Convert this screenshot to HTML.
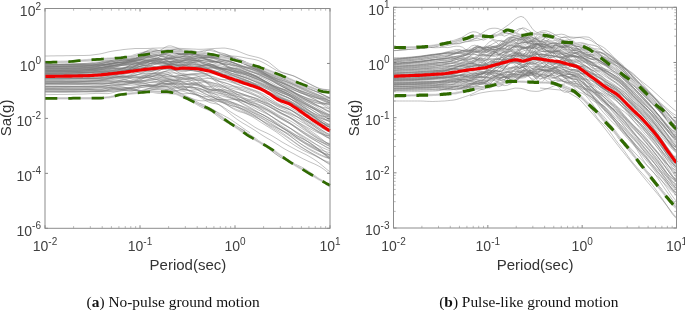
<!DOCTYPE html>
<html><head><meta charset="utf-8"><style>
html,body{margin:0;padding:0;background:#fff;}
body{width:685px;height:310px;overflow:hidden;position:relative;}
svg{position:absolute;left:0;top:0;filter:blur(0.35px);}
</style></head><body>
<svg width="685" height="310" viewBox="0 0 685 310">
<path d="M45.0 86.2L48.0 86.2L51.0 86.2L54.0 86.2L57.0 86.2L60.0 86.2L63.0 86.2L66.0 86.2L69.0 86.2L72.0 86.2L75.0 86.2L78.0 86.1L81.0 86.1L84.0 86.0L87.0 86.1L90.0 86.1L93.0 86.1L96.0 86.1L99.0 86.1L102.0 86.0L105.0 85.8L108.0 85.5L111.0 85.2L114.0 85.0L117.0 84.9L120.0 84.9L123.0 84.7L126.0 84.4L129.0 83.9L132.0 83.7L135.0 83.9L138.0 84.5L141.0 84.9L144.0 85.2L147.0 85.4L150.0 85.6L153.0 85.8L156.0 85.4L159.0 84.4L162.0 82.9L165.0 81.7L168.0 81.5L171.0 82.4L174.0 83.8L177.0 85.1L180.0 86.0L183.0 86.7L186.0 87.2L189.0 87.4L192.0 87.4L195.0 87.4L198.0 87.8L201.0 88.7L204.0 90.0L207.0 91.2L210.0 92.3L213.0 93.3L216.0 94.2L219.0 95.1L222.0 96.0L225.0 96.8L228.0 97.6L231.0 98.3L234.0 99.2L237.0 100.5L240.0 102.3L243.0 104.2L246.0 105.9L249.0 107.6L252.0 109.2L255.0 110.9L258.0 112.4L261.0 113.8L264.0 115.2L267.0 116.7L270.0 118.4L273.0 120.2L276.0 122.1L279.0 124.1L282.0 126.0L285.0 127.9L288.0 129.8L291.0 131.8L294.0 133.8L297.0 135.7L300.0 137.4L303.0 138.9L306.0 140.5L309.0 142.2L312.0 144.2L315.0 146.5L318.0 149.0L321.0 151.6L324.0 154.3L327.0 157.0L330.0 159.3M45.0 73.2L48.0 73.2L51.0 73.2L54.0 73.1L57.0 73.1L60.0 73.1L63.0 73.1L66.0 73.0L69.0 72.9L72.0 72.9L75.0 72.8L78.0 72.7L81.0 72.6L84.0 72.4L87.0 72.2L90.0 71.9L93.0 71.6L96.0 71.3L99.0 71.3L102.0 71.3L105.0 71.1L108.0 70.7L111.0 70.4L114.0 70.5L117.0 70.9L120.0 71.2L123.0 70.9L126.0 70.3L129.0 69.8L132.0 69.7L135.0 69.8L138.0 69.9L141.0 69.2L144.0 67.6L147.0 65.5L150.0 63.7L153.0 62.9L156.0 63.0L159.0 63.1L162.0 63.1L165.0 63.4L168.0 64.0L171.0 64.7L174.0 65.3L177.0 65.5L180.0 65.1L183.0 64.8L186.0 65.3L189.0 66.6L192.0 67.9L195.0 68.6L198.0 68.6L201.0 68.3L204.0 68.3L207.0 68.8L210.0 69.5L213.0 70.3L216.0 71.1L219.0 72.2L222.0 73.7L225.0 75.5L228.0 77.1L231.0 78.4L234.0 79.5L237.0 80.8L240.0 82.1L243.0 83.4L246.0 84.5L249.0 85.4L252.0 86.3L255.0 87.2L258.0 88.4L261.0 89.5L264.0 90.6L267.0 91.7L270.0 93.1L273.0 95.0L276.0 97.1L279.0 98.9L282.0 100.3L285.0 101.6L288.0 102.9L291.0 104.7L294.0 106.6L297.0 108.7L300.0 110.9L303.0 113.0L306.0 115.1L309.0 117.1L312.0 118.8L315.0 120.2L318.0 121.4L321.0 122.5L324.0 123.6L327.0 124.4L330.0 124.8M45.0 78.4L48.0 78.4L51.0 78.4L54.0 78.3L57.0 78.3L60.0 78.3L63.0 78.3L66.0 78.3L69.0 78.4L72.0 78.4L75.0 78.4L78.0 78.4L81.0 78.5L84.0 78.5L87.0 78.4L90.0 78.4L93.0 78.5L96.0 78.6L99.0 78.7L102.0 78.7L105.0 78.6L108.0 78.4L111.0 78.0L114.0 77.6L117.0 77.0L120.0 76.4L123.0 76.2L126.0 76.6L129.0 77.2L132.0 77.6L135.0 77.8L138.0 77.3L141.0 76.3L144.0 75.1L147.0 74.2L150.0 73.7L153.0 73.5L156.0 74.0L159.0 75.0L162.0 76.2L165.0 77.4L168.0 78.5L171.0 79.8L174.0 81.0L177.0 81.6L180.0 81.4L183.0 81.0L186.0 81.1L189.0 82.1L192.0 83.7L195.0 85.1L198.0 86.0L201.0 86.7L204.0 87.7L207.0 88.6L210.0 89.4L213.0 89.9L216.0 90.5L219.0 91.4L222.0 92.2L225.0 92.5L228.0 92.8L231.0 93.5L234.0 94.7L237.0 96.0L240.0 97.3L243.0 98.7L246.0 100.1L249.0 101.5L252.0 102.8L255.0 104.0L258.0 105.1L261.0 106.4L264.0 107.7L267.0 109.2L270.0 110.9L273.0 112.6L276.0 114.4L279.0 116.3L282.0 118.2L285.0 120.0L288.0 121.9L291.0 124.1L294.0 126.4L297.0 128.7L300.0 131.0L303.0 133.2L306.0 135.2L309.0 137.1L312.0 138.9L315.0 140.6L318.0 142.3L321.0 144.1L324.0 145.9L327.0 147.6L330.0 148.9M45.0 81.3L48.0 81.3L51.0 81.3L54.0 81.3L57.0 81.3L60.0 81.3L63.0 81.3L66.0 81.3L69.0 81.3L72.0 81.3L75.0 81.3L78.0 81.2L81.0 81.1L84.0 81.1L87.0 81.1L90.0 81.0L93.0 80.9L96.0 80.8L99.0 80.5L102.0 80.3L105.0 80.2L108.0 80.3L111.0 80.3L114.0 80.1L117.0 80.1L120.0 80.5L123.0 81.3L126.0 82.1L129.0 82.3L132.0 81.9L135.0 81.3L138.0 80.4L141.0 79.2L144.0 78.2L147.0 77.9L150.0 78.4L153.0 78.7L156.0 78.0L159.0 77.2L162.0 77.1L165.0 78.0L168.0 79.3L171.0 80.2L174.0 80.8L177.0 80.7L180.0 79.9L183.0 79.2L186.0 79.5L189.0 81.0L192.0 82.8L195.0 83.9L198.0 84.7L201.0 85.9L204.0 87.7L207.0 89.4L210.0 90.2L213.0 90.2L216.0 89.9L219.0 89.7L222.0 90.2L225.0 91.6L228.0 93.6L231.0 95.5L234.0 97.0L237.0 98.3L240.0 99.6L243.0 100.9L246.0 102.3L249.0 103.6L252.0 105.0L255.0 106.4L258.0 108.0L261.0 109.7L264.0 111.6L267.0 113.5L270.0 115.4L273.0 117.3L276.0 119.2L279.0 121.2L282.0 123.3L285.0 125.2L288.0 127.0L291.0 128.7L294.0 130.5L297.0 132.3L300.0 134.1L303.0 135.9L306.0 137.7L309.0 139.5L312.0 141.5L315.0 143.6L318.0 145.8L321.0 148.2L324.0 150.7L327.0 153.2L330.0 155.2M45.0 71.9L48.0 71.8L51.0 71.8L54.0 71.8L57.0 71.8L60.0 71.7L63.0 71.7L66.0 71.6L69.0 71.6L72.0 71.5L75.0 71.5L78.0 71.5L81.0 71.4L84.0 71.4L87.0 71.3L90.0 71.1L93.0 70.9L96.0 70.6L99.0 70.2L102.0 69.8L105.0 69.4L108.0 69.1L111.0 68.9L114.0 68.7L117.0 68.8L120.0 68.9L123.0 68.6L126.0 67.6L129.0 66.3L132.0 65.5L135.0 65.5L138.0 66.1L141.0 66.6L144.0 66.9L147.0 66.9L150.0 67.0L153.0 67.1L156.0 67.0L159.0 66.5L162.0 65.6L165.0 64.8L168.0 64.6L171.0 65.2L174.0 66.3L177.0 67.0L180.0 67.0L183.0 66.4L186.0 65.8L189.0 64.9L192.0 64.1L195.0 63.8L198.0 64.4L201.0 65.6L204.0 67.0L207.0 68.3L210.0 69.5L213.0 70.6L216.0 71.6L219.0 72.8L222.0 73.9L225.0 75.0L228.0 76.2L231.0 77.5L234.0 78.7L237.0 79.6L240.0 80.3L243.0 81.2L246.0 82.2L249.0 83.4L252.0 84.6L255.0 85.9L258.0 87.3L261.0 88.8L264.0 90.5L267.0 92.5L270.0 94.7L273.0 97.1L276.0 99.5L279.0 101.7L282.0 103.7L285.0 105.2L288.0 106.6L291.0 108.1L294.0 109.8L297.0 111.6L300.0 113.4L303.0 115.2L306.0 116.9L309.0 118.8L312.0 120.7L315.0 122.6L318.0 124.5L321.0 126.3L324.0 128.1L327.0 129.7L330.0 130.9M45.0 64.6L48.0 64.6L51.0 64.5L54.0 64.4L57.0 64.4L60.0 64.3L63.0 64.2L66.0 64.1L69.0 64.1L72.0 64.0L75.0 63.9L78.0 63.9L81.0 63.8L84.0 63.8L87.0 63.8L90.0 63.7L93.0 63.4L96.0 63.1L99.0 62.6L102.0 62.1L105.0 61.7L108.0 61.2L111.0 60.5L114.0 59.7L117.0 59.1L120.0 58.9L123.0 58.8L126.0 58.5L129.0 58.1L132.0 57.4L135.0 56.6L138.0 55.5L141.0 54.0L144.0 52.4L147.0 50.8L150.0 49.6L153.0 49.0L156.0 49.5L159.0 50.8L162.0 51.9L165.0 51.8L168.0 51.0L171.0 50.6L174.0 51.6L177.0 53.4L180.0 55.1L183.0 56.3L186.0 56.8L189.0 57.2L192.0 57.4L195.0 57.4L198.0 57.3L201.0 57.1L204.0 57.0L207.0 57.2L210.0 57.6L213.0 57.6L216.0 57.4L219.0 56.9L222.0 56.4L225.0 56.2L228.0 56.5L231.0 57.4L234.0 58.8L237.0 60.4L240.0 62.1L243.0 63.6L246.0 64.8L249.0 66.1L252.0 67.6L255.0 69.1L258.0 70.7L261.0 72.5L264.0 74.2L267.0 76.0L270.0 77.7L273.0 79.3L276.0 80.8L279.0 81.9L282.0 82.9L285.0 83.8L288.0 84.9L291.0 86.2L294.0 87.6L297.0 89.0L300.0 90.4L303.0 91.6L306.0 92.9L309.0 94.1L312.0 95.4L315.0 96.8L318.0 98.1L321.0 99.5L324.0 100.9L327.0 102.1L330.0 103.2M45.0 75.7L48.0 75.7L51.0 75.7L54.0 75.6L57.0 75.6L60.0 75.6L63.0 75.5L66.0 75.4L69.0 75.4L72.0 75.4L75.0 75.4L78.0 75.3L81.0 75.2L84.0 75.1L87.0 75.1L90.0 75.0L93.0 74.9L96.0 74.6L99.0 74.3L102.0 74.0L105.0 73.4L108.0 72.7L111.0 72.1L114.0 71.8L117.0 71.8L120.0 72.0L123.0 71.9L126.0 71.1L129.0 70.0L132.0 69.0L135.0 68.4L138.0 67.8L141.0 67.3L144.0 67.2L147.0 67.9L150.0 69.2L153.0 70.2L156.0 70.0L159.0 68.5L162.0 66.6L165.0 65.2L168.0 64.9L171.0 66.0L174.0 67.7L177.0 68.8L180.0 68.9L183.0 68.7L186.0 69.0L189.0 69.4L192.0 69.9L195.0 70.4L198.0 71.3L201.0 72.4L204.0 73.3L207.0 73.7L210.0 73.8L213.0 73.7L216.0 73.5L219.0 73.5L222.0 73.9L225.0 74.5L228.0 75.4L231.0 76.4L234.0 77.5L237.0 78.6L240.0 79.6L243.0 80.6L246.0 81.6L249.0 82.8L252.0 83.9L255.0 85.0L258.0 86.3L261.0 87.8L264.0 89.4L267.0 90.8L270.0 92.1L273.0 93.6L276.0 95.2L279.0 96.7L282.0 98.0L285.0 99.3L288.0 100.6L291.0 102.2L294.0 104.0L297.0 105.8L300.0 107.7L303.0 109.5L306.0 111.5L309.0 113.6L312.0 115.7L315.0 117.8L318.0 119.8L321.0 121.9L324.0 123.8L327.0 125.7L330.0 127.1M45.0 70.8L48.0 70.7L51.0 70.7L54.0 70.6L57.0 70.6L60.0 70.5L63.0 70.5L66.0 70.4L69.0 70.4L72.0 70.3L75.0 70.2L78.0 70.1L81.0 70.0L84.0 69.9L87.0 69.8L90.0 69.7L93.0 69.5L96.0 69.4L99.0 69.2L102.0 69.0L105.0 68.6L108.0 68.2L111.0 67.8L114.0 67.4L117.0 66.6L120.0 65.4L123.0 64.3L126.0 63.8L129.0 64.1L132.0 64.4L135.0 64.1L138.0 63.5L141.0 62.6L144.0 61.6L147.0 60.3L150.0 59.2L153.0 58.6L156.0 58.9L159.0 59.7L162.0 61.0L165.0 62.4L168.0 63.7L171.0 64.4L174.0 64.3L177.0 63.4L180.0 62.0L183.0 60.7L186.0 59.9L189.0 59.9L192.0 60.4L195.0 60.9L198.0 60.9L201.0 60.4L204.0 59.6L207.0 59.3L210.0 59.5L213.0 60.3L216.0 61.3L219.0 62.3L222.0 63.5L225.0 64.8L228.0 66.2L231.0 67.3L234.0 68.0L237.0 68.6L240.0 69.5L243.0 70.7L246.0 72.0L249.0 73.3L252.0 74.6L255.0 75.9L258.0 77.2L261.0 78.6L264.0 80.2L267.0 81.8L270.0 83.5L273.0 85.1L276.0 86.7L279.0 88.1L282.0 89.3L285.0 90.5L288.0 91.7L291.0 93.1L294.0 94.7L297.0 96.3L300.0 97.8L303.0 99.3L306.0 100.8L309.0 102.3L312.0 103.8L315.0 105.0L318.0 106.1L321.0 106.9L324.0 107.6L327.0 108.1L330.0 108.2M45.0 77.7L48.0 77.7L51.0 77.7L54.0 77.7L57.0 77.7L60.0 77.7L63.0 77.7L66.0 77.6L69.0 77.6L72.0 77.6L75.0 77.6L78.0 77.6L81.0 77.6L84.0 77.6L87.0 77.6L90.0 77.5L93.0 77.4L96.0 77.1L99.0 76.7L102.0 76.4L105.0 76.2L108.0 76.1L111.0 75.9L114.0 75.8L117.0 75.9L120.0 76.3L123.0 76.8L126.0 76.9L129.0 76.4L132.0 75.8L135.0 76.1L138.0 77.1L141.0 77.7L144.0 77.2L147.0 76.0L150.0 74.8L153.0 74.0L156.0 73.4L159.0 72.7L162.0 71.9L165.0 71.6L168.0 72.2L171.0 74.0L174.0 75.9L177.0 76.8L180.0 76.2L183.0 75.2L186.0 74.5L189.0 74.1L192.0 73.8L195.0 73.6L198.0 73.3L201.0 73.1L204.0 73.6L207.0 74.8L210.0 76.5L213.0 78.3L216.0 79.8L219.0 81.0L222.0 81.9L225.0 82.8L228.0 83.8L231.0 84.9L234.0 86.2L237.0 87.4L240.0 88.5L243.0 89.4L246.0 90.3L249.0 91.4L252.0 92.8L255.0 94.3L258.0 95.6L261.0 96.8L264.0 98.1L267.0 99.7L270.0 101.6L273.0 103.7L276.0 105.7L279.0 107.3L282.0 108.6L285.0 109.7L288.0 111.0L291.0 112.7L294.0 114.7L297.0 116.8L300.0 119.1L303.0 121.4L306.0 123.7L309.0 125.9L312.0 128.0L315.0 130.0L318.0 132.0L321.0 133.9L324.0 135.7L327.0 137.3L330.0 138.2M45.0 73.0L48.0 72.9L51.0 72.9L54.0 72.9L57.0 72.9L60.0 72.8L63.0 72.8L66.0 72.8L69.0 72.7L72.0 72.7L75.0 72.7L78.0 72.6L81.0 72.6L84.0 72.4L87.0 72.3L90.0 72.4L93.0 72.6L96.0 72.8L99.0 72.7L102.0 72.5L105.0 72.2L108.0 72.0L111.0 71.8L114.0 71.3L117.0 70.7L120.0 70.2L123.0 69.8L126.0 69.3L129.0 68.8L132.0 68.2L135.0 67.6L138.0 66.8L141.0 66.0L144.0 65.4L147.0 65.1L150.0 65.2L153.0 66.1L156.0 67.5L159.0 68.8L162.0 69.5L165.0 69.6L168.0 69.1L171.0 68.8L174.0 69.7L177.0 71.6L180.0 73.4L183.0 74.7L186.0 75.3L189.0 75.2L192.0 74.8L195.0 75.0L198.0 76.2L201.0 78.1L204.0 80.5L207.0 82.6L210.0 84.2L213.0 85.5L216.0 87.0L219.0 88.6L222.0 90.4L225.0 91.9L228.0 93.3L231.0 94.7L234.0 96.1L237.0 97.7L240.0 99.4L243.0 101.1L246.0 102.8L249.0 104.6L252.0 106.4L255.0 108.2L258.0 109.8L261.0 111.2L264.0 112.6L267.0 114.0L270.0 115.6L273.0 117.4L276.0 119.2L279.0 121.0L282.0 122.8L285.0 124.7L288.0 126.7L291.0 128.9L294.0 131.2L297.0 133.5L300.0 135.8L303.0 138.1L306.0 140.4L309.0 142.7L312.0 145.0L315.0 147.1L318.0 149.3L321.0 151.4L324.0 153.5L327.0 155.5L330.0 157.1M45.0 76.4L48.0 76.4L51.0 76.4L54.0 76.4L57.0 76.4L60.0 76.3L63.0 76.3L66.0 76.3L69.0 76.3L72.0 76.3L75.0 76.3L78.0 76.3L81.0 76.3L84.0 76.2L87.0 76.0L90.0 75.8L93.0 75.5L96.0 75.3L99.0 75.1L102.0 74.9L105.0 74.9L108.0 74.9L111.0 74.6L114.0 74.3L117.0 74.2L120.0 74.6L123.0 74.6L126.0 73.8L129.0 72.5L132.0 71.6L135.0 71.1L138.0 70.5L141.0 70.1L144.0 70.1L147.0 70.6L150.0 71.3L153.0 72.0L156.0 72.6L159.0 72.9L162.0 72.4L165.0 71.3L168.0 70.2L171.0 69.9L174.0 70.3L177.0 70.8L180.0 71.2L183.0 71.7L186.0 71.5L189.0 70.5L192.0 69.6L195.0 69.5L198.0 70.0L201.0 70.4L204.0 70.4L207.0 70.3L210.0 70.8L213.0 72.0L216.0 73.6L219.0 74.8L222.0 75.5L225.0 76.0L228.0 76.7L231.0 77.9L234.0 79.5L237.0 80.9L240.0 81.8L243.0 82.4L246.0 82.9L249.0 83.6L252.0 84.6L255.0 85.6L258.0 86.8L261.0 88.4L264.0 90.5L267.0 92.6L270.0 94.7L273.0 96.7L276.0 98.4L279.0 99.9L282.0 101.1L285.0 102.0L288.0 103.0L291.0 104.1L294.0 105.5L297.0 107.0L300.0 108.7L303.0 110.6L306.0 112.7L309.0 115.0L312.0 117.2L315.0 119.3L318.0 121.1L321.0 122.9L324.0 124.5L327.0 125.9L330.0 126.7M45.0 74.7L48.0 74.7L51.0 74.6L54.0 74.6L57.0 74.6L60.0 74.5L63.0 74.5L66.0 74.5L69.0 74.4L72.0 74.4L75.0 74.4L78.0 74.3L81.0 74.3L84.0 74.3L87.0 74.2L90.0 74.0L93.0 73.8L96.0 73.4L99.0 73.0L102.0 72.5L105.0 72.2L108.0 72.3L111.0 72.4L114.0 72.4L117.0 72.0L120.0 71.3L123.0 70.6L126.0 69.7L129.0 68.7L132.0 67.5L135.0 66.5L138.0 66.3L141.0 67.0L144.0 67.8L147.0 68.1L150.0 68.1L153.0 67.8L156.0 67.2L159.0 66.4L162.0 65.7L165.0 65.1L168.0 64.4L171.0 63.6L174.0 62.8L177.0 62.2L180.0 61.6L183.0 61.6L186.0 62.7L189.0 64.8L192.0 66.5L195.0 67.3L198.0 67.4L201.0 67.9L204.0 69.0L207.0 70.2L210.0 71.0L213.0 71.1L216.0 71.3L219.0 71.8L222.0 72.6L225.0 73.4L228.0 74.2L231.0 74.8L234.0 75.3L237.0 76.0L240.0 77.1L243.0 78.4L246.0 79.8L249.0 81.0L252.0 82.2L255.0 83.3L258.0 84.3L261.0 85.3L264.0 86.5L267.0 87.8L270.0 89.1L273.0 90.6L276.0 92.2L279.0 93.7L282.0 95.0L285.0 96.3L288.0 97.7L291.0 99.3L294.0 101.1L297.0 103.0L300.0 104.9L303.0 106.8L306.0 108.6L309.0 110.4L312.0 112.2L315.0 113.9L318.0 115.6L321.0 117.2L324.0 118.8L327.0 120.3L330.0 121.5M45.0 91.5L48.0 91.5L51.0 91.5L54.0 91.5L57.0 91.5L60.0 91.5L63.0 91.5L66.0 91.5L69.0 91.5L72.0 91.5L75.0 91.6L78.0 91.6L81.0 91.6L84.0 91.6L87.0 91.6L90.0 91.5L93.0 91.6L96.0 91.7L99.0 91.8L102.0 91.8L105.0 91.9L108.0 91.7L111.0 91.4L114.0 91.0L117.0 90.5L120.0 89.9L123.0 89.3L126.0 89.0L129.0 89.0L132.0 89.6L135.0 90.4L138.0 90.8L141.0 90.6L144.0 90.0L147.0 89.2L150.0 88.5L153.0 88.1L156.0 87.9L159.0 87.3L162.0 86.5L165.0 86.2L168.0 87.2L171.0 89.1L174.0 90.6L177.0 90.9L180.0 90.8L183.0 91.2L186.0 92.2L189.0 93.2L192.0 94.0L195.0 94.7L198.0 95.5L201.0 96.3L204.0 96.7L207.0 96.6L210.0 96.6L213.0 97.2L216.0 98.5L219.0 99.5L222.0 99.8L225.0 99.7L228.0 99.6L231.0 99.7L234.0 99.7L237.0 99.7L240.0 99.8L243.0 100.0L246.0 100.3L249.0 100.6L252.0 101.0L255.0 101.5L258.0 102.1L261.0 103.0L264.0 104.1L267.0 105.5L270.0 107.0L273.0 108.7L276.0 110.5L279.0 112.2L282.0 113.8L285.0 115.2L288.0 116.8L291.0 118.5L294.0 120.7L297.0 123.0L300.0 125.3L303.0 127.7L306.0 129.9L309.0 132.2L312.0 134.4L315.0 136.4L318.0 138.3L321.0 140.0L324.0 141.5L327.0 142.8L330.0 143.6M45.0 71.8L48.0 71.7L51.0 71.7L54.0 71.7L57.0 71.6L60.0 71.6L63.0 71.6L66.0 71.5L69.0 71.4L72.0 71.4L75.0 71.3L78.0 71.3L81.0 71.2L84.0 71.0L87.0 70.8L90.0 70.7L93.0 70.6L96.0 70.7L99.0 70.7L102.0 70.7L105.0 70.5L108.0 69.9L111.0 69.1L114.0 68.6L117.0 68.8L120.0 69.6L123.0 70.3L126.0 70.2L129.0 69.3L132.0 67.7L135.0 65.9L138.0 64.2L141.0 63.1L144.0 62.4L147.0 62.0L150.0 61.7L153.0 61.6L156.0 61.7L159.0 62.0L162.0 62.2L165.0 62.1L168.0 61.6L171.0 61.2L174.0 61.5L177.0 62.1L180.0 62.4L183.0 62.5L186.0 62.5L189.0 62.6L192.0 62.6L195.0 62.2L198.0 61.3L201.0 60.4L204.0 60.1L207.0 60.6L210.0 61.6L213.0 62.7L216.0 63.7L219.0 64.3L222.0 64.5L225.0 64.5L228.0 64.5L231.0 64.8L234.0 65.4L237.0 66.4L240.0 67.5L243.0 68.7L246.0 69.9L249.0 71.1L252.0 72.2L255.0 73.4L258.0 74.6L261.0 75.9L264.0 77.3L267.0 78.6L270.0 79.9L273.0 81.4L276.0 83.2L279.0 85.0L282.0 86.7L285.0 88.1L288.0 89.5L291.0 90.9L294.0 92.4L297.0 93.9L300.0 95.4L303.0 96.7L306.0 97.9L309.0 99.0L312.0 100.0L315.0 100.9L318.0 101.7L321.0 102.5L324.0 103.2L327.0 103.7L330.0 104.0M45.0 78.2L48.0 78.2L51.0 78.2L54.0 78.2L57.0 78.3L60.0 78.3L63.0 78.3L66.0 78.3L69.0 78.3L72.0 78.3L75.0 78.3L78.0 78.3L81.0 78.2L84.0 78.0L87.0 77.9L90.0 78.0L93.0 78.0L96.0 78.0L99.0 77.8L102.0 77.5L105.0 77.2L108.0 77.0L111.0 76.8L114.0 76.8L117.0 76.9L120.0 77.1L123.0 77.3L126.0 77.4L129.0 77.1L132.0 76.5L135.0 75.5L138.0 74.5L141.0 73.5L144.0 73.0L147.0 73.0L150.0 73.3L153.0 73.4L156.0 73.3L159.0 73.8L162.0 74.9L165.0 76.3L168.0 77.1L171.0 77.0L174.0 76.2L177.0 75.5L180.0 75.2L183.0 75.4L186.0 75.9L189.0 76.7L192.0 77.8L195.0 79.3L198.0 81.2L201.0 83.3L204.0 85.3L207.0 86.4L210.0 86.5L213.0 86.0L216.0 85.9L219.0 86.8L222.0 88.2L225.0 89.8L228.0 91.0L231.0 91.9L234.0 92.8L237.0 94.1L240.0 95.5L243.0 97.1L246.0 98.6L249.0 100.1L252.0 101.4L255.0 102.9L258.0 104.5L261.0 106.4L264.0 108.2L267.0 109.8L270.0 111.4L273.0 113.2L276.0 115.1L279.0 117.0L282.0 118.7L285.0 120.1L288.0 121.6L291.0 123.4L294.0 125.5L297.0 127.7L300.0 129.9L303.0 131.9L306.0 133.9L309.0 135.8L312.0 137.5L315.0 139.1L318.0 140.6L321.0 141.9L324.0 143.0L327.0 144.0L330.0 144.6M45.0 70.9L48.0 70.9L51.0 70.9L54.0 70.8L57.0 70.8L60.0 70.7L63.0 70.7L66.0 70.6L69.0 70.6L72.0 70.5L75.0 70.4L78.0 70.4L81.0 70.3L84.0 70.1L87.0 69.9L90.0 69.7L93.0 69.5L96.0 69.3L99.0 68.9L102.0 68.4L105.0 67.8L108.0 67.5L111.0 67.4L114.0 67.7L117.0 68.2L120.0 68.4L123.0 68.1L126.0 67.1L129.0 65.8L132.0 64.6L135.0 64.0L138.0 64.0L141.0 64.2L144.0 63.8L147.0 62.7L150.0 61.1L153.0 59.5L156.0 58.4L159.0 58.3L162.0 59.2L165.0 60.4L168.0 61.0L171.0 61.2L174.0 61.7L177.0 62.6L180.0 63.5L183.0 64.7L186.0 66.0L189.0 67.0L192.0 67.5L195.0 67.6L198.0 67.1L201.0 66.4L204.0 65.8L207.0 65.5L210.0 65.5L213.0 65.8L216.0 66.6L219.0 67.8L222.0 69.3L225.0 70.7L228.0 71.9L231.0 73.1L234.0 74.0L237.0 74.9L240.0 75.8L243.0 76.8L246.0 78.0L249.0 79.1L252.0 80.3L255.0 81.6L258.0 83.1L261.0 84.5L264.0 86.1L267.0 87.6L270.0 89.4L273.0 91.4L276.0 93.2L279.0 94.6L282.0 95.8L285.0 96.8L288.0 98.0L291.0 99.5L294.0 101.5L297.0 103.7L300.0 106.0L303.0 108.3L306.0 110.6L309.0 113.0L312.0 115.3L315.0 117.6L318.0 119.7L321.0 121.7L324.0 123.4L327.0 124.9L330.0 125.9M45.0 67.6L48.0 67.5L51.0 67.5L54.0 67.4L57.0 67.4L60.0 67.3L63.0 67.3L66.0 67.2L69.0 67.2L72.0 67.1L75.0 67.1L78.0 67.1L81.0 67.1L84.0 67.1L87.0 67.0L90.0 66.8L93.0 66.5L96.0 66.1L99.0 65.6L102.0 65.1L105.0 64.5L108.0 63.8L111.0 63.1L114.0 62.7L117.0 62.5L120.0 62.8L123.0 63.4L126.0 63.6L129.0 63.1L132.0 61.7L135.0 60.0L138.0 58.7L141.0 58.1L144.0 57.9L147.0 57.5L150.0 57.0L153.0 56.6L156.0 56.3L159.0 55.5L162.0 54.1L165.0 52.8L168.0 52.1L171.0 52.2L174.0 52.4L177.0 52.4L180.0 52.5L183.0 52.9L186.0 53.2L189.0 53.1L192.0 52.9L195.0 53.0L198.0 53.7L201.0 55.0L204.0 56.2L207.0 56.9L210.0 57.1L213.0 56.9L216.0 56.8L219.0 57.0L222.0 57.2L225.0 57.2L228.0 57.1L231.0 57.5L234.0 58.4L237.0 59.8L240.0 61.4L243.0 63.2L246.0 64.9L249.0 66.5L252.0 67.9L255.0 69.2L258.0 70.5L261.0 72.0L264.0 73.5L267.0 74.9L270.0 76.4L273.0 77.6L276.0 78.6L279.0 79.5L282.0 80.3L285.0 81.2L288.0 82.2L291.0 83.3L294.0 84.6L297.0 85.8L300.0 87.1L303.0 88.3L306.0 89.4L309.0 90.6L312.0 91.8L315.0 93.1L318.0 94.5L321.0 96.1L324.0 97.7L327.0 99.4L330.0 101.0M45.0 87.2L48.0 87.2L51.0 87.2L54.0 87.2L57.0 87.2L60.0 87.2L63.0 87.2L66.0 87.2L69.0 87.2L72.0 87.1L75.0 87.1L78.0 87.1L81.0 87.1L84.0 87.1L87.0 87.1L90.0 87.1L93.0 87.2L96.0 87.2L99.0 87.0L102.0 86.9L105.0 86.9L108.0 86.9L111.0 86.6L114.0 85.8L117.0 85.1L120.0 84.8L123.0 84.6L126.0 84.3L129.0 83.8L132.0 83.2L135.0 82.4L138.0 81.4L141.0 80.6L144.0 80.3L147.0 80.3L150.0 80.2L153.0 79.6L156.0 79.1L159.0 78.9L162.0 79.1L165.0 79.4L168.0 79.8L171.0 80.0L174.0 80.2L177.0 80.1L180.0 79.7L183.0 79.3L186.0 79.2L189.0 79.6L192.0 80.6L195.0 82.2L198.0 84.0L201.0 85.4L204.0 86.2L207.0 86.8L210.0 87.6L213.0 88.4L216.0 89.3L219.0 90.0L222.0 90.5L225.0 91.1L228.0 92.0L231.0 93.1L234.0 93.9L237.0 94.4L240.0 94.8L243.0 95.2L246.0 95.7L249.0 96.4L252.0 97.1L255.0 97.8L258.0 98.7L261.0 99.8L264.0 101.2L267.0 102.8L270.0 104.5L273.0 106.3L276.0 108.0L279.0 109.4L282.0 110.6L285.0 111.4L288.0 112.3L291.0 113.6L294.0 115.1L297.0 116.7L300.0 118.5L303.0 120.4L306.0 122.4L309.0 124.6L312.0 126.7L315.0 128.9L318.0 131.0L321.0 133.1L324.0 135.3L327.0 137.3L330.0 139.0M45.0 94.7L48.0 94.6L51.0 94.6L54.0 94.5L57.0 94.5L60.0 94.4L63.0 94.4L66.0 94.4L69.0 94.3L72.0 94.3L75.0 94.2L78.0 94.1L81.0 94.1L84.0 94.0L87.0 93.9L90.0 93.7L93.0 93.6L96.0 93.4L99.0 93.4L102.0 93.5L105.0 93.6L108.0 93.6L111.0 93.1L114.0 92.3L117.0 91.5L120.0 90.7L123.0 89.9L126.0 88.9L129.0 88.0L132.0 87.1L135.0 86.3L138.0 85.6L141.0 85.3L144.0 85.4L147.0 85.8L150.0 86.3L153.0 86.8L156.0 87.0L159.0 86.9L162.0 86.6L165.0 86.7L168.0 86.9L171.0 87.1L174.0 87.4L177.0 88.2L180.0 89.2L183.0 89.6L186.0 88.8L189.0 87.0L192.0 85.5L195.0 85.0L198.0 85.4L201.0 86.4L204.0 87.8L207.0 89.5L210.0 91.1L213.0 92.2L216.0 92.8L219.0 93.1L222.0 93.6L225.0 94.3L228.0 94.9L231.0 95.3L234.0 95.6L237.0 96.3L240.0 97.3L243.0 98.3L246.0 98.9L249.0 99.3L252.0 99.5L255.0 100.0L258.0 100.6L261.0 101.4L264.0 102.3L267.0 103.4L270.0 104.5L273.0 106.0L276.0 107.7L279.0 109.3L282.0 110.8L285.0 112.0L288.0 113.2L291.0 114.4L294.0 115.7L297.0 117.0L300.0 118.2L303.0 119.5L306.0 120.8L309.0 122.2L312.0 123.7L315.0 125.4L318.0 127.3L321.0 129.4L324.0 131.5L327.0 133.5L330.0 135.1M45.0 67.4L48.0 67.3L51.0 67.3L54.0 67.2L57.0 67.2L60.0 67.1L63.0 67.1L66.0 67.0L69.0 66.9L72.0 66.9L75.0 66.8L78.0 66.7L81.0 66.7L84.0 66.5L87.0 66.4L90.0 66.2L93.0 66.0L96.0 65.7L99.0 65.3L102.0 64.8L105.0 64.5L108.0 64.4L111.0 64.0L114.0 63.1L117.0 61.8L120.0 60.8L123.0 60.3L126.0 60.2L129.0 60.1L132.0 60.0L135.0 60.1L138.0 60.1L141.0 59.7L144.0 58.6L147.0 57.2L150.0 55.8L153.0 54.5L156.0 53.7L159.0 53.7L162.0 54.1L165.0 54.1L168.0 53.5L171.0 52.9L174.0 52.6L177.0 52.8L180.0 53.5L183.0 54.2L186.0 54.5L189.0 54.3L192.0 54.0L195.0 54.1L198.0 54.2L201.0 53.6L204.0 52.1L207.0 50.4L210.0 49.4L213.0 49.8L216.0 51.2L219.0 53.0L222.0 54.7L225.0 56.0L228.0 56.8L231.0 57.7L234.0 58.8L237.0 59.7L240.0 60.6L243.0 61.6L246.0 62.8L249.0 64.0L252.0 65.3L255.0 66.5L258.0 67.7L261.0 69.0L264.0 70.5L267.0 72.0L270.0 73.3L273.0 74.6L276.0 75.8L279.0 77.0L282.0 78.4L285.0 79.7L288.0 81.1L291.0 82.5L294.0 83.9L297.0 85.2L300.0 86.4L303.0 87.5L306.0 88.5L309.0 89.4L312.0 90.3L315.0 91.3L318.0 92.4L321.0 93.7L324.0 95.0L327.0 96.5L330.0 97.7M45.0 69.1L48.0 69.1L51.0 69.0L54.0 69.0L57.0 69.0L60.0 68.9L63.0 68.9L66.0 68.8L69.0 68.8L72.0 68.8L75.0 68.7L78.0 68.7L81.0 68.6L84.0 68.6L87.0 68.6L90.0 68.5L93.0 68.3L96.0 68.0L99.0 67.6L102.0 67.3L105.0 66.9L108.0 66.5L111.0 66.1L114.0 65.5L117.0 64.8L120.0 64.5L123.0 64.6L126.0 64.5L129.0 64.0L132.0 63.1L135.0 62.3L138.0 62.1L141.0 62.2L144.0 62.1L147.0 61.7L150.0 61.5L153.0 62.1L156.0 63.1L159.0 63.4L162.0 62.7L165.0 61.2L168.0 59.6L171.0 58.5L174.0 58.6L177.0 59.6L180.0 60.4L183.0 60.2L186.0 59.3L189.0 58.8L192.0 59.0L195.0 59.7L198.0 60.6L201.0 61.6L204.0 62.4L207.0 63.1L210.0 63.9L213.0 65.1L216.0 66.7L219.0 68.4L222.0 70.0L225.0 70.9L228.0 71.3L231.0 71.5L234.0 71.7L237.0 72.2L240.0 72.9L243.0 73.9L246.0 74.9L249.0 76.0L252.0 77.0L255.0 78.1L258.0 79.3L261.0 80.7L264.0 82.2L267.0 83.6L270.0 85.2L273.0 86.9L276.0 88.6L279.0 90.2L282.0 91.6L285.0 93.0L288.0 94.5L291.0 96.3L294.0 98.2L297.0 100.1L300.0 101.9L303.0 103.6L306.0 105.1L309.0 106.6L312.0 108.0L315.0 109.4L318.0 110.9L321.0 112.5L324.0 114.3L327.0 116.2L330.0 118.0M45.0 75.0L48.0 75.0L51.0 75.0L54.0 75.0L57.0 74.9L60.0 74.9L63.0 74.8L66.0 74.8L69.0 74.8L72.0 74.8L75.0 74.7L78.0 74.7L81.0 74.6L84.0 74.5L87.0 74.6L90.0 74.6L93.0 74.5L96.0 74.3L99.0 74.1L102.0 73.9L105.0 73.7L108.0 73.5L111.0 73.3L114.0 73.1L117.0 72.7L120.0 72.2L123.0 71.4L126.0 70.6L129.0 70.0L132.0 69.8L135.0 69.8L138.0 70.1L141.0 70.4L144.0 70.7L147.0 70.8L150.0 70.6L153.0 70.0L156.0 69.2L159.0 68.2L162.0 67.1L165.0 65.9L168.0 64.8L171.0 64.2L174.0 64.5L177.0 65.3L180.0 65.9L183.0 65.8L186.0 64.9L189.0 64.1L192.0 63.9L195.0 64.4L198.0 64.9L201.0 64.9L204.0 64.7L207.0 64.9L210.0 66.0L213.0 67.5L216.0 68.6L219.0 69.1L222.0 69.2L225.0 69.4L228.0 69.9L231.0 70.6L234.0 71.4L237.0 72.3L240.0 73.2L243.0 74.0L246.0 74.9L249.0 76.0L252.0 77.1L255.0 78.4L258.0 79.7L261.0 81.2L264.0 82.9L267.0 84.8L270.0 86.9L273.0 89.2L276.0 91.4L279.0 93.3L282.0 94.8L285.0 96.1L288.0 97.4L291.0 99.0L294.0 100.7L297.0 102.2L300.0 103.7L303.0 105.1L306.0 106.6L309.0 108.2L312.0 109.9L315.0 111.8L318.0 113.6L321.0 115.3L324.0 116.9L327.0 118.1L330.0 118.9M45.0 73.3L48.0 73.3L51.0 73.2L54.0 73.2L57.0 73.1L60.0 73.0L63.0 73.0L66.0 72.9L69.0 72.8L72.0 72.8L75.0 72.7L78.0 72.6L81.0 72.5L84.0 72.4L87.0 72.2L90.0 72.1L93.0 72.0L96.0 71.9L99.0 71.6L102.0 71.2L105.0 70.6L108.0 70.3L111.0 70.0L114.0 69.8L117.0 69.6L120.0 69.4L123.0 68.8L126.0 67.6L129.0 65.8L132.0 64.2L135.0 63.7L138.0 64.2L141.0 64.7L144.0 64.3L147.0 62.9L150.0 61.3L153.0 60.2L156.0 60.2L159.0 61.2L162.0 62.5L165.0 63.3L168.0 63.0L171.0 61.6L174.0 60.1L177.0 59.2L180.0 58.8L183.0 58.6L186.0 58.3L189.0 58.2L192.0 58.4L195.0 59.3L198.0 60.7L201.0 62.3L204.0 63.6L207.0 64.7L210.0 65.8L213.0 66.7L216.0 67.4L219.0 67.7L222.0 68.0L225.0 67.9L228.0 67.7L231.0 67.6L234.0 68.2L237.0 69.2L240.0 70.2L243.0 71.1L246.0 72.0L249.0 73.0L252.0 74.4L255.0 76.0L258.0 77.8L261.0 79.6L264.0 81.5L267.0 83.5L270.0 85.4L273.0 87.3L276.0 88.8L279.0 90.1L282.0 91.3L285.0 92.4L288.0 93.5L291.0 94.8L294.0 96.1L297.0 97.5L300.0 98.9L303.0 100.1L306.0 101.3L309.0 102.7L312.0 104.2L315.0 105.8L318.0 107.7L321.0 109.6L324.0 111.5L327.0 113.3L330.0 114.8M45.0 66.8L48.0 66.7L51.0 66.7L54.0 66.6L57.0 66.5L60.0 66.5L63.0 66.4L66.0 66.4L69.0 66.3L72.0 66.3L75.0 66.2L78.0 66.1L81.0 66.0L84.0 65.8L87.0 65.7L90.0 65.6L93.0 65.5L96.0 65.2L99.0 65.0L102.0 64.8L105.0 64.9L108.0 64.9L111.0 64.6L114.0 63.8L117.0 62.9L120.0 62.4L123.0 62.5L126.0 62.8L129.0 62.4L132.0 61.4L135.0 60.3L138.0 59.5L141.0 58.7L144.0 57.9L147.0 56.9L150.0 55.7L153.0 54.7L156.0 54.3L159.0 54.4L162.0 54.2L165.0 53.5L168.0 52.7L171.0 52.5L174.0 52.8L177.0 53.4L180.0 54.2L183.0 54.8L186.0 54.8L189.0 54.0L192.0 52.7L195.0 52.1L198.0 52.7L201.0 54.1L204.0 55.3L207.0 55.9L210.0 55.7L213.0 55.4L216.0 55.5L219.0 56.0L222.0 56.9L225.0 57.8L228.0 58.7L231.0 59.6L234.0 60.4L237.0 61.2L240.0 62.2L243.0 63.2L246.0 64.5L249.0 65.8L252.0 67.1L255.0 68.5L258.0 69.8L261.0 71.2L264.0 72.7L267.0 74.1L270.0 75.6L273.0 76.9L276.0 78.1L279.0 79.2L282.0 80.3L285.0 81.5L288.0 82.7L291.0 83.9L294.0 85.2L297.0 86.5L300.0 88.0L303.0 89.3L306.0 90.7L309.0 92.0L312.0 93.4L315.0 94.8L318.0 96.2L321.0 97.6L324.0 99.0L327.0 100.3L330.0 101.3M45.0 86.5L48.0 86.5L51.0 86.5L54.0 86.5L57.0 86.5L60.0 86.5L63.0 86.5L66.0 86.5L69.0 86.5L72.0 86.5L75.0 86.5L78.0 86.5L81.0 86.5L84.0 86.5L87.0 86.5L90.0 86.5L93.0 86.3L96.0 86.1L99.0 86.0L102.0 86.0L105.0 85.9L108.0 85.6L111.0 85.2L114.0 85.1L117.0 85.0L120.0 84.6L123.0 83.9L126.0 83.0L129.0 82.5L132.0 82.5L135.0 82.7L138.0 82.5L141.0 81.9L144.0 80.9L147.0 79.9L150.0 79.1L153.0 78.9L156.0 79.4L159.0 80.5L162.0 81.9L165.0 83.3L168.0 84.0L171.0 83.6L174.0 82.9L177.0 82.8L180.0 83.4L183.0 84.0L186.0 84.1L189.0 83.7L192.0 83.0L195.0 82.4L198.0 82.7L201.0 84.0L204.0 86.1L207.0 88.1L210.0 89.4L213.0 89.7L216.0 89.6L219.0 89.5L222.0 89.6L225.0 89.9L228.0 90.4L231.0 91.1L234.0 91.9L237.0 92.6L240.0 93.2L243.0 94.0L246.0 95.0L249.0 96.1L252.0 97.4L255.0 98.6L258.0 99.7L261.0 100.9L264.0 102.2L267.0 103.8L270.0 105.6L273.0 107.6L276.0 109.7L279.0 111.6L282.0 113.3L285.0 114.7L288.0 116.1L291.0 117.8L294.0 119.6L297.0 121.5L300.0 123.3L303.0 125.0L306.0 126.6L309.0 128.2L312.0 129.8L315.0 131.4L318.0 132.7L321.0 133.8L324.0 134.8L327.0 135.5L330.0 135.8M45.0 65.4L48.0 65.4L51.0 65.3L54.0 65.3L57.0 65.2L60.0 65.1L63.0 65.0L66.0 65.0L69.0 64.9L72.0 64.9L75.0 64.8L78.0 64.7L81.0 64.6L84.0 64.5L87.0 64.4L90.0 64.3L93.0 64.3L96.0 64.1L99.0 63.9L102.0 63.5L105.0 63.0L108.0 62.4L111.0 62.0L114.0 61.6L117.0 61.1L120.0 60.5L123.0 59.7L126.0 58.5L129.0 57.0L132.0 55.5L135.0 54.5L138.0 53.7L141.0 52.8L144.0 52.0L147.0 51.7L150.0 52.1L153.0 52.8L156.0 52.9L159.0 52.4L162.0 51.8L165.0 51.6L168.0 51.3L171.0 50.5L174.0 49.5L177.0 49.0L180.0 49.3L183.0 49.7L186.0 50.0L189.0 50.2L192.0 50.5L195.0 51.1L198.0 52.2L201.0 53.5L204.0 54.9L207.0 56.0L210.0 56.8L213.0 57.1L216.0 57.1L219.0 56.9L222.0 56.7L225.0 56.9L228.0 57.4L231.0 58.5L234.0 59.7L237.0 61.0L240.0 62.3L243.0 63.5L246.0 64.5L249.0 65.3L252.0 66.2L255.0 67.3L258.0 68.8L261.0 70.7L264.0 72.6L267.0 74.4L270.0 76.0L273.0 77.5L276.0 78.9L279.0 80.2L282.0 81.4L285.0 82.5L288.0 83.6L291.0 84.8L294.0 86.1L297.0 87.4L300.0 88.7L303.0 90.0L306.0 91.1L309.0 92.2L312.0 93.2L315.0 94.2L318.0 95.1L321.0 96.0L324.0 96.9L327.0 97.6L330.0 98.0M45.0 79.3L48.0 79.2L51.0 79.2L54.0 79.2L57.0 79.2L60.0 79.2L63.0 79.2L66.0 79.1L69.0 79.1L72.0 79.0L75.0 79.0L78.0 78.9L81.0 78.9L84.0 78.8L87.0 78.7L90.0 78.6L93.0 78.3L96.0 78.1L99.0 77.8L102.0 77.5L105.0 77.1L108.0 76.4L111.0 75.8L114.0 75.6L117.0 76.0L120.0 76.7L123.0 76.9L126.0 76.4L129.0 75.4L132.0 74.3L135.0 73.3L138.0 72.4L141.0 71.7L144.0 71.1L147.0 70.7L150.0 70.5L153.0 69.9L156.0 69.0L159.0 68.2L162.0 68.0L165.0 68.1L168.0 68.5L171.0 69.1L174.0 69.9L177.0 70.1L180.0 69.9L183.0 69.6L186.0 69.8L189.0 70.2L192.0 70.7L195.0 71.2L198.0 71.5L201.0 71.5L204.0 71.2L207.0 71.1L210.0 71.5L213.0 72.2L216.0 73.1L219.0 74.5L222.0 76.0L225.0 77.7L228.0 79.5L231.0 81.0L234.0 82.1L237.0 82.8L240.0 83.5L243.0 84.2L246.0 84.8L249.0 85.4L252.0 86.0L255.0 86.6L258.0 87.5L261.0 88.6L264.0 89.9L267.0 91.3L270.0 92.9L273.0 94.6L276.0 96.2L279.0 97.7L282.0 99.0L285.0 100.2L288.0 101.7L291.0 103.7L294.0 105.9L297.0 108.2L300.0 110.7L303.0 113.2L306.0 115.6L309.0 117.9L312.0 120.0L315.0 121.8L318.0 123.3L321.0 124.6L324.0 125.5L327.0 126.3L330.0 126.5M45.0 69.0L48.0 69.0L51.0 68.9L54.0 68.9L57.0 68.8L60.0 68.8L63.0 68.7L66.0 68.7L69.0 68.6L72.0 68.6L75.0 68.5L78.0 68.5L81.0 68.4L84.0 68.2L87.0 68.1L90.0 67.9L93.0 67.7L96.0 67.5L99.0 67.3L102.0 67.1L105.0 66.9L108.0 66.7L111.0 66.4L114.0 66.0L117.0 65.4L120.0 64.6L123.0 63.6L126.0 62.5L129.0 61.5L132.0 60.8L135.0 60.3L138.0 59.9L141.0 59.5L144.0 59.4L147.0 59.7L150.0 60.2L153.0 60.7L156.0 61.3L159.0 61.8L162.0 62.6L165.0 63.5L168.0 64.3L171.0 64.7L174.0 64.7L177.0 64.7L180.0 64.8L183.0 64.9L186.0 65.0L189.0 65.1L192.0 65.4L195.0 66.1L198.0 66.9L201.0 67.6L204.0 67.9L207.0 67.8L210.0 67.7L213.0 68.1L216.0 69.2L219.0 70.4L222.0 71.4L225.0 72.3L228.0 73.4L231.0 74.7L234.0 76.1L237.0 77.4L240.0 78.5L243.0 79.6L246.0 80.7L249.0 81.8L252.0 83.0L255.0 84.4L258.0 85.9L261.0 87.7L264.0 89.5L267.0 91.4L270.0 93.3L273.0 95.2L276.0 97.0L279.0 98.6L282.0 99.9L285.0 101.0L288.0 102.0L291.0 103.4L294.0 105.0L297.0 106.8L300.0 108.5L303.0 110.2L306.0 111.9L309.0 113.5L312.0 115.1L315.0 116.7L318.0 118.4L321.0 120.2L324.0 121.9L327.0 123.4L330.0 124.5M45.0 64.3L48.0 64.3L51.0 64.3L54.0 64.3L57.0 64.2L60.0 64.2L63.0 64.1L66.0 64.0L69.0 64.0L72.0 63.9L75.0 63.9L78.0 63.8L81.0 63.7L84.0 63.5L87.0 63.3L90.0 62.9L93.0 62.4L96.0 62.1L99.0 62.0L102.0 62.1L105.0 62.1L108.0 62.1L111.0 61.8L114.0 61.1L117.0 60.2L120.0 59.3L123.0 58.9L126.0 59.0L129.0 59.1L132.0 58.5L135.0 57.0L138.0 55.0L141.0 53.6L144.0 53.0L147.0 52.7L150.0 52.2L153.0 51.4L156.0 50.7L159.0 51.0L162.0 52.4L165.0 54.3L168.0 55.6L171.0 55.6L174.0 54.8L177.0 53.9L180.0 53.5L183.0 53.9L186.0 54.8L189.0 55.8L192.0 56.2L195.0 56.0L198.0 55.4L201.0 54.4L204.0 53.5L207.0 53.0L210.0 53.4L213.0 54.4L216.0 55.5L219.0 56.3L222.0 56.6L225.0 57.1L228.0 57.9L231.0 59.1L234.0 60.2L237.0 61.2L240.0 62.1L243.0 63.0L246.0 64.0L249.0 65.1L252.0 66.6L255.0 68.1L258.0 69.7L261.0 71.3L264.0 73.0L267.0 74.9L270.0 76.9L273.0 78.9L276.0 80.7L279.0 82.2L282.0 83.4L285.0 84.6L288.0 85.7L291.0 87.1L294.0 88.5L297.0 89.8L300.0 91.0L303.0 92.0L306.0 92.9L309.0 93.8L312.0 94.9L315.0 96.0L318.0 97.2L321.0 98.5L324.0 99.9L327.0 101.4L330.0 102.7M45.0 66.0L48.0 66.0L51.0 65.9L54.0 65.9L57.0 65.8L60.0 65.8L63.0 65.7L66.0 65.7L69.0 65.6L72.0 65.6L75.0 65.5L78.0 65.5L81.0 65.4L84.0 65.4L87.0 65.4L90.0 65.2L93.0 64.9L96.0 64.5L99.0 63.9L102.0 63.3L105.0 62.6L108.0 61.8L111.0 61.0L114.0 60.2L117.0 59.7L120.0 59.7L123.0 60.0L126.0 60.0L129.0 59.6L132.0 58.9L135.0 58.3L138.0 57.9L141.0 57.5L144.0 56.9L147.0 56.1L150.0 55.5L153.0 55.2L156.0 55.3L159.0 55.6L162.0 56.2L165.0 57.2L168.0 58.0L171.0 57.7L174.0 56.4L177.0 55.1L180.0 54.1L183.0 53.5L186.0 53.4L189.0 53.7L192.0 54.2L195.0 54.6L198.0 55.2L201.0 56.2L204.0 57.4L207.0 58.7L210.0 60.0L213.0 61.2L216.0 62.1L219.0 62.7L222.0 63.2L225.0 63.7L228.0 64.4L231.0 65.4L234.0 66.5L237.0 67.6L240.0 68.5L243.0 69.4L246.0 70.4L249.0 71.3L252.0 72.2L255.0 73.2L258.0 74.2L261.0 75.4L264.0 76.7L267.0 78.1L270.0 79.6L273.0 81.3L276.0 83.0L279.0 84.7L282.0 86.3L285.0 87.8L288.0 89.4L291.0 91.1L294.0 92.9L297.0 94.7L300.0 96.4L303.0 98.1L306.0 99.7L309.0 101.2L312.0 102.6L315.0 104.1L318.0 105.5L321.0 107.0L324.0 108.6L327.0 110.2L330.0 111.5M45.0 72.1L48.0 72.1L51.0 72.0L54.0 71.9L57.0 71.9L60.0 71.8L63.0 71.8L66.0 71.7L69.0 71.7L72.0 71.7L75.0 71.6L78.0 71.5L81.0 71.4L84.0 71.2L87.0 70.9L90.0 70.5L93.0 70.1L96.0 69.6L99.0 69.4L102.0 69.3L105.0 69.2L108.0 68.9L111.0 68.4L114.0 67.9L117.0 67.7L120.0 67.7L123.0 67.5L126.0 67.1L129.0 66.8L132.0 66.4L135.0 65.5L138.0 63.9L141.0 62.1L144.0 60.7L147.0 60.1L150.0 60.1L153.0 60.5L156.0 60.9L159.0 61.3L162.0 61.8L165.0 62.1L168.0 61.9L171.0 61.5L174.0 61.5L177.0 61.7L180.0 61.8L183.0 61.4L186.0 60.3L189.0 59.3L192.0 58.9L195.0 58.9L198.0 59.3L201.0 60.1L204.0 61.1L207.0 61.7L210.0 61.8L213.0 61.6L216.0 61.6L219.0 62.3L222.0 63.7L225.0 65.7L228.0 67.5L231.0 69.1L234.0 70.4L237.0 71.4L240.0 72.2L243.0 73.2L246.0 74.4L249.0 75.8L252.0 77.3L255.0 78.6L258.0 79.8L261.0 80.9L264.0 82.2L267.0 83.5L270.0 85.0L273.0 86.5L276.0 88.0L279.0 89.4L282.0 90.7L285.0 92.0L288.0 93.6L291.0 95.4L294.0 97.3L297.0 99.2L300.0 100.9L303.0 102.6L306.0 104.2L309.0 105.8L312.0 107.3L315.0 108.7L318.0 110.1L321.0 111.5L324.0 112.9L327.0 114.2L330.0 115.2M45.0 80.8L48.0 80.8L51.0 80.8L54.0 80.8L57.0 80.8L60.0 80.8L63.0 80.8L66.0 80.9L69.0 80.9L72.0 80.9L75.0 80.9L78.0 80.9L81.0 80.9L84.0 81.0L87.0 81.1L90.0 81.1L93.0 81.1L96.0 80.9L99.0 80.7L102.0 80.6L105.0 80.4L108.0 80.1L111.0 79.8L114.0 79.3L117.0 78.8L120.0 78.7L123.0 79.2L126.0 80.2L129.0 81.3L132.0 81.9L135.0 81.9L138.0 81.6L141.0 81.1L144.0 80.4L147.0 79.9L150.0 80.0L153.0 80.1L156.0 79.7L159.0 78.5L162.0 76.8L165.0 75.3L168.0 74.7L171.0 75.4L174.0 76.9L177.0 78.6L180.0 80.2L183.0 81.9L186.0 83.4L189.0 84.5L192.0 84.9L195.0 84.3L198.0 83.1L201.0 82.2L204.0 82.2L207.0 83.1L210.0 85.0L213.0 87.2L216.0 89.1L219.0 90.4L222.0 91.3L225.0 92.2L228.0 93.2L231.0 94.2L234.0 95.6L237.0 97.4L240.0 99.3L243.0 101.0L246.0 102.3L249.0 103.5L252.0 104.6L255.0 105.7L258.0 107.0L261.0 108.2L264.0 109.6L267.0 111.0L270.0 112.5L273.0 114.2L276.0 116.1L279.0 117.9L282.0 119.5L285.0 121.1L288.0 122.7L291.0 124.3L294.0 126.0L297.0 127.7L300.0 129.5L303.0 131.3L306.0 133.2L309.0 135.0L312.0 136.8L315.0 138.6L318.0 140.3L321.0 142.0L324.0 143.7L327.0 145.2L330.0 146.3M45.0 68.9L48.0 68.8L51.0 68.8L54.0 68.7L57.0 68.7L60.0 68.6L63.0 68.5L66.0 68.5L69.0 68.4L72.0 68.3L75.0 68.2L78.0 68.1L81.0 68.0L84.0 67.8L87.0 67.6L90.0 67.4L93.0 67.0L96.0 66.6L99.0 66.2L102.0 65.7L105.0 65.5L108.0 65.4L111.0 65.7L114.0 66.1L117.0 66.2L120.0 65.8L123.0 65.1L126.0 64.3L129.0 63.4L132.0 62.4L135.0 61.6L138.0 61.0L141.0 61.0L144.0 61.1L147.0 60.7L150.0 59.8L153.0 58.9L156.0 58.3L159.0 57.3L162.0 55.9L165.0 55.1L168.0 55.3L171.0 56.3L174.0 57.4L177.0 57.8L180.0 57.8L183.0 57.9L186.0 58.4L189.0 58.6L192.0 58.5L195.0 58.3L198.0 58.1L201.0 57.8L204.0 57.4L207.0 57.2L210.0 57.3L213.0 57.9L216.0 58.8L219.0 59.3L222.0 59.4L225.0 59.6L228.0 60.3L231.0 61.7L234.0 63.1L237.0 64.3L240.0 65.4L243.0 66.4L246.0 67.4L249.0 68.2L252.0 69.1L255.0 70.1L258.0 71.5L261.0 73.0L264.0 74.5L267.0 75.9L270.0 77.4L273.0 78.8L276.0 80.3L279.0 81.6L282.0 82.8L285.0 84.0L288.0 85.3L291.0 86.7L294.0 88.2L297.0 89.7L300.0 91.1L303.0 92.5L306.0 93.9L309.0 95.2L312.0 96.4L315.0 97.5L318.0 98.7L321.0 100.0L324.0 101.3L327.0 102.6L330.0 103.6M45.0 69.9L48.0 69.9L51.0 69.9L54.0 69.8L57.0 69.8L60.0 69.7L63.0 69.7L66.0 69.6L69.0 69.6L72.0 69.5L75.0 69.5L78.0 69.4L81.0 69.3L84.0 69.3L87.0 69.3L90.0 69.1L93.0 68.8L96.0 68.4L99.0 67.8L102.0 67.3L105.0 66.6L108.0 65.9L111.0 65.1L114.0 64.4L117.0 64.0L120.0 63.7L123.0 63.4L126.0 62.9L129.0 62.3L132.0 61.8L135.0 61.1L138.0 60.0L141.0 58.5L144.0 57.2L147.0 56.7L150.0 56.4L153.0 56.0L156.0 55.6L159.0 55.7L162.0 56.2L165.0 57.0L168.0 57.9L171.0 59.0L174.0 60.0L177.0 60.4L180.0 59.8L183.0 58.8L186.0 58.4L189.0 59.0L192.0 60.0L195.0 60.4L198.0 60.4L201.0 60.4L204.0 60.8L207.0 61.5L210.0 62.2L213.0 62.4L216.0 62.3L219.0 61.9L222.0 61.3L225.0 60.7L228.0 60.6L231.0 61.3L234.0 62.7L237.0 64.3L240.0 65.6L243.0 66.4L246.0 67.0L249.0 67.5L252.0 68.1L255.0 68.9L258.0 70.0L261.0 71.4L264.0 73.1L267.0 74.7L270.0 76.4L273.0 78.1L276.0 79.8L279.0 81.5L282.0 83.2L285.0 84.7L288.0 86.3L291.0 87.9L294.0 89.6L297.0 91.2L300.0 92.6L303.0 93.7L306.0 94.6L309.0 95.4L312.0 96.2L315.0 97.0L318.0 98.0L321.0 99.0L324.0 100.1L327.0 101.3L330.0 102.3M45.0 68.4L48.0 68.3L51.0 68.3L54.0 68.2L57.0 68.2L60.0 68.1L63.0 68.1L66.0 68.0L69.0 68.0L72.0 67.9L75.0 67.9L78.0 67.8L81.0 67.8L84.0 67.7L87.0 67.7L90.0 67.6L93.0 67.3L96.0 66.9L99.0 66.5L102.0 66.0L105.0 65.4L108.0 64.8L111.0 64.1L114.0 63.4L117.0 62.8L120.0 62.4L123.0 62.1L126.0 61.8L129.0 61.6L132.0 61.2L135.0 60.7L138.0 60.1L141.0 59.5L144.0 59.1L147.0 58.7L150.0 58.2L153.0 58.1L156.0 58.7L159.0 59.6L162.0 60.0L165.0 59.5L168.0 58.6L171.0 58.0L174.0 57.8L177.0 57.5L180.0 57.0L183.0 56.8L186.0 57.0L189.0 56.9L192.0 55.6L195.0 53.4L198.0 51.6L201.0 51.1L204.0 52.1L207.0 53.8L210.0 55.7L213.0 57.2L216.0 58.1L219.0 58.9L222.0 59.8L225.0 60.7L228.0 61.5L231.0 62.3L234.0 63.0L237.0 63.8L240.0 64.7L243.0 65.8L246.0 66.7L249.0 67.4L252.0 68.2L255.0 69.4L258.0 70.8L261.0 72.3L264.0 73.7L267.0 75.0L270.0 76.4L273.0 78.0L276.0 79.6L279.0 81.0L282.0 82.4L285.0 83.7L288.0 85.0L291.0 86.5L294.0 88.1L297.0 89.8L300.0 91.5L303.0 93.0L306.0 94.4L309.0 95.7L312.0 96.8L315.0 97.7L318.0 98.3L321.0 98.7L324.0 98.9L327.0 98.8L330.0 98.4M45.0 69.8L48.0 69.7L51.0 69.7L54.0 69.6L57.0 69.6L60.0 69.6L63.0 69.5L66.0 69.4L69.0 69.4L72.0 69.3L75.0 69.2L78.0 69.1L81.0 69.0L84.0 68.9L87.0 68.8L90.0 68.7L93.0 68.4L96.0 68.0L99.0 67.6L102.0 67.1L105.0 66.6L108.0 66.2L111.0 65.9L114.0 65.6L117.0 65.2L120.0 64.4L123.0 63.3L126.0 62.0L129.0 60.6L132.0 59.7L135.0 59.0L138.0 58.0L141.0 56.7L144.0 55.7L147.0 55.6L150.0 56.1L153.0 56.8L156.0 57.6L159.0 58.4L162.0 59.4L165.0 60.0L168.0 59.8L171.0 59.0L174.0 58.0L177.0 56.8L180.0 56.3L183.0 56.5L186.0 57.3L189.0 57.6L192.0 57.3L195.0 56.8L198.0 56.9L201.0 57.6L204.0 58.5L207.0 59.1L210.0 59.6L213.0 60.5L216.0 61.7L219.0 62.7L222.0 63.2L225.0 63.6L228.0 64.2L231.0 65.0L234.0 65.5L237.0 65.9L240.0 66.2L243.0 66.8L246.0 67.6L249.0 68.6L252.0 70.0L255.0 71.5L258.0 73.1L261.0 74.6L264.0 76.1L267.0 77.6L270.0 79.1L273.0 80.6L276.0 82.2L279.0 83.6L282.0 84.8L285.0 85.9L288.0 87.1L291.0 88.4L294.0 89.9L297.0 91.3L300.0 92.7L303.0 93.9L306.0 95.2L309.0 96.5L312.0 97.8L315.0 99.2L318.0 100.7L321.0 102.4L324.0 104.2L327.0 106.1L330.0 107.7M45.0 88.2L48.0 88.2L51.0 88.2L54.0 88.2L57.0 88.2L60.0 88.2L63.0 88.2L66.0 88.1L69.0 88.1L72.0 88.1L75.0 88.1L78.0 88.1L81.0 88.1L84.0 88.1L87.0 88.2L90.0 88.2L93.0 88.2L96.0 88.1L99.0 87.9L102.0 87.8L105.0 87.8L108.0 87.7L111.0 87.5L114.0 87.0L117.0 86.6L120.0 86.5L123.0 87.0L126.0 87.7L129.0 88.4L132.0 88.6L135.0 88.3L138.0 87.2L141.0 86.0L144.0 85.1L147.0 84.9L150.0 85.0L153.0 85.2L156.0 84.9L159.0 84.6L162.0 84.4L165.0 84.5L168.0 84.4L171.0 84.1L174.0 83.7L177.0 83.3L180.0 83.2L183.0 83.4L186.0 84.1L189.0 85.1L192.0 86.5L195.0 88.1L198.0 89.7L201.0 91.0L204.0 91.7L207.0 92.2L210.0 92.7L213.0 93.4L216.0 94.7L219.0 96.9L222.0 99.1L225.0 100.7L228.0 101.7L231.0 102.3L234.0 102.9L237.0 103.8L240.0 105.2L243.0 106.8L246.0 108.3L249.0 109.7L252.0 111.1L255.0 112.5L258.0 114.0L261.0 115.7L264.0 117.4L267.0 119.2L270.0 120.8L273.0 122.4L276.0 124.1L279.0 125.8L282.0 127.7L285.0 129.5L288.0 131.4L291.0 133.4L294.0 135.5L297.0 137.6L300.0 139.6L303.0 141.4L306.0 143.2L309.0 145.0L312.0 146.7L315.0 148.4L318.0 150.2L321.0 152.2L324.0 154.2L327.0 156.2L330.0 157.7M45.0 83.6L48.0 83.6L51.0 83.6L54.0 83.6L57.0 83.6L60.0 83.6L63.0 83.6L66.0 83.6L69.0 83.6L72.0 83.6L75.0 83.6L78.0 83.7L81.0 83.6L84.0 83.6L87.0 83.5L90.0 83.4L93.0 83.4L96.0 83.5L99.0 83.7L102.0 83.8L105.0 83.5L108.0 83.0L111.0 82.6L114.0 82.8L117.0 83.3L120.0 83.7L123.0 84.0L126.0 83.9L129.0 83.5L132.0 82.8L135.0 82.1L138.0 82.0L141.0 82.5L144.0 83.2L147.0 83.8L150.0 84.6L153.0 85.4L156.0 85.8L159.0 85.8L162.0 85.6L165.0 85.5L168.0 85.7L171.0 86.1L174.0 86.6L177.0 87.1L180.0 87.6L183.0 88.7L186.0 89.9L189.0 90.4L192.0 90.2L195.0 89.8L198.0 90.2L201.0 91.5L204.0 93.1L207.0 94.4L210.0 95.8L213.0 97.3L216.0 99.0L219.0 100.6L222.0 102.1L225.0 103.4L228.0 104.6L231.0 105.4L234.0 106.1L237.0 106.8L240.0 107.9L243.0 109.0L246.0 110.1L249.0 111.2L252.0 112.3L255.0 113.5L258.0 114.7L261.0 116.1L264.0 117.7L267.0 119.4L270.0 121.0L273.0 122.7L276.0 124.4L279.0 126.2L282.0 128.1L285.0 129.8L288.0 131.7L291.0 133.6L294.0 135.7L297.0 137.9L300.0 140.2L303.0 142.4L306.0 144.4L309.0 146.3L312.0 148.0L315.0 149.5L318.0 150.9L321.0 152.1L324.0 153.2L327.0 154.1L330.0 154.6M45.0 74.0L48.0 74.0L51.0 74.0L54.0 73.9L57.0 73.9L60.0 73.8L63.0 73.8L66.0 73.8L69.0 73.7L72.0 73.7L75.0 73.7L78.0 73.6L81.0 73.5L84.0 73.4L87.0 73.3L90.0 73.1L93.0 72.8L96.0 72.7L99.0 72.6L102.0 72.4L105.0 72.1L108.0 71.5L111.0 70.9L114.0 70.8L117.0 71.2L120.0 71.8L123.0 71.8L126.0 71.1L129.0 70.0L132.0 69.0L135.0 68.4L138.0 68.7L141.0 69.7L144.0 71.0L147.0 71.8L150.0 71.9L153.0 71.0L156.0 69.8L159.0 68.7L162.0 68.0L165.0 67.7L168.0 67.4L171.0 67.2L174.0 67.5L177.0 68.0L180.0 68.4L183.0 68.8L186.0 69.2L189.0 69.6L192.0 69.6L195.0 69.2L198.0 68.7L201.0 68.7L204.0 69.2L207.0 70.2L210.0 71.5L213.0 72.8L216.0 73.7L219.0 74.3L222.0 74.6L225.0 74.8L228.0 75.1L231.0 75.6L234.0 76.3L237.0 77.1L240.0 78.0L243.0 79.0L246.0 80.1L249.0 81.3L252.0 82.6L255.0 83.8L258.0 84.9L261.0 86.0L264.0 87.2L267.0 88.7L270.0 90.4L273.0 92.5L276.0 94.7L279.0 96.5L282.0 98.0L285.0 99.1L288.0 100.2L291.0 101.5L294.0 103.1L297.0 104.8L300.0 106.6L303.0 108.5L306.0 110.4L309.0 112.5L312.0 114.8L315.0 117.0L318.0 119.3L321.0 121.6L324.0 123.8L327.0 125.8L330.0 127.3M45.0 82.9L48.0 83.0L51.0 83.0L54.0 83.0L57.0 83.0L60.0 83.0L63.0 83.0L66.0 83.0L69.0 83.0L72.0 83.0L75.0 83.0L78.0 83.0L81.0 83.0L84.0 83.0L87.0 83.2L90.0 83.3L93.0 83.4L96.0 83.3L99.0 83.1L102.0 83.1L105.0 83.4L108.0 83.6L111.0 83.4L114.0 82.8L117.0 82.2L120.0 81.9L123.0 81.7L126.0 81.5L129.0 81.4L132.0 81.4L135.0 81.3L138.0 81.1L141.0 80.8L144.0 81.1L147.0 81.9L150.0 82.6L153.0 82.7L156.0 82.6L159.0 82.8L162.0 83.3L165.0 83.7L168.0 84.2L171.0 85.3L174.0 86.5L177.0 87.1L180.0 86.8L183.0 86.3L186.0 86.5L189.0 87.5L192.0 88.6L195.0 89.1L198.0 89.2L201.0 89.5L204.0 90.4L207.0 91.8L210.0 93.4L213.0 95.0L216.0 96.7L219.0 98.4L222.0 100.0L225.0 101.2L228.0 102.3L231.0 103.4L234.0 104.2L237.0 104.9L240.0 105.5L243.0 106.4L246.0 107.5L249.0 108.6L252.0 109.9L255.0 111.2L258.0 112.5L261.0 113.8L264.0 115.2L267.0 117.0L270.0 119.0L273.0 121.2L276.0 123.4L279.0 125.4L282.0 127.3L285.0 129.0L288.0 130.7L291.0 132.4L294.0 134.1L297.0 135.8L300.0 137.4L303.0 139.0L306.0 140.6L309.0 142.3L312.0 144.2L315.0 146.2L318.0 148.4L321.0 150.8L324.0 153.3L327.0 155.8L330.0 158.0M45.0 92.7L48.0 92.6L51.0 92.6L54.0 92.6L57.0 92.5L60.0 92.5L63.0 92.5L66.0 92.5L69.0 92.4L72.0 92.4L75.0 92.3L78.0 92.2L81.0 92.1L84.0 92.0L87.0 92.0L90.0 91.9L93.0 91.8L96.0 91.7L99.0 91.6L102.0 91.5L105.0 91.4L108.0 91.2L111.0 91.1L114.0 91.2L117.0 91.4L120.0 91.2L123.0 90.7L126.0 90.1L129.0 89.9L132.0 90.2L135.0 90.6L138.0 91.0L141.0 91.2L144.0 91.0L147.0 90.5L150.0 89.9L153.0 89.3L156.0 89.0L159.0 88.9L162.0 89.0L165.0 89.3L168.0 89.5L171.0 89.1L174.0 88.3L177.0 87.8L180.0 87.9L183.0 88.4L186.0 89.2L189.0 90.2L192.0 91.5L195.0 92.9L198.0 94.5L201.0 96.4L204.0 98.2L207.0 99.6L210.0 100.2L213.0 100.1L216.0 99.7L219.0 99.5L222.0 99.7L225.0 100.1L228.0 100.8L231.0 102.0L234.0 103.7L237.0 105.7L240.0 107.6L243.0 109.4L246.0 111.0L249.0 112.4L252.0 113.8L255.0 115.2L258.0 116.6L261.0 118.1L264.0 119.8L267.0 121.7L270.0 123.6L273.0 125.4L276.0 127.2L279.0 128.8L282.0 130.3L285.0 131.8L288.0 133.4L291.0 135.1L294.0 137.0L297.0 138.8L300.0 140.6L303.0 142.2L306.0 143.9L309.0 145.5L312.0 147.2L315.0 148.9L318.0 150.5L321.0 152.0L324.0 153.5L327.0 154.7L330.0 155.5M45.0 64.9L48.0 64.9L51.0 64.8L54.0 64.8L57.0 64.7L60.0 64.6L63.0 64.6L66.0 64.5L69.0 64.5L72.0 64.5L75.0 64.4L78.0 64.3L81.0 64.3L84.0 64.2L87.0 64.2L90.0 64.2L93.0 64.1L96.0 64.0L99.0 63.6L102.0 63.1L105.0 62.4L108.0 61.6L111.0 60.6L114.0 59.7L117.0 59.0L120.0 58.5L123.0 58.5L126.0 59.2L129.0 60.1L132.0 60.3L135.0 59.1L138.0 56.8L141.0 54.3L144.0 52.4L147.0 51.3L150.0 50.8L153.0 50.7L156.0 50.8L159.0 50.7L162.0 50.4L165.0 50.2L168.0 50.0L171.0 49.7L174.0 49.5L177.0 49.9L180.0 50.6L183.0 51.5L186.0 52.2L189.0 52.8L192.0 53.7L195.0 54.5L198.0 54.9L201.0 54.8L204.0 54.9L207.0 55.5L210.0 56.2L213.0 56.6L216.0 57.0L219.0 57.6L222.0 58.1L225.0 58.2L228.0 58.1L231.0 58.3L234.0 59.0L237.0 60.1L240.0 61.4L243.0 62.8L246.0 64.1L249.0 65.4L252.0 66.5L255.0 67.6L258.0 68.9L261.0 70.4L264.0 71.9L267.0 73.5L270.0 75.0L273.0 76.5L276.0 78.2L279.0 79.9L282.0 81.8L285.0 83.5L288.0 85.1L291.0 86.6L294.0 88.0L297.0 89.2L300.0 90.4L303.0 91.4L306.0 92.4L309.0 93.5L312.0 94.6L315.0 95.6L318.0 96.6L321.0 97.6L324.0 98.7L327.0 99.8L330.0 100.7M45.0 61.3L48.0 61.3L51.0 61.3L54.0 61.3L57.0 61.3L60.0 61.3L63.0 61.3L66.0 61.3L69.0 61.4L72.0 61.4L75.0 61.4L78.0 61.3L81.0 61.3L84.0 61.2L87.0 61.0L90.0 60.9L93.0 60.7L96.0 60.5L99.0 60.4L102.0 60.3L105.0 60.2L108.0 59.9L111.0 59.3L114.0 58.4L117.0 57.5L120.0 56.9L123.0 56.6L126.0 56.9L129.0 57.4L132.0 57.4L135.0 56.5L138.0 55.3L141.0 54.7L144.0 54.4L147.0 53.8L150.0 52.7L153.0 51.8L156.0 51.3L159.0 51.2L162.0 51.0L165.0 50.6L168.0 50.2L171.0 50.2L174.0 50.4L177.0 50.6L180.0 50.7L183.0 51.1L186.0 52.1L189.0 53.2L192.0 54.1L195.0 54.0L198.0 53.0L201.0 51.5L204.0 50.4L207.0 50.1L210.0 50.5L213.0 51.1L216.0 51.8L219.0 52.4L222.0 53.1L225.0 54.0L228.0 55.0L231.0 56.1L234.0 57.2L237.0 58.3L240.0 59.5L243.0 60.7L246.0 62.1L249.0 63.5L252.0 64.8L255.0 65.9L258.0 66.9L261.0 68.0L264.0 69.2L267.0 70.6L270.0 72.1L273.0 73.6L276.0 75.0L279.0 76.3L282.0 77.4L285.0 78.4L288.0 79.5L291.0 80.6L294.0 81.8L297.0 83.1L300.0 84.4L303.0 85.7L306.0 86.9L309.0 88.2L312.0 89.5L315.0 90.9L318.0 92.3L321.0 93.7L324.0 95.2L327.0 96.7L330.0 98.1M45.0 89.6L48.0 89.6L51.0 89.6L54.0 89.6L57.0 89.6L60.0 89.6L63.0 89.7L66.0 89.7L69.0 89.7L72.0 89.7L75.0 89.7L78.0 89.7L81.0 89.7L84.0 89.6L87.0 89.6L90.0 89.6L93.0 89.7L96.0 89.9L99.0 89.8L102.0 89.5L105.0 88.7L108.0 88.0L111.0 87.9L114.0 88.5L117.0 89.3L120.0 90.0L123.0 90.4L126.0 90.6L129.0 91.0L132.0 91.0L135.0 90.2L138.0 88.8L141.0 87.5L144.0 86.7L147.0 86.4L150.0 86.6L153.0 86.7L156.0 85.9L159.0 84.6L162.0 83.6L165.0 83.3L168.0 83.6L171.0 83.6L174.0 83.0L177.0 82.4L180.0 83.0L183.0 85.2L186.0 88.3L189.0 91.2L192.0 93.3L195.0 94.4L198.0 95.2L201.0 96.1L204.0 97.4L207.0 98.9L210.0 100.2L213.0 100.9L216.0 101.2L219.0 101.5L222.0 102.2L225.0 103.5L228.0 105.4L231.0 107.5L234.0 109.4L237.0 110.8L240.0 111.9L243.0 112.7L246.0 113.8L249.0 115.1L252.0 116.6L255.0 118.5L258.0 120.4L261.0 122.4L264.0 124.3L267.0 126.2L270.0 128.0L273.0 129.9L276.0 131.8L279.0 134.0L282.0 136.2L285.0 138.5L288.0 140.7L291.0 142.9L294.0 144.9L297.0 146.8L300.0 148.6L303.0 150.2L306.0 151.7L309.0 153.1L312.0 154.4L315.0 155.8L318.0 157.4L321.0 159.0L324.0 160.8L327.0 162.4L330.0 163.7M45.0 73.3L48.0 73.2L51.0 73.2L54.0 73.2L57.0 73.1L60.0 73.1L63.0 73.1L66.0 73.0L69.0 73.0L72.0 72.9L75.0 72.8L78.0 72.7L81.0 72.7L84.0 72.6L87.0 72.5L90.0 72.3L93.0 71.9L96.0 71.4L99.0 71.0L102.0 70.4L105.0 70.0L108.0 69.9L111.0 70.0L114.0 70.2L117.0 70.0L120.0 69.3L123.0 68.3L126.0 67.6L129.0 67.3L132.0 67.3L135.0 67.6L138.0 68.3L141.0 68.6L144.0 68.1L147.0 66.8L150.0 65.3L153.0 63.7L156.0 62.1L159.0 60.4L162.0 59.3L165.0 59.5L168.0 60.9L171.0 62.9L174.0 64.4L177.0 65.0L180.0 64.9L183.0 64.6L186.0 64.3L189.0 63.7L192.0 62.9L195.0 62.6L198.0 63.6L201.0 65.0L204.0 66.0L207.0 66.1L210.0 65.8L213.0 65.8L216.0 66.3L219.0 67.3L222.0 68.3L225.0 69.0L228.0 69.2L231.0 68.8L234.0 68.5L237.0 68.6L240.0 69.4L243.0 70.5L246.0 71.6L249.0 72.6L252.0 73.9L255.0 75.4L258.0 77.2L261.0 79.1L264.0 81.0L267.0 82.7L270.0 84.2L273.0 85.7L276.0 87.0L279.0 88.0L282.0 88.8L285.0 89.5L288.0 90.3L291.0 91.4L294.0 92.8L297.0 94.4L300.0 96.1L303.0 97.7L306.0 99.2L309.0 100.8L312.0 102.3L315.0 104.0L318.0 105.7L321.0 107.3L324.0 109.0L327.0 110.5L330.0 111.7M45.0 65.3L48.0 65.3L51.0 65.2L54.0 65.1L57.0 65.1L60.0 65.0L63.0 64.9L66.0 64.9L69.0 64.8L72.0 64.7L75.0 64.7L78.0 64.7L81.0 64.6L84.0 64.7L87.0 64.7L90.0 64.7L93.0 64.7L96.0 64.5L99.0 64.2L102.0 63.8L105.0 63.4L108.0 62.7L111.0 61.9L114.0 61.3L117.0 60.9L120.0 60.7L123.0 60.7L126.0 60.6L129.0 60.3L132.0 59.5L135.0 58.2L138.0 56.7L141.0 55.5L144.0 54.7L147.0 54.4L150.0 54.5L153.0 54.9L156.0 54.6L159.0 53.3L162.0 51.5L165.0 50.2L168.0 50.0L171.0 50.9L174.0 52.3L177.0 53.6L180.0 54.4L183.0 54.9L186.0 55.6L189.0 56.6L192.0 57.6L195.0 58.5L198.0 58.8L201.0 58.4L204.0 57.6L207.0 57.0L210.0 57.0L213.0 57.6L216.0 58.4L219.0 59.2L222.0 59.9L225.0 60.5L228.0 61.2L231.0 62.2L234.0 63.5L237.0 64.8L240.0 66.1L243.0 67.2L246.0 68.0L249.0 68.7L252.0 69.6L255.0 70.7L258.0 72.0L261.0 73.5L264.0 75.1L267.0 76.8L270.0 78.7L273.0 80.7L276.0 82.7L279.0 84.6L282.0 86.3L285.0 87.9L288.0 89.3L291.0 90.8L294.0 92.4L297.0 93.9L300.0 95.4L303.0 96.7L306.0 98.1L309.0 99.6L312.0 101.0L315.0 102.2L318.0 103.0L321.0 103.4L324.0 103.5L327.0 103.2L330.0 102.5M45.0 91.4L48.0 91.4L51.0 91.4L54.0 91.4L57.0 91.4L60.0 91.4L63.0 91.4L66.0 91.4L69.0 91.4L72.0 91.3L75.0 91.3L78.0 91.3L81.0 91.3L84.0 91.4L87.0 91.5L90.0 91.6L93.0 91.6L96.0 91.6L99.0 91.4L102.0 91.1L105.0 90.7L108.0 90.5L111.0 90.3L114.0 90.0L117.0 89.7L120.0 89.6L123.0 89.6L126.0 89.3L129.0 88.9L132.0 88.9L135.0 89.4L138.0 90.1L141.0 90.5L144.0 90.1L147.0 89.2L150.0 87.9L153.0 86.9L156.0 86.4L159.0 86.4L162.0 86.4L165.0 86.4L168.0 86.6L171.0 87.5L174.0 89.2L177.0 91.3L180.0 93.0L183.0 93.8L186.0 93.7L189.0 93.5L192.0 93.6L195.0 94.1L198.0 95.0L201.0 96.6L204.0 98.4L207.0 99.5L210.0 99.5L213.0 99.0L216.0 98.9L219.0 99.6L222.0 101.0L225.0 102.6L228.0 104.3L231.0 105.6L234.0 106.6L237.0 107.4L240.0 108.4L243.0 109.6L246.0 110.9L249.0 112.3L252.0 113.9L255.0 115.9L258.0 118.0L261.0 120.2L264.0 122.5L267.0 124.7L270.0 126.7L273.0 128.6L276.0 130.4L279.0 132.2L282.0 134.1L285.0 136.1L288.0 138.0L291.0 140.1L294.0 142.2L297.0 144.4L300.0 146.5L303.0 148.4L306.0 150.1L309.0 151.9L312.0 153.6L315.0 155.3L318.0 157.1L321.0 158.7L324.0 160.2L327.0 161.5L330.0 162.4M45.0 71.6L48.0 71.6L51.0 71.5L54.0 71.5L57.0 71.5L60.0 71.4L63.0 71.4L66.0 71.4L69.0 71.3L72.0 71.3L75.0 71.2L78.0 71.1L81.0 71.1L84.0 71.1L87.0 71.2L90.0 71.2L93.0 70.8L96.0 70.4L99.0 69.9L102.0 69.5L105.0 69.0L108.0 68.6L111.0 68.4L114.0 68.4L117.0 68.6L120.0 68.6L123.0 68.4L126.0 68.3L129.0 68.1L132.0 67.6L135.0 66.6L138.0 65.1L141.0 63.7L144.0 62.7L147.0 62.2L150.0 62.1L153.0 62.4L156.0 62.9L159.0 63.3L162.0 63.0L165.0 62.3L168.0 61.7L171.0 61.5L174.0 61.4L177.0 61.1L180.0 60.9L183.0 60.8L186.0 61.0L189.0 61.3L192.0 62.1L195.0 63.3L198.0 64.7L201.0 65.4L204.0 65.3L207.0 64.7L210.0 64.3L213.0 64.4L216.0 65.0L219.0 65.6L222.0 66.2L225.0 66.9L228.0 67.6L231.0 68.5L234.0 69.8L237.0 71.1L240.0 72.2L243.0 73.0L246.0 73.6L249.0 74.1L252.0 74.8L255.0 75.8L258.0 77.1L261.0 78.8L264.0 80.6L267.0 82.4L270.0 84.2L273.0 85.9L276.0 87.6L279.0 89.2L282.0 90.7L285.0 92.1L288.0 93.6L291.0 95.4L294.0 97.2L297.0 99.1L300.0 100.9L303.0 102.7L306.0 104.4L309.0 106.2L312.0 107.8L315.0 109.5L318.0 111.0L321.0 112.5L324.0 114.0L327.0 115.4L330.0 116.5M45.0 83.4L48.0 83.4L51.0 83.4L54.0 83.4L57.0 83.4L60.0 83.4L63.0 83.4L66.0 83.4L69.0 83.4L72.0 83.4L75.0 83.4L78.0 83.4L81.0 83.3L84.0 83.3L87.0 83.3L90.0 83.2L93.0 83.2L96.0 83.0L99.0 82.9L102.0 82.8L105.0 82.6L108.0 82.3L111.0 82.1L114.0 82.0L117.0 81.8L120.0 81.6L123.0 81.5L126.0 81.8L129.0 82.1L132.0 81.9L135.0 80.9L138.0 79.2L141.0 77.3L144.0 75.8L147.0 75.2L150.0 75.6L153.0 76.7L156.0 77.7L159.0 78.1L162.0 78.0L165.0 77.9L168.0 78.1L171.0 78.7L174.0 79.1L177.0 78.9L180.0 78.1L183.0 77.8L186.0 78.1L189.0 78.7L192.0 79.4L195.0 80.0L198.0 80.3L201.0 80.5L204.0 81.4L207.0 83.4L210.0 86.1L213.0 88.6L216.0 90.4L219.0 91.9L222.0 93.3L225.0 94.9L228.0 96.5L231.0 98.0L234.0 99.2L237.0 100.4L240.0 101.8L243.0 103.4L246.0 105.0L249.0 106.7L252.0 108.4L255.0 110.2L258.0 112.0L261.0 113.9L264.0 115.6L267.0 117.4L270.0 119.2L273.0 121.2L276.0 123.3L279.0 125.4L282.0 127.4L285.0 129.4L288.0 131.3L291.0 133.3L294.0 135.2L297.0 137.0L300.0 138.9L303.0 140.8L306.0 142.7L309.0 144.3L312.0 145.9L315.0 147.3L318.0 148.6L321.0 149.9L324.0 151.0L327.0 152.0L330.0 152.5M45.0 84.4L48.0 84.4L51.0 84.3L54.0 84.3L57.0 84.3L60.0 84.3L63.0 84.3L66.0 84.3L69.0 84.3L72.0 84.3L75.0 84.3L78.0 84.2L81.0 84.2L84.0 84.1L87.0 84.0L90.0 83.9L93.0 83.8L96.0 83.8L99.0 83.8L102.0 83.8L105.0 83.9L108.0 83.9L111.0 83.5L114.0 83.1L117.0 82.7L120.0 82.6L123.0 82.6L126.0 82.5L129.0 82.6L132.0 82.9L135.0 83.2L138.0 83.2L141.0 83.1L144.0 83.0L147.0 82.8L150.0 82.6L153.0 82.2L156.0 81.6L159.0 80.8L162.0 80.5L165.0 80.9L168.0 81.7L171.0 82.1L174.0 81.5L177.0 79.9L180.0 78.1L183.0 76.9L186.0 76.8L189.0 77.6L192.0 78.6L195.0 79.4L198.0 79.6L201.0 79.6L204.0 79.9L207.0 80.8L210.0 81.9L213.0 83.0L216.0 84.0L219.0 85.2L222.0 86.3L225.0 87.5L228.0 88.7L231.0 89.8L234.0 90.8L237.0 91.8L240.0 92.9L243.0 94.1L246.0 95.2L249.0 96.2L252.0 97.1L255.0 98.2L258.0 99.6L261.0 101.3L264.0 103.2L267.0 105.1L270.0 107.0L273.0 109.0L276.0 111.1L279.0 112.9L282.0 114.4L285.0 115.8L288.0 117.1L291.0 118.7L294.0 120.5L297.0 122.5L300.0 124.6L303.0 126.8L306.0 129.0L309.0 131.2L312.0 133.4L315.0 135.4L318.0 137.4L321.0 139.4L324.0 141.3L327.0 143.0L330.0 144.3M45.0 66.7L48.0 66.7L51.0 66.6L54.0 66.6L57.0 66.5L60.0 66.4L63.0 66.4L66.0 66.3L69.0 66.3L72.0 66.2L75.0 66.1L78.0 66.1L81.0 66.0L84.0 66.0L87.0 65.9L90.0 65.7L93.0 65.3L96.0 65.0L99.0 64.8L102.0 64.6L105.0 64.4L108.0 64.0L111.0 63.4L114.0 62.9L117.0 62.6L120.0 62.5L123.0 62.6L126.0 62.5L129.0 61.9L132.0 60.6L135.0 58.9L138.0 57.5L141.0 56.7L144.0 56.6L147.0 56.9L150.0 57.4L153.0 58.1L156.0 58.8L159.0 59.4L162.0 59.6L165.0 59.3L168.0 58.6L171.0 58.2L174.0 58.3L177.0 58.2L180.0 57.5L183.0 56.1L186.0 54.9L189.0 54.6L192.0 55.4L195.0 56.3L198.0 56.9L201.0 57.0L204.0 57.2L207.0 57.7L210.0 58.2L213.0 58.7L216.0 59.4L219.0 60.4L222.0 61.5L225.0 62.4L228.0 63.0L231.0 63.6L234.0 64.5L237.0 65.7L240.0 66.9L243.0 68.3L246.0 69.6L249.0 70.8L252.0 71.9L255.0 72.9L258.0 74.2L261.0 75.6L264.0 77.1L267.0 78.7L270.0 80.2L273.0 81.9L276.0 83.6L279.0 85.1L282.0 86.6L285.0 87.9L288.0 89.3L291.0 90.9L294.0 92.8L297.0 94.8L300.0 96.5L303.0 98.0L306.0 99.3L309.0 100.4L312.0 101.5L315.0 102.5L318.0 103.3L321.0 103.9L324.0 104.4L327.0 104.8L330.0 104.8M45.0 67.2L48.0 67.1L51.0 67.1L54.0 67.0L57.0 67.0L60.0 67.0L63.0 66.9L66.0 66.9L69.0 66.8L72.0 66.8L75.0 66.7L78.0 66.6L81.0 66.5L84.0 66.3L87.0 66.2L90.0 66.3L93.0 66.4L96.0 66.3L99.0 66.0L102.0 65.4L105.0 64.6L108.0 63.8L111.0 63.3L114.0 63.0L117.0 62.7L120.0 62.3L123.0 61.6L126.0 60.8L129.0 60.3L132.0 60.1L135.0 59.8L138.0 59.2L141.0 59.3L144.0 60.2L147.0 61.4L150.0 61.7L153.0 60.8L156.0 59.0L159.0 57.2L162.0 56.2L165.0 56.3L168.0 56.7L171.0 56.6L174.0 56.6L177.0 57.0L180.0 57.8L183.0 58.9L186.0 59.9L189.0 60.3L192.0 59.8L195.0 58.7L198.0 57.8L201.0 57.8L204.0 58.5L207.0 59.4L210.0 60.4L213.0 61.3L216.0 62.0L219.0 62.8L222.0 64.2L225.0 65.9L228.0 67.1L231.0 68.0L234.0 68.8L237.0 69.9L240.0 71.1L243.0 72.2L246.0 73.2L249.0 74.4L252.0 75.7L255.0 77.1L258.0 78.4L261.0 79.7L264.0 81.0L267.0 82.5L270.0 84.2L273.0 86.2L276.0 88.1L279.0 89.8L282.0 91.2L285.0 92.5L288.0 93.8L291.0 95.3L294.0 97.0L297.0 98.6L300.0 100.3L303.0 102.0L306.0 103.7L309.0 105.5L312.0 107.3L315.0 109.2L318.0 111.2L321.0 113.3L324.0 115.5L327.0 117.6L330.0 119.3M45.0 88.4L48.0 88.5L51.0 88.5L54.0 88.5L57.0 88.6L60.0 88.6L63.0 88.7L66.0 88.7L69.0 88.8L72.0 88.8L75.0 88.9L78.0 88.9L81.0 88.9L84.0 88.9L87.0 88.8L90.0 88.9L93.0 89.0L96.0 89.1L99.0 89.0L102.0 88.8L105.0 88.5L108.0 88.3L111.0 88.1L114.0 87.9L117.0 87.9L120.0 88.2L123.0 88.5L126.0 88.7L129.0 88.8L132.0 89.0L135.0 89.5L138.0 90.0L141.0 90.6L144.0 90.9L147.0 90.9L150.0 90.5L153.0 89.8L156.0 88.9L159.0 88.1L162.0 87.7L165.0 87.8L168.0 88.2L171.0 88.8L174.0 90.0L177.0 91.6L180.0 93.2L183.0 94.6L186.0 96.0L189.0 97.3L192.0 98.6L195.0 99.6L198.0 100.4L201.0 100.8L204.0 100.8L207.0 100.7L210.0 100.8L213.0 101.4L216.0 102.7L219.0 104.7L222.0 107.0L225.0 109.5L228.0 112.0L231.0 114.6L234.0 117.0L237.0 119.3L240.0 121.3L243.0 123.2L246.0 124.9L249.0 126.7L252.0 128.5L255.0 130.4L258.0 132.4L261.0 134.4L264.0 136.3L267.0 138.1L270.0 139.8L273.0 141.6L276.0 143.5L279.0 145.4L282.0 147.4L285.0 149.2L288.0 150.8L291.0 152.4L294.0 153.9L297.0 155.6L300.0 157.2L303.0 158.8L306.0 160.2L309.0 161.6L312.0 162.9L315.0 164.2L318.0 165.7L321.0 167.4L324.0 169.4L327.0 171.8L330.0 173.8M45.0 66.6L48.0 66.5L51.0 66.5L54.0 66.4L57.0 66.4L60.0 66.3L63.0 66.2L66.0 66.2L69.0 66.1L72.0 66.1L75.0 66.0L78.0 65.9L81.0 65.9L84.0 65.8L87.0 65.8L90.0 65.9L93.0 65.9L96.0 65.7L99.0 65.4L102.0 65.1L105.0 64.7L108.0 64.1L111.0 63.5L114.0 63.0L117.0 62.9L120.0 62.9L123.0 62.6L126.0 61.8L129.0 60.5L132.0 59.3L135.0 58.3L138.0 57.7L141.0 57.2L144.0 56.5L147.0 55.5L150.0 54.7L153.0 54.6L156.0 55.2L159.0 55.6L162.0 55.2L165.0 53.9L168.0 52.7L171.0 51.9L174.0 51.5L177.0 51.5L180.0 52.0L183.0 52.9L186.0 53.5L189.0 53.5L192.0 53.3L195.0 53.3L198.0 53.5L201.0 53.6L204.0 53.4L207.0 53.2L210.0 53.5L213.0 54.2L216.0 54.8L219.0 54.6L222.0 54.1L225.0 54.1L228.0 55.2L231.0 57.0L234.0 58.5L237.0 59.3L240.0 60.0L243.0 60.9L246.0 62.3L249.0 63.9L252.0 65.5L255.0 67.2L258.0 68.8L261.0 70.1L264.0 71.5L267.0 72.9L270.0 74.4L273.0 75.7L276.0 77.0L279.0 78.3L282.0 79.6L285.0 80.8L288.0 82.0L291.0 83.3L294.0 84.6L297.0 86.1L300.0 87.4L303.0 88.7L306.0 89.9L309.0 91.1L312.0 92.4L315.0 93.7L318.0 95.1L321.0 96.6L324.0 98.1L327.0 99.7L330.0 101.1M45.0 79.1L48.0 79.1L51.0 79.1L54.0 79.1L57.0 79.1L60.0 79.1L63.0 79.1L66.0 79.1L69.0 79.1L72.0 79.0L75.0 79.0L78.0 78.9L81.0 78.9L84.0 78.9L87.0 79.0L90.0 78.9L93.0 78.8L96.0 78.6L99.0 78.4L102.0 78.1L105.0 77.8L108.0 77.6L111.0 77.4L114.0 77.1L117.0 77.0L120.0 77.1L123.0 77.1L126.0 76.8L129.0 76.2L132.0 75.5L135.0 75.0L138.0 74.7L141.0 74.8L144.0 75.2L147.0 75.8L150.0 76.1L153.0 75.7L156.0 74.8L159.0 73.9L162.0 73.3L165.0 73.1L168.0 73.0L171.0 72.8L174.0 73.0L177.0 73.2L180.0 73.2L183.0 73.4L186.0 74.1L189.0 74.7L192.0 74.9L195.0 74.8L198.0 74.9L201.0 75.3L204.0 75.5L207.0 75.6L210.0 75.8L213.0 76.5L216.0 77.5L219.0 78.6L222.0 79.5L225.0 80.4L228.0 81.3L231.0 82.3L234.0 83.2L237.0 84.2L240.0 85.2L243.0 86.3L246.0 87.3L249.0 88.3L252.0 89.4L255.0 90.4L258.0 91.5L261.0 92.8L264.0 94.4L267.0 96.2L270.0 98.1L273.0 100.2L276.0 102.3L279.0 104.1L282.0 105.7L285.0 107.0L288.0 108.3L291.0 109.8L294.0 111.5L297.0 113.4L300.0 115.3L303.0 117.1L306.0 119.0L309.0 120.7L312.0 122.4L315.0 124.1L318.0 125.8L321.0 127.6L324.0 129.4L327.0 131.0L330.0 132.2M45.0 68.3L48.0 68.3L51.0 68.3L54.0 68.2L57.0 68.2L60.0 68.2L63.0 68.2L66.0 68.1L69.0 68.1L72.0 68.1L75.0 68.1L78.0 68.0L81.0 68.0L84.0 67.9L87.0 67.9L90.0 68.0L93.0 68.1L96.0 68.1L99.0 68.0L102.0 67.7L105.0 67.1L108.0 66.4L111.0 65.7L114.0 65.1L117.0 64.6L120.0 64.1L123.0 63.7L126.0 62.9L129.0 62.0L132.0 61.4L135.0 61.6L138.0 62.7L141.0 64.1L144.0 65.1L147.0 65.1L150.0 64.0L153.0 62.2L156.0 60.4L159.0 59.1L162.0 58.7L165.0 58.9L168.0 58.8L171.0 58.7L174.0 59.3L177.0 60.9L180.0 62.8L183.0 63.8L186.0 63.8L189.0 63.5L192.0 63.7L195.0 64.6L198.0 65.4L201.0 65.6L204.0 65.1L207.0 64.5L210.0 64.4L213.0 65.1L216.0 66.3L219.0 67.7L222.0 69.1L225.0 70.5L228.0 71.8L231.0 72.9L234.0 73.8L237.0 74.8L240.0 75.7L243.0 76.8L246.0 77.9L249.0 79.0L252.0 80.3L255.0 81.6L258.0 83.0L261.0 84.3L264.0 85.7L267.0 86.9L270.0 88.0L273.0 89.3L276.0 90.7L279.0 92.0L282.0 93.2L285.0 94.2L288.0 95.3L291.0 96.7L294.0 98.5L297.0 100.7L300.0 103.0L303.0 105.5L306.0 107.9L309.0 110.3L312.0 112.6L315.0 114.6L318.0 116.5L321.0 118.2L324.0 119.7L327.0 120.8L330.0 121.5M45.0 76.3L48.0 76.3L51.0 76.3L54.0 76.3L57.0 76.2L60.0 76.2L63.0 76.1L66.0 76.1L69.0 76.1L72.0 76.1L75.0 76.1L78.0 76.0L81.0 76.0L84.0 76.0L87.0 75.8L90.0 75.7L93.0 75.6L96.0 75.6L99.0 75.6L102.0 75.6L105.0 75.5L108.0 75.3L111.0 75.0L114.0 74.5L117.0 73.7L120.0 72.9L123.0 71.9L126.0 70.7L129.0 69.6L132.0 68.9L135.0 68.7L138.0 68.6L141.0 68.4L144.0 68.0L147.0 67.8L150.0 68.2L153.0 68.8L156.0 68.8L159.0 67.9L162.0 67.3L165.0 67.6L168.0 68.8L171.0 69.9L174.0 70.2L177.0 70.1L180.0 70.2L183.0 70.5L186.0 70.2L189.0 69.1L192.0 68.2L195.0 68.1L198.0 68.7L201.0 69.2L204.0 69.3L207.0 68.7L210.0 67.9L213.0 67.6L216.0 68.5L219.0 70.0L222.0 71.5L225.0 72.4L228.0 73.2L231.0 74.3L234.0 75.6L237.0 76.9L240.0 78.2L243.0 79.3L246.0 80.4L249.0 81.5L252.0 82.8L255.0 84.3L258.0 86.0L261.0 87.7L264.0 89.5L267.0 91.2L270.0 93.0L273.0 94.9L276.0 96.8L279.0 98.3L282.0 99.4L285.0 100.2L288.0 101.2L291.0 102.6L294.0 104.3L297.0 106.2L300.0 108.0L303.0 109.9L306.0 111.9L309.0 113.9L312.0 116.1L315.0 118.4L318.0 120.8L321.0 123.5L324.0 126.2L327.0 128.8L330.0 131.1M45.0 70.7L48.0 70.7L51.0 70.6L54.0 70.6L57.0 70.6L60.0 70.5L63.0 70.5L66.0 70.5L69.0 70.4L72.0 70.4L75.0 70.4L78.0 70.3L81.0 70.2L84.0 70.0L87.0 69.9L90.0 69.8L93.0 69.5L96.0 69.2L99.0 68.9L102.0 68.5L105.0 68.0L108.0 67.4L111.0 66.8L114.0 66.2L117.0 65.9L120.0 65.6L123.0 65.6L126.0 65.5L129.0 65.2L132.0 64.5L135.0 63.9L138.0 63.8L141.0 63.7L144.0 63.1L147.0 62.2L150.0 61.5L153.0 61.5L156.0 62.0L159.0 62.3L162.0 62.2L165.0 61.9L168.0 61.9L171.0 62.7L174.0 63.9L177.0 64.8L180.0 65.1L183.0 65.1L186.0 65.0L189.0 64.9L192.0 64.9L195.0 65.2L198.0 66.1L201.0 67.2L204.0 68.3L207.0 69.4L210.0 70.4L213.0 71.3L216.0 72.0L219.0 73.0L222.0 74.7L225.0 76.8L228.0 79.0L231.0 81.0L234.0 82.6L237.0 84.0L240.0 85.2L243.0 86.5L246.0 87.8L249.0 89.0L252.0 90.0L255.0 91.0L258.0 92.3L261.0 93.9L264.0 96.0L267.0 98.1L270.0 100.2L273.0 102.3L276.0 104.2L279.0 105.7L282.0 106.8L285.0 107.7L288.0 108.7L291.0 110.2L294.0 112.1L297.0 114.2L300.0 116.3L303.0 118.4L306.0 120.4L309.0 122.5L312.0 124.7L315.0 127.0L318.0 129.3L321.0 131.7L324.0 134.1L327.0 136.5L330.0 138.5M45.0 68.3L48.0 68.2L51.0 68.2L54.0 68.1L57.0 68.1L60.0 68.0L63.0 68.0L66.0 67.9L69.0 67.9L72.0 67.8L75.0 67.7L78.0 67.7L81.0 67.6L84.0 67.6L87.0 67.7L90.0 67.6L93.0 67.4L96.0 66.9L99.0 66.3L102.0 65.6L105.0 65.0L108.0 64.5L111.0 63.9L114.0 63.2L117.0 62.3L120.0 61.6L123.0 61.2L126.0 61.2L129.0 61.4L132.0 61.5L135.0 61.4L138.0 60.9L141.0 59.8L144.0 58.5L147.0 57.7L150.0 57.4L153.0 56.9L156.0 56.1L159.0 55.2L162.0 54.5L165.0 54.1L168.0 54.4L171.0 55.2L174.0 55.9L177.0 55.8L180.0 54.9L183.0 53.8L186.0 52.9L189.0 52.5L192.0 52.6L195.0 53.2L198.0 54.3L201.0 55.6L204.0 56.5L207.0 57.1L210.0 57.6L213.0 58.4L216.0 58.8L219.0 58.3L222.0 57.4L225.0 56.7L228.0 56.6L231.0 57.2L234.0 58.6L237.0 60.1L240.0 61.4L243.0 62.4L246.0 63.4L249.0 64.5L252.0 65.7L255.0 67.0L258.0 68.4L261.0 69.8L264.0 71.1L267.0 72.5L270.0 74.0L273.0 75.4L276.0 76.8L279.0 77.8L282.0 78.7L285.0 79.6L288.0 80.6L291.0 81.8L294.0 83.0L297.0 84.3L300.0 85.4L303.0 86.5L306.0 87.5L309.0 88.6L312.0 89.8L315.0 91.1L318.0 92.5L321.0 94.0L324.0 95.5L327.0 96.9L330.0 98.1M45.0 90.9L48.0 90.9L51.0 90.9L54.0 90.9L57.0 90.9L60.0 90.9L63.0 90.9L66.0 90.9L69.0 90.9L72.0 90.9L75.0 90.9L78.0 90.9L81.0 90.9L84.0 90.9L87.0 90.8L90.0 90.7L93.0 90.8L96.0 91.0L99.0 91.1L102.0 91.0L105.0 90.5L108.0 89.7L111.0 88.7L114.0 88.2L117.0 88.4L120.0 89.1L123.0 89.9L126.0 90.4L129.0 90.7L132.0 90.8L135.0 90.7L138.0 90.6L141.0 90.8L144.0 91.1L147.0 91.1L150.0 90.6L153.0 90.1L156.0 89.7L159.0 89.4L162.0 89.1L165.0 89.3L168.0 90.0L171.0 90.8L174.0 91.1L177.0 90.6L180.0 89.9L183.0 89.5L186.0 89.6L189.0 90.4L192.0 91.9L195.0 93.9L198.0 95.9L201.0 97.8L204.0 99.7L207.0 101.3L210.0 102.6L213.0 103.3L216.0 103.8L219.0 104.7L222.0 106.2L225.0 108.2L228.0 110.2L231.0 112.1L234.0 114.0L237.0 115.8L240.0 117.6L243.0 119.4L246.0 121.3L249.0 123.3L252.0 125.3L255.0 127.3L258.0 129.0L261.0 130.5L264.0 131.8L267.0 133.2L270.0 134.7L273.0 136.4L276.0 138.2L279.0 140.1L282.0 142.0L285.0 143.7L288.0 145.4L291.0 147.0L294.0 148.6L297.0 150.2L300.0 151.7L303.0 153.2L306.0 154.6L309.0 156.3L312.0 158.1L315.0 160.0L318.0 162.1L321.0 164.5L324.0 167.0L327.0 169.6L330.0 171.8M45.0 75.7L48.0 75.7L51.0 75.7L54.0 75.6L57.0 75.6L60.0 75.6L63.0 75.5L66.0 75.5L69.0 75.4L72.0 75.4L75.0 75.3L78.0 75.2L81.0 75.1L84.0 74.9L87.0 74.8L90.0 74.7L93.0 74.6L96.0 74.6L99.0 74.7L102.0 74.9L105.0 75.0L108.0 74.6L111.0 73.9L114.0 73.0L117.0 72.1L120.0 71.0L123.0 70.0L126.0 69.5L129.0 69.6L132.0 69.9L135.0 69.7L138.0 69.1L141.0 68.5L144.0 68.1L147.0 68.0L150.0 68.7L153.0 69.9L156.0 70.8L159.0 70.5L162.0 69.3L165.0 67.5L168.0 65.1L171.0 63.2L174.0 62.4L177.0 62.4L180.0 62.4L183.0 62.4L186.0 62.4L189.0 62.2L192.0 62.1L195.0 62.3L198.0 62.7L201.0 63.3L204.0 64.0L207.0 64.7L210.0 65.4L213.0 66.3L216.0 67.5L219.0 68.9L222.0 70.3L225.0 71.5L228.0 72.5L231.0 73.4L234.0 74.4L237.0 75.3L240.0 76.0L243.0 76.7L246.0 77.4L249.0 78.3L252.0 79.4L255.0 80.6L258.0 81.9L261.0 83.4L264.0 84.9L267.0 86.2L270.0 87.5L273.0 88.9L276.0 90.2L279.0 91.4L282.0 92.5L285.0 93.6L288.0 95.0L291.0 96.9L294.0 99.3L297.0 101.9L300.0 104.4L303.0 106.8L306.0 109.0L309.0 110.9L312.0 112.6L315.0 114.1L318.0 115.2L321.0 115.9L324.0 116.3L327.0 116.4L330.0 116.1M45.0 70.3L48.0 70.3L51.0 70.2L54.0 70.2L57.0 70.1L60.0 70.1L63.0 70.0L66.0 69.9L69.0 69.9L72.0 69.9L75.0 69.8L78.0 69.8L81.0 69.8L84.0 69.8L87.0 69.7L90.0 69.4L93.0 69.0L96.0 68.6L99.0 68.2L102.0 67.8L105.0 67.3L108.0 66.8L111.0 66.2L114.0 65.4L117.0 64.7L120.0 64.3L123.0 63.8L126.0 63.2L129.0 62.6L132.0 62.5L135.0 62.8L138.0 63.0L141.0 62.8L144.0 62.6L147.0 62.8L150.0 63.4L153.0 63.9L156.0 63.5L159.0 62.2L162.0 60.6L165.0 59.2L168.0 57.9L171.0 57.1L174.0 57.0L177.0 57.1L180.0 57.0L183.0 56.8L186.0 56.8L189.0 56.9L192.0 56.8L195.0 56.6L198.0 56.6L201.0 57.3L204.0 58.5L207.0 59.8L210.0 60.8L213.0 61.2L216.0 61.4L219.0 61.4L222.0 61.6L225.0 62.1L228.0 63.0L231.0 64.0L234.0 64.9L237.0 65.9L240.0 66.9L243.0 68.0L246.0 69.0L249.0 70.1L252.0 71.3L255.0 72.5L258.0 73.4L261.0 74.3L264.0 75.1L267.0 76.1L270.0 77.5L273.0 79.2L276.0 81.2L279.0 83.1L282.0 84.9L285.0 86.7L288.0 88.4L291.0 90.2L294.0 91.9L297.0 93.6L300.0 95.0L303.0 96.3L306.0 97.5L309.0 98.6L312.0 99.6L315.0 100.6L318.0 101.4L321.0 102.3L324.0 103.1L327.0 104.0L330.0 104.7M45.0 75.1L48.0 75.1L51.0 75.0L54.0 75.0L57.0 75.0L60.0 75.0L63.0 74.9L66.0 74.9L69.0 74.9L72.0 74.9L75.0 74.9L78.0 74.8L81.0 74.7L84.0 74.7L87.0 74.7L90.0 74.6L93.0 74.5L96.0 74.3L99.0 74.1L102.0 73.9L105.0 73.5L108.0 73.1L111.0 72.6L114.0 72.1L117.0 71.6L120.0 71.3L123.0 71.1L126.0 70.8L129.0 70.3L132.0 69.4L135.0 68.3L138.0 67.0L141.0 65.9L144.0 65.0L147.0 64.3L150.0 63.8L153.0 63.4L156.0 63.4L159.0 63.8L162.0 64.1L165.0 64.1L168.0 63.8L171.0 63.7L174.0 64.4L177.0 65.5L180.0 66.9L183.0 68.1L186.0 69.1L189.0 69.7L192.0 70.3L195.0 71.0L198.0 71.5L201.0 72.0L204.0 72.8L207.0 74.2L210.0 76.3L213.0 79.0L216.0 81.6L219.0 83.8L222.0 85.4L225.0 86.8L228.0 88.7L231.0 90.7L234.0 92.7L237.0 94.5L240.0 96.3L243.0 98.2L246.0 100.1L249.0 102.0L252.0 103.8L255.0 105.6L258.0 107.4L261.0 109.2L264.0 111.1L267.0 113.1L270.0 115.3L273.0 117.6L276.0 119.9L279.0 122.0L282.0 123.8L285.0 125.4L288.0 127.0L291.0 128.7L294.0 130.7L297.0 132.8L300.0 134.8L303.0 136.8L306.0 138.7L309.0 140.5L312.0 142.2L315.0 143.8L318.0 145.3L321.0 146.9L324.0 148.3L327.0 149.7L330.0 150.6M45.0 75.2L48.0 75.2L51.0 75.1L54.0 75.1L57.0 75.1L60.0 75.1L63.0 75.0L66.0 75.0L69.0 74.9L72.0 74.9L75.0 74.8L78.0 74.8L81.0 74.7L84.0 74.8L87.0 74.7L90.0 74.5L93.0 74.2L96.0 73.8L99.0 73.5L102.0 73.2L105.0 73.0L108.0 73.1L111.0 73.4L114.0 73.8L117.0 73.9L120.0 73.5L123.0 72.9L126.0 72.2L129.0 71.3L132.0 70.2L135.0 68.7L138.0 67.2L141.0 66.1L144.0 65.5L147.0 65.7L150.0 66.4L153.0 66.9L156.0 66.9L159.0 66.3L162.0 65.8L165.0 65.5L168.0 65.5L171.0 65.7L174.0 65.9L177.0 65.7L180.0 65.5L183.0 65.7L186.0 66.1L189.0 66.5L192.0 66.8L195.0 67.1L198.0 67.3L201.0 67.6L204.0 67.8L207.0 68.0L210.0 67.9L213.0 67.8L216.0 67.8L219.0 68.2L222.0 68.9L225.0 69.5L228.0 70.0L231.0 70.8L234.0 72.2L237.0 74.0L240.0 75.8L243.0 77.2L246.0 78.2L249.0 79.3L252.0 80.4L255.0 81.5L258.0 82.4L261.0 83.4L264.0 84.7L267.0 86.3L270.0 88.2L273.0 90.2L276.0 92.1L279.0 93.8L282.0 95.1L285.0 96.3L288.0 97.5L291.0 99.0L294.0 100.7L297.0 102.7L300.0 104.8L303.0 107.0L306.0 109.2L309.0 111.4L312.0 113.5L315.0 115.5L318.0 117.5L321.0 119.5L324.0 121.5L327.0 123.6L330.0 125.5M45.0 74.2L48.0 74.1L51.0 74.1L54.0 74.0L57.0 74.0L60.0 73.9L63.0 73.9L66.0 73.8L69.0 73.8L72.0 73.7L75.0 73.7L78.0 73.6L81.0 73.5L84.0 73.4L87.0 73.2L90.0 72.9L93.0 72.5L96.0 72.1L99.0 71.8L102.0 71.7L105.0 71.6L108.0 71.4L111.0 70.8L114.0 69.9L117.0 69.1L120.0 68.7L123.0 68.2L126.0 67.6L129.0 66.9L132.0 66.4L135.0 65.9L138.0 65.1L141.0 64.1L144.0 63.4L147.0 63.2L150.0 63.6L153.0 64.2L156.0 64.6L159.0 64.4L162.0 64.0L165.0 63.6L168.0 63.2L171.0 62.7L174.0 62.8L177.0 62.8L180.0 62.0L183.0 60.5L186.0 59.4L189.0 59.6L192.0 60.3L195.0 60.7L198.0 61.0L201.0 61.5L204.0 62.4L207.0 63.2L210.0 64.0L213.0 65.2L216.0 66.6L219.0 67.6L222.0 68.0L225.0 68.3L228.0 68.8L231.0 69.8L234.0 70.8L237.0 71.5L240.0 72.1L243.0 72.9L246.0 73.8L249.0 74.8L252.0 75.8L255.0 76.8L258.0 77.8L261.0 79.0L264.0 80.6L267.0 82.2L270.0 83.9L273.0 85.4L276.0 86.7L279.0 87.9L282.0 89.0L285.0 90.2L288.0 91.7L291.0 93.3L294.0 95.3L297.0 97.3L300.0 99.2L303.0 101.1L306.0 102.8L309.0 104.4L312.0 106.1L315.0 107.8L318.0 109.5L321.0 111.3L324.0 113.1L327.0 114.9L330.0 116.4M45.0 76.4L48.0 76.4L51.0 76.4L54.0 76.4L57.0 76.4L60.0 76.3L63.0 76.3L66.0 76.3L69.0 76.2L72.0 76.2L75.0 76.2L78.0 76.1L81.0 76.1L84.0 76.2L87.0 76.2L90.0 76.0L93.0 75.7L96.0 75.4L99.0 75.2L102.0 75.2L105.0 75.2L108.0 75.1L111.0 74.8L114.0 74.5L117.0 74.2L120.0 73.8L123.0 73.5L126.0 73.4L129.0 73.4L132.0 73.2L135.0 72.8L138.0 72.5L141.0 72.7L144.0 73.4L147.0 74.0L150.0 74.0L153.0 73.4L156.0 72.3L159.0 70.9L162.0 69.0L165.0 67.0L168.0 65.5L171.0 65.3L174.0 66.6L177.0 68.2L180.0 69.1L183.0 69.6L186.0 70.3L189.0 70.7L192.0 70.2L195.0 68.7L198.0 67.0L201.0 66.2L204.0 66.6L207.0 67.9L210.0 69.2L213.0 70.3L216.0 71.3L219.0 72.4L222.0 73.8L225.0 75.2L228.0 76.6L231.0 77.6L234.0 78.5L237.0 79.1L240.0 79.8L243.0 80.6L246.0 81.6L249.0 82.7L252.0 83.8L255.0 84.9L258.0 85.9L261.0 86.9L264.0 87.9L267.0 88.9L270.0 90.2L273.0 91.9L276.0 93.8L279.0 95.6L282.0 97.2L285.0 98.5L288.0 99.8L291.0 101.3L294.0 103.2L297.0 105.2L300.0 107.3L303.0 109.4L306.0 111.5L309.0 113.5L312.0 115.5L315.0 117.4L318.0 119.3L321.0 121.4L324.0 123.6L327.0 126.0L330.0 128.0M45.0 81.6L48.0 81.5L51.0 81.5L54.0 81.5L57.0 81.5L60.0 81.5L63.0 81.5L66.0 81.5L69.0 81.4L72.0 81.4L75.0 81.4L78.0 81.3L81.0 81.3L84.0 81.3L87.0 81.3L90.0 81.1L93.0 81.0L96.0 80.7L99.0 80.5L102.0 80.2L105.0 79.7L108.0 79.2L111.0 78.5L114.0 78.0L117.0 77.8L120.0 77.9L123.0 78.2L126.0 78.3L129.0 78.1L132.0 77.9L135.0 78.0L138.0 78.3L141.0 78.3L144.0 77.8L147.0 77.3L150.0 76.9L153.0 76.8L156.0 76.8L159.0 76.4L162.0 75.4L165.0 74.6L168.0 74.7L171.0 75.6L174.0 76.7L177.0 77.4L180.0 77.8L183.0 78.2L186.0 78.5L189.0 78.5L192.0 78.4L195.0 78.3L198.0 78.2L201.0 78.2L204.0 78.4L207.0 78.5L210.0 78.3L213.0 78.5L216.0 79.4L219.0 81.1L222.0 83.3L225.0 85.0L228.0 86.0L231.0 86.5L234.0 87.0L237.0 87.9L240.0 89.2L243.0 90.6L246.0 92.0L249.0 93.2L252.0 94.4L255.0 95.6L258.0 96.8L261.0 98.0L264.0 99.3L267.0 100.6L270.0 102.0L273.0 103.5L276.0 105.0L279.0 106.3L282.0 107.3L285.0 108.3L288.0 109.2L291.0 110.4L294.0 111.9L297.0 113.5L300.0 115.2L303.0 117.1L306.0 119.2L309.0 121.5L312.0 123.7L315.0 125.9L318.0 127.9L321.0 129.8L324.0 131.6L327.0 133.2L330.0 134.4M45.0 80.4L48.0 80.3L51.0 80.3L54.0 80.3L57.0 80.3L60.0 80.3L63.0 80.3L66.0 80.2L69.0 80.2L72.0 80.2L75.0 80.2L78.0 80.1L81.0 80.0L84.0 79.9L87.0 79.8L90.0 79.7L93.0 79.6L96.0 79.6L99.0 79.7L102.0 79.6L105.0 79.4L108.0 79.0L111.0 78.5L114.0 78.1L117.0 77.9L120.0 77.9L123.0 77.8L126.0 77.5L129.0 76.9L132.0 76.3L135.0 76.1L138.0 76.4L141.0 76.9L144.0 77.3L147.0 77.3L150.0 77.0L153.0 76.2L156.0 75.1L159.0 73.8L162.0 72.6L165.0 71.6L168.0 70.9L171.0 71.1L174.0 72.4L177.0 73.9L180.0 75.0L183.0 75.2L186.0 74.8L189.0 74.3L192.0 74.1L195.0 74.1L198.0 74.0L201.0 73.9L204.0 74.2L207.0 74.8L210.0 75.7L213.0 77.1L216.0 78.5L219.0 79.5L222.0 79.7L225.0 79.4L228.0 79.3L231.0 79.5L234.0 79.9L237.0 80.5L240.0 81.2L243.0 82.0L246.0 83.0L249.0 84.1L252.0 85.3L255.0 86.3L258.0 87.3L261.0 88.4L264.0 89.7L267.0 91.1L270.0 92.7L273.0 94.3L276.0 96.0L279.0 97.5L282.0 98.7L285.0 99.8L288.0 101.1L291.0 102.8L294.0 104.7L297.0 106.5L300.0 108.3L303.0 110.0L306.0 111.6L309.0 113.2L312.0 114.6L315.0 115.9L318.0 117.2L321.0 118.3L324.0 119.3L327.0 120.0L330.0 120.1M45.0 82.5L48.0 82.5L51.0 82.5L54.0 82.4L57.0 82.4L60.0 82.4L63.0 82.4L66.0 82.4L69.0 82.3L72.0 82.3L75.0 82.3L78.0 82.3L81.0 82.2L84.0 82.2L87.0 82.1L90.0 82.0L93.0 81.9L96.0 81.9L99.0 81.9L102.0 81.8L105.0 81.5L108.0 81.2L111.0 81.1L114.0 81.1L117.0 81.1L120.0 80.8L123.0 80.3L126.0 79.5L129.0 78.3L132.0 77.7L135.0 77.7L138.0 77.7L141.0 77.1L144.0 76.6L147.0 76.8L150.0 77.7L153.0 78.9L156.0 79.7L159.0 79.8L162.0 79.3L165.0 78.9L168.0 78.9L171.0 79.5L174.0 80.3L177.0 81.1L180.0 81.7L183.0 82.2L186.0 81.9L189.0 81.1L192.0 80.3L195.0 80.1L198.0 80.3L201.0 80.9L204.0 81.5L207.0 82.1L210.0 82.6L213.0 83.0L216.0 83.5L219.0 84.3L222.0 85.3L225.0 86.4L228.0 87.3L231.0 88.1L234.0 88.8L237.0 89.3L240.0 90.0L243.0 90.8L246.0 91.7L249.0 92.7L252.0 93.9L255.0 95.2L258.0 96.7L261.0 98.3L264.0 100.1L267.0 102.0L270.0 104.0L273.0 106.1L276.0 108.2L279.0 109.9L282.0 111.3L285.0 112.6L288.0 114.0L291.0 115.6L294.0 117.5L297.0 119.3L300.0 121.1L303.0 122.8L306.0 124.5L309.0 126.3L312.0 128.0L315.0 129.6L318.0 131.2L321.0 132.7L324.0 134.2L327.0 135.6L330.0 136.5M45.0 88.0L48.0 88.0L51.0 88.1L54.0 88.0L57.0 88.0L60.0 88.0L63.0 87.9L66.0 87.9L69.0 88.0L72.0 88.0L75.0 88.0L78.0 88.0L81.0 88.0L84.0 87.9L87.0 87.8L90.0 87.8L93.0 87.6L96.0 87.5L99.0 87.4L102.0 87.3L105.0 87.2L108.0 87.2L111.0 87.2L114.0 87.3L117.0 87.2L120.0 87.1L123.0 87.2L126.0 87.5L129.0 87.9L132.0 88.0L135.0 87.3L138.0 86.2L141.0 85.6L144.0 85.9L147.0 86.4L150.0 86.6L153.0 86.1L156.0 84.7L159.0 82.7L162.0 81.0L165.0 80.3L168.0 80.7L171.0 81.7L174.0 82.7L177.0 83.7L180.0 84.8L183.0 85.8L186.0 86.3L189.0 86.6L192.0 87.1L195.0 87.6L198.0 88.2L201.0 89.0L204.0 90.2L207.0 91.2L210.0 91.3L213.0 90.7L216.0 90.2L219.0 90.5L222.0 91.7L225.0 93.4L228.0 95.2L231.0 96.8L234.0 98.2L237.0 99.4L240.0 100.5L243.0 101.7L246.0 102.8L249.0 103.8L252.0 104.6L255.0 105.5L258.0 106.4L261.0 107.4L264.0 108.6L267.0 109.9L270.0 111.5L273.0 113.4L276.0 115.4L279.0 117.4L282.0 119.3L285.0 121.0L288.0 122.7L291.0 124.5L294.0 126.5L297.0 128.6L300.0 130.7L303.0 132.7L306.0 134.7L309.0 136.6L312.0 138.5L315.0 140.3L318.0 142.1L321.0 143.8L324.0 145.5L327.0 147.2L330.0 148.6M45.0 90.0L48.0 90.0L51.0 90.0L54.0 90.0L57.0 90.0L60.0 90.0L63.0 90.0L66.0 90.0L69.0 90.0L72.0 90.0L75.0 90.0L78.0 89.9L81.0 89.9L84.0 89.7L87.0 89.7L90.0 89.8L93.0 90.0L96.0 90.3L99.0 90.5L102.0 90.7L105.0 90.7L108.0 90.4L111.0 89.8L114.0 89.3L117.0 89.2L120.0 89.2L123.0 89.1L126.0 88.8L129.0 88.3L132.0 88.0L135.0 87.6L138.0 87.0L141.0 86.2L144.0 85.6L147.0 85.4L150.0 85.3L153.0 84.8L156.0 84.1L159.0 83.5L162.0 83.2L165.0 83.1L168.0 83.2L171.0 83.8L174.0 85.3L177.0 87.5L180.0 89.3L183.0 90.2L186.0 90.3L189.0 90.3L192.0 90.8L195.0 91.7L198.0 92.7L201.0 93.9L204.0 95.2L207.0 96.7L210.0 98.1L213.0 99.5L216.0 100.6L219.0 101.5L222.0 102.5L225.0 103.9L228.0 105.5L231.0 107.1L234.0 108.4L237.0 109.6L240.0 110.8L243.0 111.9L246.0 113.2L249.0 114.5L252.0 115.8L255.0 117.1L258.0 118.5L261.0 120.0L264.0 121.6L267.0 123.2L270.0 124.7L273.0 126.1L276.0 127.5L279.0 129.1L282.0 130.8L285.0 132.7L288.0 134.6L291.0 136.7L294.0 138.9L297.0 141.0L300.0 143.2L303.0 145.1L306.0 146.9L309.0 148.6L312.0 150.2L315.0 151.7L318.0 153.3L321.0 154.8L324.0 156.2L327.0 157.4L330.0 158.3M45.0 72.0L48.0 72.0L51.0 72.0L54.0 71.9L57.0 71.9L60.0 71.8L63.0 71.7L66.0 71.7L69.0 71.6L72.0 71.6L75.0 71.5L78.0 71.4L81.0 71.2L84.0 71.0L87.0 70.8L90.0 70.7L93.0 70.7L96.0 70.4L99.0 70.0L102.0 69.4L105.0 68.6L108.0 67.9L111.0 67.3L114.0 66.8L117.0 66.4L120.0 65.8L123.0 65.2L126.0 64.5L129.0 63.9L132.0 63.5L135.0 63.1L138.0 62.5L141.0 61.9L144.0 61.4L147.0 60.9L150.0 60.3L153.0 59.9L156.0 59.5L159.0 58.8L162.0 58.1L165.0 57.8L168.0 58.4L171.0 59.6L174.0 60.6L177.0 60.6L180.0 60.0L183.0 59.9L186.0 60.6L189.0 61.7L192.0 62.2L195.0 61.5L198.0 59.8L201.0 58.6L204.0 58.7L207.0 59.7L210.0 60.8L213.0 61.5L216.0 61.9L219.0 62.5L222.0 63.5L225.0 64.8L228.0 66.4L231.0 67.9L234.0 69.1L237.0 69.8L240.0 70.5L243.0 71.3L246.0 72.3L249.0 73.4L252.0 74.4L255.0 75.3L258.0 76.1L261.0 77.1L264.0 78.5L267.0 80.1L270.0 81.9L273.0 83.7L276.0 85.5L279.0 87.1L282.0 88.5L285.0 89.8L288.0 90.9L291.0 92.3L294.0 93.8L297.0 95.5L300.0 97.2L303.0 98.6L306.0 100.0L309.0 101.4L312.0 102.8L315.0 104.4L318.0 106.0L321.0 107.7L324.0 109.4L327.0 111.1L330.0 112.5M45.0 82.0L48.0 82.0L51.0 82.0L54.0 82.0L57.0 82.0L60.0 82.0L63.0 82.0L66.0 81.9L69.0 81.9L72.0 81.9L75.0 81.9L78.0 81.9L81.0 81.9L84.0 81.8L87.0 81.9L90.0 81.9L93.0 82.0L96.0 81.9L99.0 81.7L102.0 81.3L105.0 81.1L108.0 81.2L111.0 81.5L114.0 81.5L117.0 81.0L120.0 80.1L123.0 79.5L126.0 79.7L129.0 80.5L132.0 81.3L135.0 81.8L138.0 82.0L141.0 82.0L144.0 81.6L147.0 81.0L150.0 80.9L153.0 81.3L156.0 81.7L159.0 81.6L162.0 81.3L165.0 80.8L168.0 80.5L171.0 80.0L174.0 79.8L177.0 80.2L180.0 81.3L183.0 82.8L186.0 83.8L189.0 83.8L192.0 83.4L195.0 83.4L198.0 84.1L201.0 85.8L204.0 88.4L207.0 91.7L210.0 94.7L213.0 96.3L216.0 96.9L219.0 97.4L222.0 98.3L225.0 99.5L228.0 100.8L231.0 101.8L234.0 103.0L237.0 104.5L240.0 106.0L243.0 107.6L246.0 109.0L249.0 110.4L252.0 112.0L255.0 113.7L258.0 115.6L261.0 117.4L264.0 119.2L267.0 120.9L270.0 122.6L273.0 124.4L276.0 126.3L279.0 128.4L282.0 130.4L285.0 132.3L288.0 134.4L291.0 136.7L294.0 139.0L297.0 141.3L300.0 143.5L303.0 145.5L306.0 147.5L309.0 149.4L312.0 151.1L315.0 152.8L318.0 154.3L321.0 155.7L324.0 156.9L327.0 157.9L330.0 158.3M45.0 89.6L48.0 89.6L51.0 89.6L54.0 89.6L57.0 89.6L60.0 89.6L63.0 89.5L66.0 89.6L69.0 89.6L72.0 89.6L75.0 89.6L78.0 89.6L81.0 89.6L84.0 89.6L87.0 89.6L90.0 89.7L93.0 89.8L96.0 89.9L99.0 89.9L102.0 90.0L105.0 89.8L108.0 89.5L111.0 89.1L114.0 88.9L117.0 88.7L120.0 88.3L123.0 87.9L126.0 87.6L129.0 87.5L132.0 87.7L135.0 87.7L138.0 87.5L141.0 87.4L144.0 87.6L147.0 88.1L150.0 88.2L153.0 88.0L156.0 87.5L159.0 86.5L162.0 85.4L165.0 84.5L168.0 84.4L171.0 84.5L174.0 84.7L177.0 84.6L180.0 84.5L183.0 84.5L186.0 84.6L189.0 84.6L192.0 84.4L195.0 84.2L198.0 84.5L201.0 85.5L204.0 87.0L207.0 88.5L210.0 89.7L213.0 90.8L216.0 92.0L219.0 93.4L222.0 94.6L225.0 95.7L228.0 96.7L231.0 97.7L234.0 98.7L237.0 99.8L240.0 100.6L243.0 101.2L246.0 101.6L249.0 102.0L252.0 102.6L255.0 103.3L258.0 104.1L261.0 105.2L264.0 106.5L267.0 108.1L270.0 109.8L273.0 111.6L276.0 113.5L279.0 115.3L282.0 116.9L285.0 118.3L288.0 119.7L291.0 121.3L294.0 123.2L297.0 125.2L300.0 127.2L303.0 129.1L306.0 131.1L309.0 133.0L312.0 135.0L315.0 136.9L318.0 138.9L321.0 140.9L324.0 143.0L327.0 144.9L330.0 146.4M45.0 70.3L48.0 70.3L51.0 70.3L54.0 70.2L57.0 70.2L60.0 70.2L63.0 70.2L66.0 70.1L69.0 70.1L72.0 70.1L75.0 70.0L78.0 70.0L81.0 69.9L84.0 69.8L87.0 69.7L90.0 69.4L93.0 69.1L96.0 68.7L99.0 68.3L102.0 68.0L105.0 67.6L108.0 66.9L111.0 66.1L114.0 65.5L117.0 65.2L120.0 65.1L123.0 65.0L126.0 64.8L129.0 64.5L132.0 64.0L135.0 63.3L138.0 62.6L141.0 62.0L144.0 61.4L147.0 60.8L150.0 60.2L153.0 59.9L156.0 60.0L159.0 60.1L162.0 59.7L165.0 58.9L168.0 58.2L171.0 58.0L174.0 58.7L177.0 59.6L180.0 60.4L183.0 61.0L186.0 61.0L189.0 60.6L192.0 60.3L195.0 60.5L198.0 61.1L201.0 62.0L204.0 62.7L207.0 63.2L210.0 63.8L213.0 64.7L216.0 65.7L219.0 66.9L222.0 68.0L225.0 68.9L228.0 69.9L231.0 71.0L234.0 72.0L237.0 72.9L240.0 73.6L243.0 74.2L246.0 75.0L249.0 75.8L252.0 76.8L255.0 77.9L258.0 79.0L261.0 80.4L264.0 82.0L267.0 84.0L270.0 86.0L273.0 87.8L276.0 89.4L279.0 90.9L282.0 92.3L285.0 93.7L288.0 95.1L291.0 96.7L294.0 98.3L297.0 100.0L300.0 101.6L303.0 103.2L306.0 104.7L309.0 106.3L312.0 108.0L315.0 109.8L318.0 111.7L321.0 113.9L324.0 116.2L327.0 118.5L330.0 120.4M45.0 86.6L48.0 86.6L51.0 86.6L54.0 86.6L57.0 86.5L60.0 86.5L63.0 86.5L66.0 86.5L69.0 86.5L72.0 86.5L75.0 86.5L78.0 86.5L81.0 86.5L84.0 86.4L87.0 86.3L90.0 86.3L93.0 86.3L96.0 86.4L99.0 86.6L102.0 86.6L105.0 86.2L108.0 85.5L111.0 84.9L114.0 84.7L117.0 85.0L120.0 85.2L123.0 85.2L126.0 85.1L129.0 85.2L132.0 85.2L135.0 84.8L138.0 84.0L141.0 83.3L144.0 83.3L147.0 84.0L150.0 85.1L153.0 85.8L156.0 85.4L159.0 83.9L162.0 82.3L165.0 81.4L168.0 81.6L171.0 82.4L174.0 83.9L177.0 85.7L180.0 87.1L183.0 87.6L186.0 87.5L189.0 87.1L192.0 87.3L195.0 88.3L198.0 89.9L201.0 91.8L204.0 93.5L207.0 94.9L210.0 96.1L213.0 97.3L216.0 98.7L219.0 100.2L222.0 101.5L225.0 102.3L228.0 103.0L231.0 104.0L234.0 105.3L237.0 107.1L240.0 109.0L243.0 110.7L246.0 112.2L249.0 113.5L252.0 114.8L255.0 116.4L258.0 118.2L261.0 120.1L264.0 122.1L267.0 124.0L270.0 125.8L273.0 127.3L276.0 128.9L279.0 130.7L282.0 132.7L285.0 134.9L288.0 137.1L291.0 139.3L294.0 141.6L297.0 143.8L300.0 145.9L303.0 147.9L306.0 149.8L309.0 151.6L312.0 153.3L315.0 155.0L318.0 156.7L321.0 158.7L324.0 160.8L327.0 162.9L330.0 164.7M45.0 73.2L48.0 73.2L51.0 73.2L54.0 73.1L57.0 73.1L60.0 73.0L63.0 73.0L66.0 72.9L69.0 72.9L72.0 72.8L75.0 72.7L78.0 72.7L81.0 72.6L84.0 72.5L87.0 72.5L90.0 72.4L93.0 72.2L96.0 71.9L99.0 71.7L102.0 71.6L105.0 71.6L108.0 71.6L111.0 71.5L114.0 71.3L117.0 70.9L120.0 70.2L123.0 69.2L126.0 68.3L129.0 67.7L132.0 67.2L135.0 66.3L138.0 65.3L141.0 64.9L144.0 65.3L147.0 65.9L150.0 65.9L153.0 65.1L156.0 64.0L159.0 63.0L162.0 61.9L165.0 61.2L168.0 61.4L171.0 62.4L174.0 63.5L177.0 64.0L180.0 64.0L183.0 63.8L186.0 63.2L189.0 62.3L192.0 61.2L195.0 60.8L198.0 61.4L201.0 62.7L204.0 64.0L207.0 65.1L210.0 66.0L213.0 67.1L216.0 68.4L219.0 69.0L222.0 68.9L225.0 68.6L228.0 68.8L231.0 69.5L234.0 70.3L237.0 70.9L240.0 71.4L243.0 72.1L246.0 73.0L249.0 74.0L252.0 75.1L255.0 76.3L258.0 77.5L261.0 79.0L264.0 80.7L267.0 82.5L270.0 84.2L273.0 85.7L276.0 87.1L279.0 88.4L282.0 89.6L285.0 90.9L288.0 92.3L291.0 93.9L294.0 95.7L297.0 97.6L300.0 99.5L303.0 101.3L306.0 103.0L309.0 104.6L312.0 106.3L315.0 108.0L318.0 109.6L321.0 111.1L324.0 112.6L327.0 114.0L330.0 115.0M45.0 83.6L48.0 83.5L51.0 83.4L54.0 83.3L57.0 83.2L60.0 83.1L63.0 82.9L66.0 82.8L69.0 82.6L72.0 82.4L75.0 82.2L78.0 82.0L81.0 81.7L84.0 81.3L87.0 80.9L90.0 80.7L93.0 80.5L96.0 80.3L99.0 80.0L102.0 79.5L105.0 79.0L108.0 78.4L111.0 77.4L114.0 76.1L117.0 75.0L120.0 74.8L123.0 75.1L126.0 75.3L129.0 75.3L132.0 75.2L135.0 75.1L138.0 74.5L141.0 73.5L144.0 72.0L147.0 70.5L150.0 69.5L153.0 69.1L156.0 69.2L159.0 69.0L162.0 68.3L165.0 67.7L168.0 67.6L171.0 67.5L174.0 67.0L177.0 66.4L180.0 66.4L183.0 67.1L186.0 67.6L189.0 67.4L192.0 67.0L195.0 66.6L198.0 66.3L201.0 65.9L204.0 65.8L207.0 66.1L210.0 66.6L213.0 67.0L216.0 67.4L219.0 68.0L222.0 68.7L225.0 69.4L228.0 70.0L231.0 70.8L234.0 71.8L237.0 73.0L240.0 74.3L243.0 75.5L246.0 76.4L249.0 77.3L252.0 78.3L255.0 79.6L258.0 81.0L261.0 82.5L264.0 83.8L267.0 85.1L270.0 86.5L273.0 88.2L276.0 90.1L279.0 91.8L282.0 93.2L285.0 94.4L288.0 95.6L291.0 97.1L294.0 98.9L297.0 100.8L300.0 102.6L303.0 104.4L306.0 106.3L309.0 108.1L312.0 110.0L315.0 112.0L318.0 114.0L321.0 116.1L324.0 118.2L327.0 120.2L330.0 121.8M45.0 64.9L48.0 64.9L51.0 64.8L54.0 64.7L57.0 64.7L60.0 64.6L63.0 64.6L66.0 64.5L69.0 64.5L72.0 64.4L75.0 64.3L78.0 64.2L81.0 64.1L84.0 64.0L87.0 64.0L90.0 63.9L93.0 63.7L96.0 63.2L99.0 62.6L102.0 61.7L105.0 60.9L108.0 60.6L111.0 60.8L114.0 61.1L117.0 60.9L120.0 60.4L123.0 59.8L126.0 59.3L129.0 59.0L132.0 58.7L135.0 58.7L138.0 58.5L141.0 57.7L144.0 56.4L147.0 54.8L150.0 53.0L153.0 51.8L156.0 51.4L159.0 50.9L162.0 49.3L165.0 47.3L168.0 46.0L171.0 45.9L174.0 46.8L177.0 48.0L180.0 49.5L183.0 51.0L186.0 52.5L189.0 53.6L192.0 54.4L195.0 54.7L198.0 54.9L201.0 55.0L204.0 55.0L207.0 55.0L210.0 55.5L213.0 56.0L216.0 56.0L219.0 55.5L222.0 55.2L225.0 55.4L228.0 55.8L231.0 56.0L234.0 56.1L237.0 56.4L240.0 56.9L243.0 57.4L246.0 58.0L249.0 58.5L252.0 59.0L255.0 59.6L258.0 60.4L261.0 61.5L264.0 63.0L267.0 64.7L270.0 66.5L273.0 68.4L276.0 70.1L279.0 71.6L282.0 72.7L285.0 73.5L288.0 74.3L291.0 75.2L294.0 76.2L297.0 77.6L300.0 79.1L303.0 80.7L306.0 82.3L309.0 83.8L312.0 85.3L315.0 86.8L318.0 88.2L321.0 89.1L324.0 89.7L327.0 90.1L330.0 90.4M45.0 66.4L48.0 66.3L51.0 66.3L54.0 66.2L57.0 66.1L60.0 66.1L63.0 66.0L66.0 66.0L69.0 65.9L72.0 65.9L75.0 65.8L78.0 65.8L81.0 65.8L84.0 65.8L87.0 65.8L90.0 65.6L93.0 65.3L96.0 64.8L99.0 64.5L102.0 64.3L105.0 64.3L108.0 64.3L111.0 64.2L114.0 63.9L117.0 63.5L120.0 62.9L123.0 61.9L126.0 61.0L129.0 60.6L132.0 60.8L135.0 60.9L138.0 60.7L141.0 60.4L144.0 60.3L147.0 60.2L150.0 60.1L153.0 60.2L156.0 60.5L159.0 60.7L162.0 60.0L165.0 58.1L168.0 55.7L171.0 54.0L174.0 53.5L177.0 53.8L180.0 54.2L183.0 54.6L186.0 54.7L189.0 54.6L192.0 54.5L195.0 54.8L198.0 55.4L201.0 56.4L204.0 58.0L207.0 60.0L210.0 61.6L213.0 61.9L216.0 61.2L219.0 60.4L222.0 60.3L225.0 60.8L228.0 61.4L231.0 62.1L234.0 63.0L237.0 64.1L240.0 65.5L243.0 66.8L246.0 67.7L249.0 68.5L252.0 69.3L255.0 70.5L258.0 72.0L261.0 73.4L264.0 74.9L267.0 76.5L270.0 78.2L273.0 80.0L276.0 81.8L279.0 83.5L282.0 85.1L285.0 86.6L288.0 87.9L291.0 89.1L294.0 90.3L297.0 91.4L300.0 92.6L303.0 93.7L306.0 95.0L309.0 96.4L312.0 98.0L315.0 99.6L318.0 101.5L321.0 103.5L324.0 105.7L327.0 107.8L330.0 109.6M45.0 84.9L48.0 84.9L51.0 84.8L54.0 84.8L57.0 84.8L60.0 84.7L63.0 84.7L66.0 84.7L69.0 84.7L72.0 84.6L75.0 84.6L78.0 84.5L81.0 84.5L84.0 84.4L87.0 84.5L90.0 84.6L93.0 84.7L96.0 84.7L99.0 84.7L102.0 84.5L105.0 84.2L108.0 83.6L111.0 83.1L114.0 82.6L117.0 82.0L120.0 81.6L123.0 81.4L126.0 81.3L129.0 81.0L132.0 80.5L135.0 79.7L138.0 78.9L141.0 78.2L144.0 77.8L147.0 77.4L150.0 77.0L153.0 76.5L156.0 75.7L159.0 74.7L162.0 73.8L165.0 73.8L168.0 74.7L171.0 76.0L174.0 76.6L177.0 76.2L180.0 75.5L183.0 75.7L186.0 76.8L189.0 77.6L192.0 77.7L195.0 77.2L198.0 76.6L201.0 76.4L204.0 76.5L207.0 77.3L210.0 78.4L213.0 79.6L216.0 80.7L219.0 81.5L222.0 82.2L225.0 83.0L228.0 83.9L231.0 85.0L234.0 86.0L237.0 86.7L240.0 87.3L243.0 87.9L246.0 88.8L249.0 89.9L252.0 90.9L255.0 92.0L258.0 93.3L261.0 95.0L264.0 96.8L267.0 98.4L270.0 100.0L273.0 101.6L276.0 103.3L279.0 104.9L282.0 106.3L285.0 107.5L288.0 108.8L291.0 110.4L294.0 112.3L297.0 114.5L300.0 116.6L303.0 118.8L306.0 121.0L309.0 123.1L312.0 125.1L315.0 127.0L318.0 128.9L321.0 130.8L324.0 132.7L327.0 134.6L330.0 136.0M45.0 78.8L48.0 78.8L51.0 78.8L54.0 78.8L57.0 78.8L60.0 78.8L63.0 78.8L66.0 78.7L69.0 78.7L72.0 78.7L75.0 78.7L78.0 78.7L81.0 78.6L84.0 78.5L87.0 78.5L90.0 78.4L93.0 78.3L96.0 78.3L99.0 78.3L102.0 78.3L105.0 78.1L108.0 78.0L111.0 77.8L114.0 77.5L117.0 76.8L120.0 76.1L123.0 75.7L126.0 76.3L129.0 77.7L132.0 79.2L135.0 80.3L138.0 80.6L141.0 79.7L144.0 78.0L147.0 76.2L150.0 75.1L153.0 74.9L156.0 75.1L159.0 75.5L162.0 75.7L165.0 76.1L168.0 76.5L171.0 76.8L174.0 77.0L177.0 77.2L180.0 77.7L183.0 78.6L186.0 79.4L189.0 79.3L192.0 78.4L195.0 77.6L198.0 78.0L201.0 79.4L204.0 80.9L207.0 82.1L210.0 83.2L213.0 84.3L216.0 85.3L219.0 86.2L222.0 86.9L225.0 87.7L228.0 88.5L231.0 89.5L234.0 90.7L237.0 92.1L240.0 93.5L243.0 94.9L246.0 96.2L249.0 97.4L252.0 98.7L255.0 100.0L258.0 101.3L261.0 102.8L264.0 104.4L267.0 105.8L270.0 107.3L273.0 108.7L276.0 110.2L279.0 111.7L282.0 113.3L285.0 114.9L288.0 116.4L291.0 118.0L294.0 119.8L297.0 121.7L300.0 123.7L303.0 125.7L306.0 127.7L309.0 129.7L312.0 131.8L315.0 133.9L318.0 136.1L321.0 138.4L324.0 140.8L327.0 143.2L330.0 145.2M150.0 91.9L152.0 92.3L154.0 92.7L156.0 93.0L158.0 93.3L160.0 93.4L162.0 93.6L164.0 93.6L166.0 93.6L168.0 93.6L170.0 93.8L172.0 93.9L174.0 94.0L176.0 94.2L178.0 94.6L180.0 95.1L182.0 95.5L184.0 96.1L186.0 96.6L188.0 97.3L190.0 98.1L192.0 99.0L194.0 100.0L196.0 101.2L198.0 102.4L200.0 103.6L202.0 104.8L204.0 106.0L206.0 107.3L208.0 108.5L210.0 109.9L212.0 111.6L214.0 113.3L216.0 115.0L218.0 116.6L220.0 118.1L222.0 119.5L224.0 120.8L226.0 122.0L228.0 123.2L230.0 124.2L232.0 125.2L234.0 126.1L236.0 127.0L238.0 128.0L240.0 128.9L242.0 130.0L244.0 131.1L246.0 132.2L248.0 133.4L250.0 134.7L252.0 135.9L254.0 137.2L256.0 138.7L258.0 140.2L260.0 141.7L262.0 143.3L264.0 144.9L266.0 146.5L268.0 148.0L270.0 149.6L272.0 151.2L274.0 152.8L276.0 154.3L278.0 155.7L280.0 157.0L282.0 158.2L284.0 159.3L286.0 160.4L288.0 161.4L290.0 162.3L292.0 163.0L294.0 163.8L296.0 164.6L298.0 165.4L300.0 166.3L302.0 167.3L304.0 168.4L306.0 169.5L308.0 170.8L310.0 172.2L312.0 173.6L314.0 175.1L316.0 176.6L318.0 178.2L320.0 179.8L322.0 181.4L324.0 183.0L326.0 184.5L328.0 185.9L330.0 187.0M165.0 90.1L167.0 90.0L169.0 90.2L171.0 90.6L173.0 91.0L175.0 91.6L177.0 92.6L179.0 93.6L181.0 94.8L183.0 95.9L185.0 97.1L187.0 98.3L189.0 99.6L191.0 100.9L193.0 102.2L195.0 103.5L197.0 104.7L199.0 105.9L201.0 107.0L203.0 107.9L205.0 108.8L207.0 109.6L209.0 110.4L211.0 111.4L213.0 112.6L215.0 113.8L217.0 114.9L219.0 116.1L221.0 117.2L223.0 118.3L225.0 119.4L227.0 120.5L229.0 121.6L231.0 122.7L233.0 123.8L235.0 125.0L237.0 126.3L239.0 127.6L241.0 128.9L243.0 130.3L245.0 131.8L247.0 133.3L249.0 134.8L251.0 136.2L253.0 137.6L255.0 139.1L257.0 140.6L259.0 142.0L261.0 143.5L263.0 144.9L265.0 146.4L267.0 147.7L269.0 149.1L271.0 150.5L273.0 152.0L275.0 153.4L277.0 154.8L279.0 156.1L281.0 157.3L283.0 158.5L285.0 159.7L287.0 160.8L289.0 161.8L291.0 162.8L293.0 163.6L295.0 164.5L297.0 165.4L299.0 166.3L300.0 166.8M45.0 56.0L48.0 56.0L51.0 55.9L54.0 55.9L57.0 55.8L60.0 55.8L63.0 55.8L66.0 55.7L69.0 55.7L72.0 55.6L75.0 55.6L78.0 55.5L81.0 55.5L84.0 55.5L87.0 55.4L90.0 55.3L93.0 54.9L96.0 54.5L99.0 54.1L102.0 53.5L105.0 52.8L108.0 52.0L111.0 51.4L114.0 50.9L117.0 50.5L120.0 50.1L123.0 49.6L126.0 49.3L129.0 49.0L132.0 48.8L135.0 48.5L138.0 48.5L141.0 48.5L144.0 48.5L147.0 48.5L150.0 48.4L153.0 48.2L156.0 48.1L159.0 48.0L162.0 48.0L165.0 47.9L168.0 47.8L171.0 47.9L174.0 48.0L177.0 48.2L180.0 48.4L183.0 48.5L186.0 48.7L189.0 48.8L192.0 49.0L195.0 49.1L198.0 49.3L201.0 49.3L204.0 49.2L207.0 49.0L210.0 48.8L213.0 48.6L216.0 48.4L219.0 48.3L222.0 48.1L225.0 48.1L228.0 48.6L231.0 49.2L234.0 49.8L237.0 50.8L240.0 52.0L243.0 53.2L246.0 54.4L249.0 55.4L252.0 56.1L255.0 56.8L258.0 57.5L261.0 58.5L264.0 59.8L267.0 61.2L270.0 63.2L273.0 65.7L276.0 68.1L279.0 70.5L282.0 72.3L285.0 73.2L288.0 74.1L291.0 75.0L294.0 76.0L297.0 77.5L300.0 79.0L303.0 80.5L306.0 82.0L309.0 83.5L312.0 85.0L315.0 86.5L318.0 87.9L321.0 88.9L324.0 89.3L327.0 89.6L330.0 90.0M190.0 100.1L193.0 101.2L196.0 102.4L199.0 103.6L202.0 104.8L205.0 106.0L208.0 107.5L211.0 109.0L214.0 110.5L217.0 112.0L220.0 113.5L223.0 115.1L226.0 116.8L229.0 118.4L232.0 120.4L235.0 122.4L238.0 124.5L241.0 126.6L244.0 128.8L247.0 130.9L250.0 132.7M200.0 103.2L203.0 104.5L206.0 106.0L209.0 107.5L212.0 109.0L215.0 110.6L218.0 113.1L221.0 115.6L224.0 118.1L227.0 120.5L230.0 122.7L233.0 124.9L236.0 126.5L239.0 128.0L242.0 129.5L245.0 130.8" stroke="#777" stroke-width="0.45" fill="none" stroke-linejoin="round"/>
<path d="M45.0 62.4L47.0 62.4L49.0 62.3L51.0 62.3L53.0 62.2L55.0 62.2L57.0 62.1L59.0 62.1L61.0 62.0L63.0 62.0L65.0 61.9L67.0 61.8L69.0 61.7L71.0 61.5L73.0 61.3L75.0 61.1L77.0 60.9L79.0 60.7L81.0 60.6L83.0 60.4L85.0 60.3L87.0 60.2L89.0 60.0L91.0 59.9L93.0 59.7L95.0 59.6L97.0 59.4L99.0 59.3L101.0 59.2L103.0 59.0L105.0 58.9L107.0 58.8L109.0 58.6L111.0 58.5L113.0 58.4L115.0 58.2L117.0 58.1L119.0 58.0L121.0 57.8L123.0 57.5L125.0 57.2L127.0 57.0L129.0 56.7L131.0 56.5L133.0 56.2L135.0 55.9L137.0 55.7L139.0 55.4L141.0 55.1L143.0 54.9L145.0 54.6L147.0 54.3L149.0 54.0L151.0 53.7L153.0 53.4L155.0 53.0L157.0 52.7L159.0 52.4L161.0 52.1L163.0 51.8L165.0 51.5L167.0 51.3L169.0 51.3L171.0 51.4L173.0 51.4L175.0 51.5L177.0 51.6L179.0 51.6L181.0 51.7L183.0 51.8L185.0 51.8L187.0 51.9L189.0 52.0L191.0 52.2L193.0 52.4L195.0 52.6L197.0 52.8L199.0 53.0L201.0 53.2L203.0 53.4L205.0 53.6L207.0 53.9L209.0 54.1L211.0 54.3L213.0 54.6L215.0 55.0L217.0 55.5L219.0 56.0L221.0 56.6L223.0 57.1L225.0 57.6L227.0 58.1L229.0 58.6L231.0 59.1L233.0 59.7L235.0 60.2L237.0 60.7L239.0 61.2L241.0 61.8L243.0 62.3L245.0 62.9L247.0 63.4L249.0 64.0L251.0 64.5L253.0 65.1L255.0 65.7L257.0 66.3L259.0 66.9L261.0 67.7L263.0 68.4L265.0 69.2L267.0 69.9L269.0 70.6L271.0 71.4L273.0 72.2L275.0 73.0L277.0 73.7L279.0 74.5L281.0 75.3L283.0 76.2L285.0 77.0L287.0 77.9L289.0 78.8L291.0 79.6L293.0 80.5L295.0 81.3L297.0 82.2L299.0 83.1L301.0 83.8L303.0 84.6L305.0 85.3L307.0 86.0L309.0 86.8L311.0 87.5L313.0 88.2L315.0 89.0L317.0 89.7L319.0 90.4L321.0 91.1L323.0 91.6L325.0 91.9L327.0 92.2L329.0 92.4L330.0 92.5" stroke="#d8d8d8" stroke-width="2.4" fill="none"/>
<path d="M45.0 62.4L47.0 62.4L49.0 62.3L51.0 62.3L53.0 62.2L55.0 62.2L57.0 62.1L59.0 62.1L61.0 62.0L63.0 62.0L65.0 61.9L67.0 61.8L69.0 61.7L71.0 61.5L73.0 61.3L75.0 61.1L77.0 60.9L79.0 60.7L81.0 60.6L83.0 60.4L85.0 60.3L87.0 60.2L89.0 60.0L91.0 59.9L93.0 59.7L95.0 59.6L97.0 59.4L99.0 59.3L101.0 59.2L103.0 59.0L105.0 58.9L107.0 58.8L109.0 58.6L111.0 58.5L113.0 58.4L115.0 58.2L117.0 58.1L119.0 58.0L121.0 57.8L123.0 57.5L125.0 57.2L127.0 57.0L129.0 56.7L131.0 56.5L133.0 56.2L135.0 55.9L137.0 55.7L139.0 55.4L141.0 55.1L143.0 54.9L145.0 54.6L147.0 54.3L149.0 54.0L151.0 53.7L153.0 53.4L155.0 53.0L157.0 52.7L159.0 52.4L161.0 52.1L163.0 51.8L165.0 51.5L167.0 51.3L169.0 51.3L171.0 51.4L173.0 51.4L175.0 51.5L177.0 51.6L179.0 51.6L181.0 51.7L183.0 51.8L185.0 51.8L187.0 51.9L189.0 52.0L191.0 52.2L193.0 52.4L195.0 52.6L197.0 52.8L199.0 53.0L201.0 53.2L203.0 53.4L205.0 53.6L207.0 53.9L209.0 54.1L211.0 54.3L213.0 54.6L215.0 55.0L217.0 55.5L219.0 56.0L221.0 56.6L223.0 57.1L225.0 57.6L227.0 58.1L229.0 58.6L231.0 59.1L233.0 59.7L235.0 60.2L237.0 60.7L239.0 61.2L241.0 61.8L243.0 62.3L245.0 62.9L247.0 63.4L249.0 64.0L251.0 64.5L253.0 65.1L255.0 65.7L257.0 66.3L259.0 66.9L261.0 67.7L263.0 68.4L265.0 69.2L267.0 69.9L269.0 70.6L271.0 71.4L273.0 72.2L275.0 73.0L277.0 73.7L279.0 74.5L281.0 75.3L283.0 76.2L285.0 77.0L287.0 77.9L289.0 78.8L291.0 79.6L293.0 80.5L295.0 81.3L297.0 82.2L299.0 83.1L301.0 83.8L303.0 84.6L305.0 85.3L307.0 86.0L309.0 86.8L311.0 87.5L313.0 88.2L315.0 89.0L317.0 89.7L319.0 90.4L321.0 91.1L323.0 91.6L325.0 91.9L327.0 92.2L329.0 92.4L330.0 92.5" stroke="#a8a8a8" stroke-width="0.6" fill="none"/>
<path d="M45.0 98.3L47.0 98.3L49.0 98.3L51.0 98.3L53.0 98.3L55.0 98.3L57.0 98.3L59.0 98.3L61.0 98.3L63.0 98.3L65.0 98.3L67.0 98.3L69.0 98.3L71.0 98.3L73.0 98.2L75.0 98.2L77.0 98.2L79.0 98.2L81.0 98.2L83.0 98.2L85.0 98.2L87.0 98.2L89.0 98.2L91.0 98.2L93.0 98.2L95.0 98.2L97.0 98.2L99.0 98.2L101.0 98.1L103.0 97.9L105.0 97.6L107.0 97.4L109.0 97.2L111.0 96.9L113.0 96.5L115.0 96.0L117.0 95.4L119.0 94.9L121.0 94.5L123.0 94.3L125.0 94.1L127.0 93.9L129.0 93.7L131.0 93.5L133.0 93.3L135.0 93.1L137.0 92.9L139.0 92.7L141.0 92.5L143.0 92.3L145.0 92.1L147.0 92.0L149.0 91.9L151.0 91.9L153.0 91.8L155.0 91.8L157.0 91.7L159.0 91.7L161.0 91.6L163.0 91.6L165.0 91.6L167.0 91.7L169.0 92.0L171.0 92.4L173.0 92.8L175.0 93.3L177.0 94.1L179.0 95.0L181.0 95.9L183.0 96.8L185.0 97.7L187.0 98.6L189.0 99.5L191.0 100.5L193.0 101.5L195.0 102.5L197.0 103.5L199.0 104.5L201.0 105.4L203.0 106.2L205.0 107.0L207.0 107.8L209.0 108.7L211.0 109.8L213.0 111.1L215.0 112.6L217.0 114.0L219.0 115.4L221.0 116.8L223.0 118.2L225.0 119.7L227.0 121.1L229.0 122.5L231.0 123.9L233.0 125.2L235.0 126.6L237.0 128.0L239.0 129.3L241.0 130.7L243.0 132.1L245.0 133.4L247.0 134.8L249.0 136.1L251.0 137.2L253.0 138.4L255.0 139.5L257.0 140.7L259.0 141.8L261.0 143.0L263.0 144.1L265.0 145.2L267.0 146.4L269.0 147.6L271.0 148.9L273.0 150.2L275.0 151.6L277.0 153.0L279.0 154.4L281.0 155.8L283.0 157.2L285.0 158.6L287.0 160.0L289.0 161.3L291.0 162.6L293.0 163.8L295.0 165.0L297.0 166.2L299.0 167.4L301.0 168.5L303.0 169.7L305.0 170.9L307.0 172.1L309.0 173.3L311.0 174.5L313.0 175.7L315.0 176.8L317.0 178.0L319.0 179.2L321.0 180.3L323.0 181.5L325.0 182.6L327.0 183.8L329.0 184.8L330.0 185.2" stroke="#d8d8d8" stroke-width="2.4" fill="none"/>
<path d="M45.0 98.3L47.0 98.3L49.0 98.3L51.0 98.3L53.0 98.3L55.0 98.3L57.0 98.3L59.0 98.3L61.0 98.3L63.0 98.3L65.0 98.3L67.0 98.3L69.0 98.3L71.0 98.3L73.0 98.2L75.0 98.2L77.0 98.2L79.0 98.2L81.0 98.2L83.0 98.2L85.0 98.2L87.0 98.2L89.0 98.2L91.0 98.2L93.0 98.2L95.0 98.2L97.0 98.2L99.0 98.2L101.0 98.1L103.0 97.9L105.0 97.6L107.0 97.4L109.0 97.2L111.0 96.9L113.0 96.5L115.0 96.0L117.0 95.4L119.0 94.9L121.0 94.5L123.0 94.3L125.0 94.1L127.0 93.9L129.0 93.7L131.0 93.5L133.0 93.3L135.0 93.1L137.0 92.9L139.0 92.7L141.0 92.5L143.0 92.3L145.0 92.1L147.0 92.0L149.0 91.9L151.0 91.9L153.0 91.8L155.0 91.8L157.0 91.7L159.0 91.7L161.0 91.6L163.0 91.6L165.0 91.6L167.0 91.7L169.0 92.0L171.0 92.4L173.0 92.8L175.0 93.3L177.0 94.1L179.0 95.0L181.0 95.9L183.0 96.8L185.0 97.7L187.0 98.6L189.0 99.5L191.0 100.5L193.0 101.5L195.0 102.5L197.0 103.5L199.0 104.5L201.0 105.4L203.0 106.2L205.0 107.0L207.0 107.8L209.0 108.7L211.0 109.8L213.0 111.1L215.0 112.6L217.0 114.0L219.0 115.4L221.0 116.8L223.0 118.2L225.0 119.7L227.0 121.1L229.0 122.5L231.0 123.9L233.0 125.2L235.0 126.6L237.0 128.0L239.0 129.3L241.0 130.7L243.0 132.1L245.0 133.4L247.0 134.8L249.0 136.1L251.0 137.2L253.0 138.4L255.0 139.5L257.0 140.7L259.0 141.8L261.0 143.0L263.0 144.1L265.0 145.2L267.0 146.4L269.0 147.6L271.0 148.9L273.0 150.2L275.0 151.6L277.0 153.0L279.0 154.4L281.0 155.8L283.0 157.2L285.0 158.6L287.0 160.0L289.0 161.3L291.0 162.6L293.0 163.8L295.0 165.0L297.0 166.2L299.0 167.4L301.0 168.5L303.0 169.7L305.0 170.9L307.0 172.1L309.0 173.3L311.0 174.5L313.0 175.7L315.0 176.8L317.0 178.0L319.0 179.2L321.0 180.3L323.0 181.5L325.0 182.6L327.0 183.8L329.0 184.8L330.0 185.2" stroke="#a8a8a8" stroke-width="0.6" fill="none"/>
<path d="M45.0 76.4L47.0 76.4L49.0 76.3L51.0 76.3L53.0 76.3L55.0 76.3L57.0 76.2L59.0 76.2L61.0 76.2L63.0 76.2L65.0 76.1L67.0 76.1L69.0 76.1L71.0 76.1L73.0 76.0L75.0 76.0L77.0 76.0L79.0 75.9L81.0 75.8L83.0 75.8L85.0 75.7L87.0 75.7L89.0 75.6L91.0 75.5L93.0 75.4L95.0 75.3L97.0 75.2L99.0 75.0L101.0 74.9L103.0 74.6L105.0 74.4L107.0 74.2L109.0 73.9L111.0 73.7L113.0 73.5L115.0 73.3L117.0 73.1L119.0 72.8L121.0 72.6L123.0 72.4L125.0 72.2L127.0 71.9L129.0 71.6L131.0 71.3L133.0 71.1L135.0 70.8L137.0 70.5L139.0 70.2L141.0 70.0L143.0 69.7L145.0 69.4L147.0 69.2L149.0 69.0L151.0 68.8L153.0 68.6L155.0 68.4L157.0 68.2L159.0 68.0L161.0 67.8L163.0 67.6L165.0 67.4L167.0 67.3L169.0 67.1L171.0 67.2L173.0 67.9L175.0 68.6L177.0 68.7L179.0 68.5L181.0 68.2L183.0 68.1L185.0 68.1L187.0 68.2L189.0 68.3L191.0 68.4L193.0 68.5L195.0 68.6L197.0 68.7L199.0 69.0L201.0 69.4L203.0 69.8L205.0 70.2L207.0 70.6L209.0 71.0L211.0 71.6L213.0 72.2L215.0 73.0L217.0 73.7L219.0 74.4L221.0 75.2L223.0 75.9L225.0 76.6L227.0 77.3L229.0 77.9L231.0 78.6L233.0 79.3L235.0 80.0L237.0 80.6L239.0 81.3L241.0 82.0L243.0 82.7L245.0 83.4L247.0 84.0L249.0 84.7L251.0 85.4L253.0 86.1L255.0 86.8L257.0 87.5L259.0 88.2L261.0 89.1L263.0 90.2L265.0 91.2L267.0 92.4L269.0 93.5L271.0 94.8L273.0 96.2L275.0 97.7L277.0 99.0L279.0 100.0L281.0 100.9L283.0 101.6L285.0 102.3L287.0 102.9L289.0 103.7L291.0 104.8L293.0 106.2L295.0 107.5L297.0 108.8L299.0 110.2L301.0 111.6L303.0 113.0L305.0 114.5L307.0 115.9L309.0 117.3L311.0 118.7L313.0 120.1L315.0 121.4L317.0 122.7L319.0 124.0L321.0 125.3L323.0 126.6L325.0 127.9L327.0 129.1L329.0 130.3L330.0 130.7" stroke="#f00000" stroke-width="3.15" fill="none" stroke-linejoin="round"/>
<path d="M45.0 62.4L47.0 62.4L49.0 62.3L51.0 62.3L53.0 62.2L55.0 62.2L57.0 62.1L59.0 62.1L61.0 62.0L63.0 62.0L65.0 61.9L67.0 61.8L69.0 61.7L71.0 61.5L73.0 61.3L75.0 61.1L77.0 60.9L79.0 60.7L81.0 60.6L83.0 60.4L85.0 60.3L87.0 60.2L89.0 60.0L91.0 59.9L93.0 59.7L95.0 59.6L97.0 59.4L99.0 59.3L101.0 59.2L103.0 59.0L105.0 58.9L107.0 58.8L109.0 58.6L111.0 58.5L113.0 58.4L115.0 58.2L117.0 58.1L119.0 58.0L121.0 57.8L123.0 57.5L125.0 57.2L127.0 57.0L129.0 56.7L131.0 56.5L133.0 56.2L135.0 55.9L137.0 55.7L139.0 55.4L141.0 55.1L143.0 54.9L145.0 54.6L147.0 54.3L149.0 54.0L151.0 53.7L153.0 53.4L155.0 53.0L157.0 52.7L159.0 52.4L161.0 52.1L163.0 51.8L165.0 51.5L167.0 51.3L169.0 51.3L171.0 51.4L173.0 51.4L175.0 51.5L177.0 51.6L179.0 51.6L181.0 51.7L183.0 51.8L185.0 51.8L187.0 51.9L189.0 52.0L191.0 52.2L193.0 52.4L195.0 52.6L197.0 52.8L199.0 53.0L201.0 53.2L203.0 53.4L205.0 53.6L207.0 53.9L209.0 54.1L211.0 54.3L213.0 54.6L215.0 55.0L217.0 55.5L219.0 56.0L221.0 56.6L223.0 57.1L225.0 57.6L227.0 58.1L229.0 58.6L231.0 59.1L233.0 59.7L235.0 60.2L237.0 60.7L239.0 61.2L241.0 61.8L243.0 62.3L245.0 62.9L247.0 63.4L249.0 64.0L251.0 64.5L253.0 65.1L255.0 65.7L257.0 66.3L259.0 66.9L261.0 67.7L263.0 68.4L265.0 69.2L267.0 69.9L269.0 70.6L271.0 71.4L273.0 72.2L275.0 73.0L277.0 73.7L279.0 74.5L281.0 75.3L283.0 76.2L285.0 77.0L287.0 77.9L289.0 78.8L291.0 79.6L293.0 80.5L295.0 81.3L297.0 82.2L299.0 83.1L301.0 83.8L303.0 84.6L305.0 85.3L307.0 86.0L309.0 86.8L311.0 87.5L313.0 88.2L315.0 89.0L317.0 89.7L319.0 90.4L321.0 91.1L323.0 91.6L325.0 91.9L327.0 92.2L329.0 92.4L330.0 92.5" stroke="#2f6a00" stroke-width="2.7" fill="none" stroke-dasharray="12.3 11"/>
<path d="M45.0 98.3L47.0 98.3L49.0 98.3L51.0 98.3L53.0 98.3L55.0 98.3L57.0 98.3L59.0 98.3L61.0 98.3L63.0 98.3L65.0 98.3L67.0 98.3L69.0 98.3L71.0 98.3L73.0 98.2L75.0 98.2L77.0 98.2L79.0 98.2L81.0 98.2L83.0 98.2L85.0 98.2L87.0 98.2L89.0 98.2L91.0 98.2L93.0 98.2L95.0 98.2L97.0 98.2L99.0 98.2L101.0 98.1L103.0 97.9L105.0 97.6L107.0 97.4L109.0 97.2L111.0 96.9L113.0 96.5L115.0 96.0L117.0 95.4L119.0 94.9L121.0 94.5L123.0 94.3L125.0 94.1L127.0 93.9L129.0 93.7L131.0 93.5L133.0 93.3L135.0 93.1L137.0 92.9L139.0 92.7L141.0 92.5L143.0 92.3L145.0 92.1L147.0 92.0L149.0 91.9L151.0 91.9L153.0 91.8L155.0 91.8L157.0 91.7L159.0 91.7L161.0 91.6L163.0 91.6L165.0 91.6L167.0 91.7L169.0 92.0L171.0 92.4L173.0 92.8L175.0 93.3L177.0 94.1L179.0 95.0L181.0 95.9L183.0 96.8L185.0 97.7L187.0 98.6L189.0 99.5L191.0 100.5L193.0 101.5L195.0 102.5L197.0 103.5L199.0 104.5L201.0 105.4L203.0 106.2L205.0 107.0L207.0 107.8L209.0 108.7L211.0 109.8L213.0 111.1L215.0 112.6L217.0 114.0L219.0 115.4L221.0 116.8L223.0 118.2L225.0 119.7L227.0 121.1L229.0 122.5L231.0 123.9L233.0 125.2L235.0 126.6L237.0 128.0L239.0 129.3L241.0 130.7L243.0 132.1L245.0 133.4L247.0 134.8L249.0 136.1L251.0 137.2L253.0 138.4L255.0 139.5L257.0 140.7L259.0 141.8L261.0 143.0L263.0 144.1L265.0 145.2L267.0 146.4L269.0 147.6L271.0 148.9L273.0 150.2L275.0 151.6L277.0 153.0L279.0 154.4L281.0 155.8L283.0 157.2L285.0 158.6L287.0 160.0L289.0 161.3L291.0 162.6L293.0 163.8L295.0 165.0L297.0 166.2L299.0 167.4L301.0 168.5L303.0 169.7L305.0 170.9L307.0 172.1L309.0 173.3L311.0 174.5L313.0 175.7L315.0 176.8L317.0 178.0L319.0 179.2L321.0 180.3L323.0 181.5L325.0 182.6L327.0 183.8L329.0 184.8L330.0 185.2" stroke="#2f6a00" stroke-width="2.7" fill="none" stroke-dasharray="12.3 11"/>
<path d="M45.00 228.30v-3M45.00 8.50v3M140.00 228.30v-3M140.00 8.50v3M235.00 228.30v-3M235.00 8.50v3M330.00 228.30v-3M330.00 8.50v3M45.00 228.30h3M330.00 228.30h-3M45.00 173.35h3M330.00 173.35h-3M45.00 118.40h3M330.00 118.40h-3M45.00 63.45h3M330.00 63.45h-3M45.00 8.50h3M330.00 8.50h-3" stroke="#6a6a6a" stroke-width="0.8" fill="none"/>
<path d="M73.60 228.30v-2.2M73.60 8.50v2.2M90.33 228.30v-2.2M90.33 8.50v2.2M102.20 228.30v-2.2M102.20 8.50v2.2M111.40 228.30v-2.2M111.40 8.50v2.2M118.92 228.30v-2.2M118.92 8.50v2.2M125.28 228.30v-2.2M125.28 8.50v2.2M130.79 228.30v-2.2M130.79 8.50v2.2M135.65 228.30v-2.2M135.65 8.50v2.2M168.60 228.30v-2.2M168.60 8.50v2.2M185.33 228.30v-2.2M185.33 8.50v2.2M197.20 228.30v-2.2M197.20 8.50v2.2M206.40 228.30v-2.2M206.40 8.50v2.2M213.92 228.30v-2.2M213.92 8.50v2.2M220.28 228.30v-2.2M220.28 8.50v2.2M225.79 228.30v-2.2M225.79 8.50v2.2M230.65 228.30v-2.2M230.65 8.50v2.2M263.60 228.30v-2.2M263.60 8.50v2.2M280.33 228.30v-2.2M280.33 8.50v2.2M292.20 228.30v-2.2M292.20 8.50v2.2M301.40 228.30v-2.2M301.40 8.50v2.2M308.92 228.30v-2.2M308.92 8.50v2.2M315.28 228.30v-2.2M315.28 8.50v2.2M320.79 228.30v-2.2M320.79 8.50v2.2M325.65 228.30v-2.2M325.65 8.50v2.2" stroke="#8a8a8a" stroke-width="0.6" fill="none"/>
<rect x="45.00" y="8.50" width="285.00" height="219.80" stroke="#8c8c8c" stroke-width="1" fill="none"/>
<g font-family="&quot;Liberation Sans&quot;, sans-serif" font-size="14" fill="#404040"><text x="45.00" y="251.2" text-anchor="middle">10<tspan dy="-6.4" font-size="10">-2</tspan></text><text x="140.00" y="251.2" text-anchor="middle">10<tspan dy="-6.4" font-size="10">-1</tspan></text><text x="235.00" y="251.2" text-anchor="middle">10<tspan dy="-6.4" font-size="10">0</tspan></text><text x="330.00" y="251.2" text-anchor="middle">10<tspan dy="-6.4" font-size="10">1</tspan></text><text x="41.00" y="235.70" text-anchor="end">10<tspan dy="-6.4" font-size="10">-6</tspan></text><text x="41.00" y="180.75" text-anchor="end">10<tspan dy="-6.4" font-size="10">-4</tspan></text><text x="41.00" y="125.80" text-anchor="end">10<tspan dy="-6.4" font-size="10">-2</tspan></text><text x="41.00" y="70.85" text-anchor="end">10<tspan dy="-6.4" font-size="10">0</tspan></text><text x="41.00" y="15.90" text-anchor="end">10<tspan dy="-6.4" font-size="10">2</tspan></text></g>
<path d="M393.5 83.0L396.5 82.9L399.5 82.8L402.5 82.8L405.5 82.7L408.5 82.6L411.5 82.5L414.5 82.4L417.5 82.3L420.5 82.3L423.5 82.2L426.5 82.0L429.5 81.9L432.5 81.9L435.5 81.9L438.5 81.7L441.5 81.5L444.5 81.4L447.5 81.1L450.5 80.9L453.5 80.6L456.5 79.9L459.5 79.5L462.5 79.8L465.5 79.9L468.5 79.1L471.5 77.7L474.5 76.6L477.5 76.4L480.5 76.8L483.5 77.2L486.5 76.5L489.5 74.6L492.5 72.5L495.5 70.7L498.5 70.9L501.5 72.3L504.5 72.5L507.5 72.3L510.5 72.4L513.5 70.8L516.5 68.7L519.5 68.6L522.5 69.9L525.5 70.8L528.5 71.0L531.5 70.7L534.5 70.0L537.5 69.7L540.5 69.6L543.5 70.1L546.5 71.2L549.5 70.7L552.5 69.0L555.5 68.4L558.5 69.4L561.5 70.7L564.5 71.0L567.5 71.0L570.5 71.8L573.5 72.8L576.5 73.5L579.5 73.9L582.5 73.3L585.5 73.6L588.5 76.6L591.5 80.5L594.5 83.1L597.5 85.0L600.5 87.0L603.5 88.9L606.5 90.7L609.5 92.9L612.5 95.2L615.5 97.3L618.5 99.7L621.5 102.6L624.5 105.6L627.5 108.3L630.5 111.0L633.5 113.9L636.5 116.8L639.5 119.5L642.5 122.0L645.5 124.8L648.5 128.1L651.5 131.7L654.5 135.3L657.5 139.0L660.5 142.8L663.5 146.7L666.5 151.1L669.5 155.5L672.5 159.7L675.5 163.6L676.5 164.6M393.5 80.3L396.5 80.2L399.5 80.1L402.5 80.0L405.5 79.9L408.5 79.8L411.5 79.7L414.5 79.6L417.5 79.6L420.5 79.5L423.5 79.4L426.5 79.3L429.5 79.1L432.5 79.1L435.5 78.7L438.5 78.4L441.5 78.4L444.5 78.5L447.5 78.2L450.5 77.7L453.5 77.8L456.5 77.9L459.5 77.0L462.5 75.4L465.5 74.7L468.5 75.1L471.5 75.5L474.5 75.3L477.5 75.6L480.5 76.3L483.5 76.1L486.5 74.5L489.5 72.2L492.5 70.5L495.5 70.5L498.5 71.1L501.5 70.9L504.5 70.4L507.5 69.6L510.5 68.5L513.5 67.7L516.5 66.3L519.5 64.0L522.5 61.6L525.5 61.5L528.5 65.3L531.5 68.7L534.5 68.0L537.5 66.3L540.5 66.0L543.5 67.4L546.5 69.9L549.5 71.0L552.5 70.4L555.5 71.2L558.5 73.3L561.5 74.8L564.5 75.7L567.5 76.6L570.5 76.9L573.5 76.3L576.5 76.4L579.5 77.9L582.5 80.9L585.5 84.8L588.5 88.2L591.5 90.5L594.5 92.8L597.5 96.1L600.5 99.3L603.5 101.5L606.5 103.3L609.5 105.5L612.5 108.2L615.5 111.6L618.5 115.0L621.5 118.0L624.5 121.1L627.5 125.0L630.5 129.1L633.5 132.9L636.5 136.7L639.5 141.1L642.5 145.4L645.5 149.3L648.5 152.7L651.5 156.2L654.5 159.8L657.5 163.8L660.5 167.8L663.5 172.1L666.5 176.6L669.5 180.8L672.5 184.6L675.5 187.5L676.5 188.2M393.5 71.8L396.5 71.7L399.5 71.5L402.5 71.4L405.5 71.2L408.5 71.0L411.5 70.9L414.5 70.8L417.5 70.6L420.5 70.4L423.5 70.2L426.5 69.9L429.5 69.7L432.5 69.6L435.5 69.3L438.5 68.9L441.5 68.7L444.5 68.5L447.5 68.2L450.5 68.2L453.5 67.8L456.5 66.6L459.5 65.7L462.5 66.0L465.5 66.3L468.5 65.3L471.5 63.7L474.5 61.9L477.5 59.5L480.5 58.0L483.5 60.0L486.5 63.8L489.5 65.7L492.5 64.5L495.5 61.0L498.5 58.9L501.5 60.4L504.5 62.4L507.5 61.5L510.5 58.0L513.5 53.8L516.5 51.9L519.5 53.0L522.5 54.2L525.5 54.5L528.5 53.5L531.5 51.5L534.5 52.0L537.5 54.6L540.5 57.4L543.5 58.7L546.5 58.0L549.5 57.4L552.5 57.7L555.5 56.6L558.5 54.3L561.5 52.9L564.5 53.3L567.5 56.0L570.5 59.7L573.5 62.0L576.5 62.6L579.5 63.5L582.5 64.8L585.5 66.2L588.5 68.2L591.5 70.9L594.5 74.0L597.5 76.7L600.5 78.7L603.5 80.5L606.5 82.5L609.5 84.5L612.5 86.3L615.5 88.3L618.5 90.9L621.5 93.9L624.5 97.3L627.5 100.1L630.5 102.6L633.5 105.6L636.5 109.0L639.5 112.0L642.5 114.8L645.5 117.9L648.5 121.1L651.5 124.3L654.5 127.7L657.5 131.3L660.5 135.1L663.5 139.0L666.5 142.7L669.5 146.1L672.5 149.4L675.5 152.1L676.5 152.7M393.5 84.7L396.5 84.7L399.5 84.6L402.5 84.5L405.5 84.4L408.5 84.3L411.5 84.3L414.5 84.2L417.5 84.1L420.5 84.0L423.5 83.9L426.5 83.8L429.5 83.7L432.5 83.6L435.5 83.6L438.5 83.6L441.5 83.4L444.5 82.9L447.5 82.6L450.5 82.0L453.5 81.1L456.5 80.2L459.5 79.6L462.5 79.0L465.5 78.5L468.5 78.3L471.5 78.2L474.5 77.4L477.5 76.1L480.5 76.0L483.5 77.5L486.5 78.7L489.5 77.9L492.5 75.5L495.5 74.8L498.5 76.6L501.5 77.5L504.5 76.2L507.5 75.8L510.5 76.5L513.5 75.9L516.5 73.5L519.5 71.8L522.5 72.9L525.5 75.2L528.5 75.3L531.5 72.6L534.5 69.9L537.5 69.0L540.5 69.7L543.5 70.4L546.5 70.3L549.5 69.2L552.5 68.3L555.5 68.6L558.5 70.0L561.5 71.3L564.5 71.6L567.5 71.8L570.5 71.2L573.5 70.4L576.5 71.4L579.5 74.1L582.5 77.1L585.5 80.4L588.5 83.0L591.5 84.5L594.5 86.0L597.5 88.0L600.5 90.3L603.5 92.7L606.5 94.9L609.5 96.8L612.5 98.6L615.5 100.4L618.5 102.9L621.5 105.9L624.5 108.5L627.5 111.0L630.5 113.7L633.5 116.7L636.5 119.9L639.5 122.9L642.5 125.8L645.5 128.9L648.5 132.1L651.5 135.4L654.5 138.7L657.5 142.3L660.5 146.0L663.5 149.8L666.5 153.8L669.5 157.7L672.5 161.0L675.5 162.9L676.5 163.2M393.5 66.5L396.5 66.4L399.5 66.2L402.5 65.9L405.5 65.7L408.5 65.5L411.5 65.3L414.5 65.1L417.5 64.8L420.5 64.5L423.5 64.2L426.5 63.8L429.5 63.5L432.5 63.2L435.5 62.9L438.5 62.7L441.5 62.5L444.5 62.4L447.5 62.1L450.5 61.5L453.5 60.4L456.5 59.5L459.5 58.8L462.5 58.6L465.5 59.0L468.5 59.2L471.5 58.7L474.5 57.4L477.5 55.7L480.5 54.1L483.5 52.7L486.5 51.4L489.5 50.7L492.5 51.2L495.5 52.1L498.5 53.0L501.5 53.1L504.5 51.6L507.5 50.2L510.5 49.6L513.5 49.4L516.5 49.3L519.5 49.4L522.5 49.1L525.5 48.4L528.5 48.2L531.5 47.4L534.5 44.8L537.5 42.1L540.5 41.2L543.5 42.2L546.5 44.7L549.5 47.4L552.5 48.9L555.5 50.4L558.5 52.8L561.5 54.3L564.5 54.1L567.5 53.1L570.5 52.0L573.5 50.6L576.5 50.3L579.5 51.8L582.5 53.9L585.5 55.4L588.5 56.0L591.5 56.8L594.5 57.8L597.5 59.0L600.5 60.7L603.5 63.0L606.5 65.3L609.5 67.2L612.5 68.7L615.5 70.0L618.5 71.9L621.5 75.2L624.5 78.8L627.5 81.8L630.5 84.7L633.5 87.9L636.5 91.3L639.5 94.2L642.5 97.1L645.5 100.5L648.5 104.2L651.5 107.5L654.5 110.5L657.5 113.7L660.5 117.3L663.5 121.3L666.5 125.5L669.5 129.7L672.5 133.7L675.5 137.2L676.5 138.1M393.5 88.2L396.5 88.1L399.5 88.0L402.5 88.0L405.5 87.9L408.5 87.8L411.5 87.7L414.5 87.6L417.5 87.5L420.5 87.5L423.5 87.3L426.5 87.2L429.5 87.1L432.5 87.1L435.5 87.1L438.5 86.9L441.5 86.6L444.5 86.4L447.5 86.1L450.5 85.8L453.5 86.0L456.5 87.1L459.5 88.2L462.5 88.0L465.5 87.1L468.5 86.0L471.5 84.3L474.5 83.6L477.5 84.1L480.5 84.4L483.5 84.2L486.5 82.4L489.5 78.7L492.5 76.2L495.5 76.5L498.5 78.1L501.5 78.1L504.5 75.2L507.5 72.7L510.5 73.0L513.5 73.9L516.5 74.3L519.5 75.4L522.5 76.1L525.5 74.2L528.5 70.9L531.5 68.6L534.5 67.8L537.5 68.2L540.5 68.9L543.5 69.7L546.5 70.7L549.5 71.8L552.5 71.5L555.5 70.5L558.5 71.6L561.5 73.5L564.5 74.5L567.5 74.6L570.5 73.9L573.5 74.6L576.5 77.1L579.5 79.1L582.5 79.2L585.5 79.0L588.5 79.7L591.5 80.7L594.5 82.0L597.5 83.9L600.5 86.6L603.5 90.2L606.5 93.5L609.5 95.3L612.5 96.4L615.5 97.9L618.5 100.1L621.5 102.7L624.5 105.5L627.5 108.8L630.5 112.0L633.5 114.7L636.5 117.2L639.5 120.0L642.5 123.1L645.5 126.6L648.5 130.1L651.5 133.2L654.5 136.4L657.5 140.1L660.5 144.4L663.5 149.2L666.5 154.2L669.5 159.0L672.5 163.4L675.5 166.7L676.5 167.5M393.5 84.7L396.5 84.6L399.5 84.6L402.5 84.5L405.5 84.4L408.5 84.3L411.5 84.3L414.5 84.2L417.5 84.0L420.5 83.9L423.5 83.8L426.5 83.7L429.5 83.6L432.5 83.4L435.5 83.2L438.5 82.7L441.5 82.3L444.5 82.1L447.5 82.2L450.5 82.7L453.5 83.1L456.5 82.4L459.5 80.7L462.5 79.6L465.5 79.7L468.5 80.3L471.5 80.1L474.5 79.2L477.5 78.1L480.5 77.1L483.5 76.8L486.5 77.4L489.5 78.0L492.5 77.8L495.5 76.1L498.5 74.2L501.5 74.5L504.5 76.0L507.5 76.8L510.5 77.1L513.5 77.0L516.5 76.4L519.5 76.4L522.5 76.2L525.5 74.2L528.5 71.7L531.5 70.2L534.5 68.9L537.5 67.2L540.5 66.5L543.5 67.1L546.5 67.5L549.5 68.2L552.5 69.2L555.5 70.3L558.5 71.2L561.5 72.3L564.5 73.5L567.5 74.3L570.5 74.6L573.5 75.9L576.5 78.6L579.5 80.7L582.5 81.9L585.5 83.7L588.5 86.5L591.5 89.3L594.5 91.7L597.5 93.9L600.5 96.3L603.5 99.0L606.5 101.4L609.5 103.6L612.5 106.0L615.5 108.8L618.5 111.9L621.5 114.9L624.5 118.2L627.5 121.7L630.5 125.2L633.5 128.6L636.5 132.2L639.5 135.7L642.5 138.9L645.5 142.2L648.5 145.8L651.5 149.4L654.5 153.0L657.5 156.7L660.5 160.6L663.5 164.6L666.5 168.7L669.5 172.9L672.5 177.1L675.5 180.4L676.5 181.2M393.5 70.6L396.5 70.5L399.5 70.3L402.5 70.2L405.5 70.0L408.5 69.8L411.5 69.7L414.5 69.5L417.5 69.4L420.5 69.1L423.5 68.9L426.5 68.6L429.5 68.3L432.5 68.1L435.5 67.8L438.5 67.4L441.5 66.9L444.5 66.6L447.5 66.6L450.5 66.3L453.5 65.3L456.5 64.2L459.5 63.9L462.5 63.7L465.5 63.3L468.5 63.8L471.5 64.1L474.5 62.8L477.5 61.4L480.5 61.5L483.5 61.2L486.5 59.9L489.5 59.7L492.5 61.2L495.5 62.6L498.5 63.1L501.5 62.6L504.5 60.7L507.5 58.7L510.5 56.8L513.5 54.3L516.5 51.1L519.5 48.1L522.5 46.8L525.5 47.9L528.5 50.5L531.5 52.4L534.5 53.3L537.5 54.7L540.5 57.0L543.5 57.1L546.5 55.6L549.5 55.5L552.5 56.4L555.5 56.5L558.5 56.1L561.5 56.7L564.5 58.1L567.5 60.5L570.5 63.2L573.5 65.4L576.5 68.4L579.5 71.9L582.5 74.1L585.5 74.6L588.5 75.1L591.5 76.8L594.5 79.5L597.5 82.7L600.5 85.8L603.5 88.6L606.5 91.7L609.5 94.5L612.5 97.0L615.5 99.7L618.5 102.7L621.5 106.0L624.5 109.2L627.5 112.8L630.5 116.8L633.5 120.8L636.5 124.3L639.5 127.8L642.5 131.3L645.5 134.6L648.5 137.6L651.5 140.8L654.5 144.3L657.5 147.9L660.5 151.4L663.5 154.9L666.5 158.6L669.5 162.2L672.5 165.6L675.5 168.4L676.5 169.0M393.5 75.4L396.5 75.3L399.5 75.1L402.5 75.0L405.5 74.8L408.5 74.7L411.5 74.5L414.5 74.3L417.5 74.1L420.5 73.9L423.5 73.7L426.5 73.4L429.5 73.1L432.5 72.7L435.5 72.3L438.5 72.0L441.5 71.7L444.5 71.5L447.5 70.8L450.5 69.7L453.5 68.5L456.5 67.1L459.5 65.9L462.5 65.8L465.5 66.3L468.5 66.6L471.5 66.5L474.5 66.2L477.5 65.4L480.5 64.8L483.5 64.6L486.5 63.3L489.5 61.6L492.5 60.8L495.5 61.5L498.5 62.7L501.5 61.4L504.5 56.9L507.5 52.2L510.5 50.9L513.5 52.8L516.5 53.8L519.5 52.4L522.5 51.3L525.5 50.1L528.5 47.5L531.5 44.8L534.5 43.2L537.5 44.0L540.5 46.4L543.5 48.6L546.5 50.2L549.5 51.5L552.5 52.1L555.5 51.6L558.5 51.7L561.5 53.3L564.5 55.2L567.5 56.1L570.5 55.6L573.5 54.0L576.5 52.7L579.5 52.6L582.5 54.0L585.5 56.0L588.5 56.8L591.5 56.0L594.5 55.6L597.5 56.5L600.5 58.4L603.5 60.7L606.5 63.0L609.5 65.1L612.5 66.9L615.5 68.6L618.5 70.7L621.5 73.5L624.5 76.8L627.5 80.1L630.5 82.9L633.5 85.5L636.5 88.3L639.5 91.3L642.5 94.4L645.5 97.5L648.5 100.4L651.5 103.6L654.5 106.6L657.5 109.4L660.5 112.3L663.5 115.6L666.5 119.0L669.5 122.2L672.5 125.3L675.5 127.6L676.5 128.1M393.5 73.5L396.5 73.4L399.5 73.3L402.5 73.2L405.5 73.0L408.5 72.8L411.5 72.7L414.5 72.6L417.5 72.5L420.5 72.3L423.5 72.1L426.5 71.9L429.5 71.7L432.5 71.5L435.5 71.1L438.5 70.9L441.5 71.0L444.5 70.8L447.5 69.7L450.5 68.5L453.5 68.2L456.5 69.0L459.5 70.4L462.5 71.1L465.5 70.9L468.5 70.3L471.5 69.5L474.5 69.1L477.5 69.1L480.5 68.0L483.5 65.0L486.5 61.5L489.5 59.5L492.5 59.5L495.5 59.4L498.5 58.8L501.5 57.6L504.5 56.1L507.5 56.0L510.5 56.4L513.5 55.2L516.5 53.7L519.5 53.7L522.5 54.9L525.5 56.0L528.5 55.2L531.5 52.6L534.5 51.8L537.5 53.8L540.5 54.7L543.5 54.0L546.5 55.1L549.5 57.0L552.5 55.7L555.5 51.8L558.5 49.6L561.5 50.3L564.5 52.3L567.5 54.4L570.5 55.8L573.5 56.6L576.5 56.8L579.5 56.8L582.5 57.5L585.5 59.1L588.5 60.8L591.5 62.4L594.5 64.4L597.5 66.6L600.5 68.4L603.5 70.0L606.5 71.4L609.5 72.7L612.5 74.3L615.5 75.9L618.5 77.7L621.5 80.1L624.5 83.3L627.5 86.5L630.5 90.0L633.5 93.7L636.5 96.9L639.5 99.9L642.5 102.7L645.5 105.4L648.5 108.3L651.5 111.5L654.5 115.0L657.5 118.5L660.5 121.8L663.5 125.1L666.5 128.4L669.5 131.7L672.5 134.8L675.5 137.2L676.5 137.7M393.5 63.1L396.5 63.0L399.5 62.8L402.5 62.5L405.5 62.3L408.5 62.1L411.5 62.0L414.5 61.8L417.5 61.6L420.5 61.3L423.5 61.0L426.5 60.7L429.5 60.4L432.5 60.0L435.5 59.8L438.5 59.8L441.5 59.7L444.5 59.3L447.5 58.7L450.5 58.3L453.5 58.4L456.5 58.7L459.5 58.7L462.5 58.3L465.5 57.5L468.5 56.5L471.5 55.2L474.5 54.4L477.5 55.1L480.5 55.2L483.5 54.5L486.5 54.9L489.5 54.1L492.5 52.0L495.5 52.5L498.5 54.5L501.5 53.3L504.5 50.3L507.5 49.0L510.5 48.1L513.5 46.8L516.5 47.6L519.5 51.3L522.5 56.2L525.5 58.5L528.5 57.4L531.5 55.4L534.5 53.9L537.5 53.8L540.5 54.8L543.5 54.8L546.5 53.7L549.5 52.3L552.5 51.3L555.5 51.1L558.5 51.4L561.5 52.5L564.5 54.8L567.5 58.7L570.5 61.8L573.5 62.2L576.5 61.4L579.5 62.0L582.5 64.1L585.5 66.0L588.5 67.6L591.5 69.7L594.5 70.9L597.5 70.9L600.5 71.6L603.5 73.7L606.5 76.0L609.5 78.0L612.5 80.0L615.5 82.3L618.5 84.8L621.5 87.7L624.5 91.2L627.5 94.7L630.5 98.0L633.5 101.3L636.5 104.3L639.5 106.7L642.5 109.3L645.5 112.1L648.5 115.2L651.5 118.9L654.5 123.3L657.5 127.6L660.5 131.4L663.5 134.9L666.5 138.7L669.5 142.9L672.5 146.8L675.5 149.8L676.5 150.4M393.5 64.0L396.5 63.8L399.5 63.6L402.5 63.3L405.5 63.1L408.5 62.8L411.5 62.5L414.5 62.3L417.5 62.0L420.5 61.7L423.5 61.4L426.5 61.0L429.5 60.6L432.5 60.1L435.5 59.7L438.5 59.4L441.5 59.3L444.5 58.9L447.5 58.2L450.5 57.5L453.5 56.9L456.5 56.3L459.5 56.1L462.5 56.1L465.5 55.0L468.5 52.6L471.5 51.5L474.5 51.7L477.5 51.5L480.5 50.8L483.5 49.4L486.5 47.7L489.5 47.2L492.5 47.1L495.5 46.7L498.5 46.0L501.5 44.3L504.5 42.6L507.5 41.1L510.5 38.8L513.5 36.4L516.5 35.0L519.5 35.7L522.5 39.3L525.5 42.3L528.5 42.1L531.5 40.1L534.5 38.6L537.5 39.7L540.5 43.5L543.5 46.2L546.5 45.6L549.5 43.9L552.5 43.6L555.5 44.6L558.5 46.6L561.5 47.0L564.5 46.3L567.5 46.5L570.5 47.1L573.5 47.6L576.5 48.5L579.5 49.3L582.5 49.8L585.5 50.9L588.5 52.0L591.5 51.8L594.5 51.8L597.5 53.5L600.5 55.6L603.5 57.5L606.5 59.5L609.5 61.6L612.5 63.7L615.5 65.2L618.5 66.3L621.5 68.0L624.5 70.7L627.5 74.0L630.5 77.4L633.5 80.6L636.5 83.6L639.5 86.7L642.5 89.9L645.5 93.3L648.5 96.7L651.5 100.2L654.5 103.7L657.5 107.5L660.5 111.4L663.5 115.0L666.5 118.4L669.5 121.5L672.5 124.3L675.5 126.3L676.5 126.7M393.5 89.8L396.5 89.8L399.5 89.7L402.5 89.7L405.5 89.6L408.5 89.6L411.5 89.5L414.5 89.4L417.5 89.3L420.5 89.3L423.5 89.2L426.5 89.2L429.5 89.1L432.5 89.1L435.5 89.0L438.5 88.8L441.5 88.8L444.5 88.8L447.5 88.6L450.5 88.7L453.5 89.4L456.5 89.8L459.5 89.2L462.5 88.0L465.5 86.9L468.5 86.7L471.5 86.7L474.5 86.1L477.5 85.1L480.5 84.2L483.5 83.7L486.5 83.8L489.5 84.5L492.5 85.0L495.5 83.7L498.5 80.5L501.5 77.9L504.5 77.6L507.5 78.5L510.5 79.4L513.5 80.5L516.5 80.2L519.5 77.2L522.5 74.5L525.5 74.0L528.5 73.7L531.5 73.7L534.5 75.2L537.5 77.4L540.5 78.9L543.5 78.6L546.5 77.2L549.5 75.0L552.5 72.6L555.5 71.7L558.5 72.6L561.5 74.6L564.5 77.4L567.5 80.5L570.5 83.4L573.5 85.2L576.5 86.5L579.5 88.7L582.5 91.7L585.5 94.0L588.5 95.3L591.5 96.9L594.5 99.4L597.5 102.0L600.5 103.9L603.5 105.7L606.5 108.1L609.5 111.2L612.5 114.4L615.5 117.3L618.5 120.0L621.5 123.2L624.5 127.1L627.5 131.0L630.5 134.5L633.5 137.7L636.5 141.1L639.5 144.6L642.5 148.1L645.5 151.5L648.5 155.1L651.5 159.0L654.5 163.0L657.5 166.9L660.5 170.4L663.5 173.5L666.5 176.6L669.5 179.7L672.5 183.0L675.5 185.9L676.5 186.6M393.5 81.0L396.5 81.0L399.5 80.9L402.5 80.8L405.5 80.7L408.5 80.6L411.5 80.5L414.5 80.4L417.5 80.3L420.5 80.2L423.5 80.1L426.5 80.0L429.5 79.9L432.5 79.8L435.5 79.7L438.5 79.7L441.5 79.8L444.5 79.6L447.5 79.1L450.5 78.7L453.5 78.7L456.5 78.6L459.5 78.4L462.5 77.8L465.5 77.1L468.5 77.6L471.5 78.7L474.5 78.2L477.5 76.0L480.5 73.9L483.5 73.3L486.5 74.3L489.5 74.9L492.5 73.7L495.5 73.0L498.5 73.9L501.5 75.3L504.5 76.6L507.5 77.9L510.5 79.0L513.5 78.7L516.5 76.5L519.5 73.9L522.5 72.6L525.5 71.9L528.5 71.4L531.5 72.8L534.5 75.3L537.5 75.9L540.5 75.3L543.5 77.0L546.5 78.4L549.5 79.2L552.5 81.1L555.5 84.0L558.5 87.3L561.5 90.6L564.5 92.3L567.5 92.0L570.5 91.0L573.5 91.0L576.5 92.0L579.5 94.9L582.5 99.1L585.5 102.7L588.5 105.8L591.5 109.4L594.5 113.7L597.5 118.2L600.5 121.7L603.5 124.4L606.5 127.4L609.5 131.2L612.5 135.4L615.5 139.8L618.5 143.7L621.5 147.3L624.5 151.1L627.5 155.5L630.5 159.8L633.5 163.5L636.5 167.0L639.5 170.4L642.5 173.7L645.5 177.0L648.5 180.3L651.5 183.8L654.5 187.8L657.5 192.1L660.5 196.3L663.5 200.5L666.5 205.1L669.5 209.7L672.5 214.2L675.5 217.7L676.5 218.5M393.5 88.0L396.5 87.9L399.5 87.9L402.5 87.8L405.5 87.7L408.5 87.7L411.5 87.6L414.5 87.5L417.5 87.5L420.5 87.4L423.5 87.3L426.5 87.3L429.5 87.2L432.5 87.1L435.5 87.0L438.5 86.9L441.5 86.8L444.5 86.9L447.5 87.0L450.5 86.7L453.5 86.0L456.5 85.9L459.5 86.9L462.5 87.4L465.5 86.4L468.5 84.5L471.5 83.2L474.5 82.7L477.5 82.4L480.5 82.2L483.5 83.0L486.5 84.9L489.5 86.7L492.5 86.6L495.5 84.3L498.5 81.3L501.5 79.8L504.5 79.4L507.5 78.0L510.5 76.3L513.5 74.4L516.5 71.9L519.5 70.4L522.5 70.5L525.5 71.9L528.5 73.8L531.5 75.1L534.5 76.7L537.5 77.1L540.5 75.0L543.5 74.1L546.5 75.8L549.5 79.0L552.5 82.1L555.5 82.8L558.5 81.3L561.5 80.6L564.5 81.4L567.5 82.6L570.5 84.3L573.5 86.9L576.5 90.1L579.5 92.3L582.5 93.4L585.5 95.4L588.5 98.8L591.5 102.7L594.5 106.9L597.5 110.5L600.5 113.2L603.5 116.2L606.5 119.9L609.5 123.6L612.5 127.1L615.5 130.9L618.5 135.1L621.5 139.7L624.5 144.2L627.5 147.9L630.5 151.5L633.5 155.2L636.5 158.7L639.5 162.2L642.5 165.9L645.5 169.6L648.5 173.2L651.5 176.9L654.5 180.6L657.5 184.2L660.5 187.9L663.5 191.7L666.5 195.6L669.5 199.8L672.5 203.6L675.5 206.4L676.5 206.9M393.5 47.0L396.5 47.0L399.5 47.0L402.5 47.0L405.5 46.9L408.5 46.9L411.5 47.0L414.5 47.0L417.5 47.0L420.5 47.0L423.5 47.1L426.5 47.2L429.5 47.3L432.5 47.6L435.5 47.7L438.5 47.6L441.5 47.4L444.5 47.4L447.5 47.6L450.5 47.2L453.5 46.5L456.5 46.2L459.5 46.3L462.5 47.2L465.5 49.4L468.5 50.8L471.5 50.5L474.5 49.2L477.5 47.7L480.5 47.0L483.5 47.1L486.5 46.5L489.5 45.5L492.5 46.4L495.5 47.4L498.5 46.8L501.5 45.4L504.5 43.7L507.5 42.4L510.5 41.3L513.5 39.6L516.5 38.9L519.5 39.3L522.5 39.4L525.5 38.9L528.5 39.6L531.5 40.7L534.5 41.4L537.5 41.6L540.5 42.7L543.5 45.7L546.5 48.6L549.5 48.8L552.5 47.1L555.5 45.8L558.5 45.7L561.5 47.0L564.5 47.8L567.5 46.0L570.5 44.2L573.5 44.4L576.5 47.0L579.5 50.9L582.5 52.7L585.5 52.5L588.5 52.6L591.5 54.0L594.5 56.4L597.5 58.8L600.5 61.3L603.5 63.6L606.5 65.0L609.5 66.1L612.5 67.7L615.5 70.1L618.5 72.8L621.5 75.4L624.5 78.0L627.5 80.8L630.5 84.0L633.5 87.5L636.5 90.5L639.5 93.5L642.5 96.6L645.5 99.7L648.5 102.8L651.5 106.3L654.5 110.0L657.5 113.7L660.5 117.6L663.5 121.4L666.5 124.9L669.5 128.2L672.5 131.3L675.5 134.0L676.5 134.6M393.5 64.1L396.5 63.9L399.5 63.7L402.5 63.4L405.5 63.2L408.5 62.9L411.5 62.6L414.5 62.4L417.5 62.1L420.5 61.8L423.5 61.4L426.5 61.0L429.5 60.5L432.5 60.0L435.5 59.7L438.5 59.4L441.5 58.8L444.5 58.5L447.5 58.1L450.5 57.6L453.5 57.5L456.5 57.8L459.5 56.7L462.5 54.8L465.5 54.1L468.5 54.4L471.5 54.2L474.5 53.1L477.5 52.1L480.5 51.1L483.5 50.1L486.5 49.9L489.5 49.9L492.5 49.5L495.5 49.5L498.5 48.9L501.5 47.3L504.5 45.4L507.5 44.8L510.5 46.0L513.5 46.2L516.5 43.1L519.5 38.7L522.5 36.9L525.5 40.2L528.5 45.4L531.5 46.6L534.5 44.3L537.5 43.8L540.5 46.2L543.5 46.2L546.5 41.9L549.5 38.6L552.5 37.8L555.5 38.0L558.5 39.1L561.5 40.5L564.5 41.7L567.5 42.6L570.5 43.4L573.5 44.7L576.5 46.2L579.5 46.9L582.5 47.1L585.5 48.3L588.5 50.4L591.5 51.9L594.5 51.9L597.5 51.6L600.5 52.1L603.5 53.6L606.5 55.7L609.5 58.2L612.5 60.4L615.5 62.2L618.5 64.2L621.5 66.9L624.5 70.3L627.5 74.1L630.5 77.7L633.5 80.9L636.5 83.7L639.5 86.5L642.5 89.4L645.5 92.7L648.5 95.8L651.5 98.7L654.5 101.8L657.5 105.3L660.5 109.0L663.5 112.3L666.5 115.4L669.5 118.9L672.5 122.6L675.5 125.7L676.5 126.4M393.5 86.7L396.5 86.7L399.5 86.6L402.5 86.6L405.5 86.5L408.5 86.4L411.5 86.4L414.5 86.3L417.5 86.2L420.5 86.2L423.5 86.1L426.5 86.0L429.5 85.9L432.5 85.8L435.5 85.9L438.5 85.9L441.5 85.6L444.5 85.3L447.5 84.9L450.5 84.5L453.5 84.2L456.5 83.7L459.5 83.4L462.5 83.8L465.5 84.5L468.5 84.6L471.5 83.8L474.5 82.2L477.5 80.6L480.5 80.5L483.5 81.8L486.5 83.8L489.5 85.5L492.5 85.3L495.5 83.5L498.5 82.9L501.5 83.5L504.5 82.2L507.5 79.1L510.5 77.3L513.5 76.4L516.5 75.1L519.5 74.4L522.5 74.9L525.5 75.1L528.5 76.1L531.5 79.3L534.5 82.0L537.5 81.8L540.5 79.1L543.5 77.0L546.5 76.2L549.5 75.7L552.5 75.4L555.5 75.6L558.5 77.2L561.5 80.2L564.5 82.5L567.5 83.1L570.5 83.3L573.5 84.6L576.5 86.0L579.5 86.2L582.5 87.1L585.5 90.7L588.5 94.8L591.5 97.8L594.5 100.8L597.5 104.6L600.5 108.9L603.5 112.6L606.5 115.7L609.5 119.1L612.5 122.3L615.5 125.0L618.5 127.9L621.5 131.4L624.5 135.0L627.5 138.4L630.5 141.8L633.5 144.9L636.5 147.9L639.5 150.9L642.5 154.0L645.5 157.4L648.5 161.0L651.5 164.6L654.5 168.3L657.5 171.7L660.5 175.0L663.5 178.3L666.5 181.7L669.5 185.4L672.5 189.0L675.5 191.9L676.5 192.5M393.5 83.9L396.5 83.8L399.5 83.8L402.5 83.7L405.5 83.6L408.5 83.5L411.5 83.4L414.5 83.3L417.5 83.3L420.5 83.2L423.5 83.1L426.5 82.9L429.5 82.7L432.5 82.5L435.5 82.4L438.5 82.4L441.5 82.6L444.5 82.5L447.5 81.8L450.5 81.1L453.5 80.4L456.5 80.1L459.5 80.4L462.5 81.1L465.5 81.4L468.5 81.0L471.5 80.4L474.5 79.6L477.5 79.2L480.5 78.9L483.5 77.4L486.5 76.6L489.5 78.1L492.5 78.8L495.5 76.6L498.5 74.8L501.5 74.4L504.5 73.4L507.5 71.7L510.5 71.1L513.5 71.2L516.5 70.8L519.5 69.0L522.5 65.9L525.5 63.8L528.5 63.1L531.5 62.6L534.5 62.6L537.5 64.6L540.5 68.3L543.5 70.9L546.5 71.3L549.5 69.8L552.5 67.8L555.5 68.0L558.5 70.9L561.5 73.8L564.5 75.9L567.5 77.0L570.5 76.8L573.5 76.6L576.5 77.6L579.5 79.6L582.5 82.5L585.5 86.4L588.5 89.4L591.5 91.0L594.5 92.8L597.5 95.3L600.5 98.0L603.5 100.5L606.5 103.4L609.5 106.4L612.5 109.1L615.5 111.5L618.5 114.0L621.5 117.2L624.5 120.8L627.5 124.5L630.5 128.0L633.5 131.6L636.5 135.5L639.5 139.0L642.5 142.0L645.5 145.0L648.5 148.2L651.5 151.7L654.5 155.2L657.5 159.0L660.5 163.2L663.5 167.8L666.5 172.5L669.5 177.2L672.5 181.3L675.5 184.2L676.5 184.8M393.5 75.1L396.5 75.0L399.5 74.9L402.5 74.8L405.5 74.7L408.5 74.6L411.5 74.5L414.5 74.3L417.5 74.2L420.5 74.1L423.5 73.9L426.5 73.7L429.5 73.5L432.5 73.3L435.5 72.9L438.5 72.4L441.5 72.2L444.5 71.9L447.5 71.3L450.5 70.9L453.5 70.5L456.5 69.9L459.5 69.5L462.5 69.4L465.5 68.9L468.5 67.9L471.5 66.8L474.5 65.8L477.5 65.4L480.5 65.4L483.5 64.9L486.5 63.3L489.5 62.1L492.5 62.2L495.5 62.3L498.5 61.5L501.5 61.3L504.5 61.3L507.5 61.0L510.5 60.5L513.5 58.3L516.5 54.6L519.5 52.7L522.5 53.1L525.5 53.8L528.5 55.1L531.5 56.0L534.5 54.8L537.5 54.2L540.5 56.2L543.5 60.3L546.5 64.8L549.5 67.1L552.5 65.5L555.5 63.8L558.5 64.5L561.5 65.2L564.5 64.5L567.5 64.1L570.5 65.4L573.5 67.2L576.5 67.0L579.5 65.6L582.5 66.5L585.5 69.5L588.5 72.4L591.5 74.6L594.5 76.9L597.5 79.5L600.5 82.1L603.5 84.8L606.5 87.8L609.5 90.5L612.5 92.5L615.5 94.2L618.5 96.3L621.5 98.9L624.5 101.8L627.5 104.9L630.5 107.8L633.5 110.3L636.5 112.3L639.5 114.7L642.5 117.9L645.5 121.4L648.5 124.8L651.5 128.2L654.5 132.1L657.5 136.3L660.5 140.4L663.5 144.7L666.5 149.4L669.5 153.9L672.5 158.1L675.5 161.7L676.5 162.7M393.5 73.1L396.5 73.0L399.5 72.9L402.5 72.7L405.5 72.6L408.5 72.4L411.5 72.3L414.5 72.1L417.5 71.9L420.5 71.7L423.5 71.5L426.5 71.3L429.5 71.1L432.5 70.8L435.5 70.4L438.5 70.4L441.5 70.6L444.5 70.8L447.5 70.3L450.5 69.3L453.5 68.3L456.5 67.4L459.5 66.2L462.5 65.2L465.5 65.3L468.5 66.1L471.5 66.5L474.5 65.4L477.5 64.4L480.5 64.8L483.5 65.5L486.5 65.9L489.5 65.1L492.5 63.1L495.5 61.7L498.5 62.1L501.5 61.6L504.5 59.4L507.5 58.6L510.5 59.2L513.5 58.0L516.5 56.0L519.5 56.1L522.5 58.4L525.5 60.3L528.5 59.2L531.5 56.8L534.5 56.4L537.5 56.6L540.5 55.8L543.5 55.2L546.5 55.0L549.5 55.1L552.5 55.7L555.5 56.8L558.5 57.4L561.5 57.4L564.5 57.2L567.5 57.6L570.5 60.0L573.5 64.2L576.5 67.3L579.5 67.3L582.5 65.8L585.5 65.9L588.5 67.8L591.5 71.0L594.5 74.4L597.5 76.9L600.5 79.0L603.5 81.6L606.5 84.2L609.5 86.1L612.5 87.8L615.5 89.8L618.5 92.3L621.5 94.8L624.5 97.6L627.5 100.8L630.5 104.3L633.5 107.7L636.5 111.0L639.5 114.2L642.5 117.3L645.5 120.5L648.5 123.8L651.5 127.4L654.5 131.2L657.5 135.0L660.5 138.9L663.5 143.3L666.5 148.1L669.5 153.1L672.5 157.8L675.5 161.3L676.5 162.1M393.5 72.9L396.5 72.8L399.5 72.7L402.5 72.6L405.5 72.4L408.5 72.3L411.5 72.1L414.5 72.0L417.5 71.8L420.5 71.6L423.5 71.4L426.5 71.2L429.5 71.0L432.5 70.9L435.5 70.7L438.5 70.4L441.5 70.1L444.5 69.6L447.5 69.2L450.5 68.8L453.5 68.4L456.5 67.6L459.5 66.2L462.5 64.7L465.5 63.7L468.5 63.1L471.5 63.3L474.5 63.9L477.5 64.4L480.5 65.1L483.5 65.6L486.5 64.9L489.5 63.4L492.5 61.5L495.5 59.4L498.5 58.1L501.5 57.9L504.5 57.7L507.5 57.0L510.5 56.2L513.5 55.6L516.5 56.0L519.5 57.6L522.5 58.5L525.5 57.2L528.5 55.9L531.5 57.2L534.5 60.0L537.5 60.5L540.5 58.2L543.5 58.6L546.5 62.0L549.5 64.4L552.5 65.1L555.5 64.2L558.5 61.6L561.5 59.4L564.5 60.5L567.5 64.2L570.5 68.1L573.5 70.8L576.5 71.1L579.5 71.4L582.5 73.6L585.5 75.8L588.5 76.6L591.5 77.7L594.5 80.9L597.5 84.7L600.5 87.1L603.5 88.4L606.5 90.0L609.5 92.3L612.5 94.9L615.5 97.6L618.5 100.0L621.5 102.4L624.5 105.2L627.5 108.6L630.5 112.5L633.5 116.2L636.5 119.6L639.5 122.9L642.5 126.1L645.5 129.5L648.5 133.2L651.5 137.0L654.5 140.9L657.5 144.9L660.5 149.3L663.5 154.2L666.5 159.1L669.5 163.5L672.5 167.6L675.5 171.1L676.5 172.0M393.5 86.2L396.5 86.1L399.5 86.1L402.5 86.0L405.5 85.9L408.5 85.9L411.5 85.8L414.5 85.7L417.5 85.6L420.5 85.5L423.5 85.5L426.5 85.4L429.5 85.3L432.5 85.4L435.5 85.3L438.5 84.9L441.5 84.5L444.5 84.5L447.5 84.7L450.5 84.8L453.5 84.1L456.5 82.7L459.5 81.8L462.5 82.0L465.5 82.4L468.5 83.1L471.5 83.9L474.5 83.5L477.5 82.0L480.5 80.7L483.5 80.7L486.5 80.9L489.5 80.3L492.5 79.8L495.5 79.8L498.5 79.6L501.5 78.3L504.5 76.5L507.5 75.2L510.5 74.5L513.5 75.3L516.5 75.5L519.5 73.0L522.5 70.9L525.5 70.3L528.5 71.0L531.5 72.2L534.5 72.6L537.5 73.9L540.5 76.5L543.5 77.6L546.5 76.9L549.5 75.3L552.5 73.6L555.5 72.3L558.5 72.7L561.5 75.9L564.5 78.4L567.5 78.1L570.5 77.3L573.5 77.4L576.5 79.5L579.5 83.4L582.5 86.9L585.5 88.7L588.5 89.8L591.5 91.3L594.5 93.1L597.5 95.1L600.5 97.0L603.5 99.6L606.5 102.9L609.5 106.0L612.5 108.7L615.5 111.4L618.5 114.0L621.5 116.8L624.5 120.1L627.5 123.3L630.5 126.2L633.5 129.0L636.5 131.7L639.5 134.4L642.5 137.6L645.5 141.1L648.5 144.8L651.5 148.5L654.5 152.4L657.5 156.2L660.5 160.0L663.5 163.9L666.5 167.9L669.5 172.3L672.5 176.6L675.5 180.2L676.5 181.0M393.5 68.3L396.5 68.1L399.5 68.0L402.5 67.7L405.5 67.5L408.5 67.3L411.5 67.0L414.5 66.8L417.5 66.6L420.5 66.3L423.5 66.0L426.5 65.6L429.5 65.2L432.5 64.8L435.5 64.5L438.5 64.3L441.5 63.9L444.5 63.8L447.5 63.8L450.5 63.6L453.5 63.2L456.5 62.4L459.5 61.0L462.5 59.7L465.5 59.9L468.5 60.9L471.5 60.9L474.5 59.9L477.5 59.4L480.5 60.4L483.5 61.1L486.5 60.0L489.5 58.5L492.5 58.7L495.5 58.6L498.5 55.9L501.5 52.9L504.5 51.5L507.5 49.5L510.5 45.6L513.5 43.2L516.5 43.3L519.5 44.9L522.5 48.3L525.5 51.0L528.5 50.4L531.5 48.4L534.5 48.3L537.5 48.2L540.5 45.4L543.5 42.4L546.5 40.8L549.5 42.0L552.5 45.1L555.5 46.0L558.5 44.2L561.5 42.7L564.5 43.9L567.5 47.0L570.5 49.3L573.5 49.1L576.5 48.0L579.5 49.7L582.5 52.6L585.5 53.9L588.5 54.6L591.5 54.8L594.5 54.8L597.5 55.1L600.5 56.0L603.5 57.7L606.5 59.7L609.5 61.5L612.5 63.2L615.5 65.3L618.5 67.6L621.5 69.9L624.5 72.6L627.5 76.0L630.5 79.6L633.5 83.1L636.5 86.3L639.5 89.2L642.5 92.0L645.5 94.9L648.5 98.0L651.5 101.2L654.5 104.4L657.5 107.7L660.5 111.1L663.5 114.6L666.5 118.2L669.5 121.9L672.5 125.6L675.5 128.4L676.5 129.1M393.5 59.5L396.5 59.3L399.5 59.1L402.5 58.8L405.5 58.5L408.5 58.2L411.5 57.9L414.5 57.6L417.5 57.2L420.5 56.9L423.5 56.4L426.5 56.0L429.5 55.5L432.5 55.1L435.5 54.7L438.5 54.1L441.5 53.4L444.5 52.5L447.5 51.7L450.5 51.1L453.5 50.3L456.5 49.5L459.5 49.8L462.5 50.8L465.5 51.5L468.5 51.3L471.5 49.5L474.5 47.3L477.5 46.3L480.5 47.0L483.5 48.4L486.5 49.7L489.5 50.0L492.5 48.9L495.5 47.5L498.5 46.7L501.5 45.1L504.5 41.6L507.5 38.2L510.5 37.3L513.5 37.9L516.5 38.3L519.5 38.1L522.5 37.3L525.5 37.7L528.5 40.2L531.5 41.7L534.5 41.0L537.5 40.8L540.5 41.6L543.5 39.0L546.5 35.9L549.5 35.9L552.5 37.2L555.5 38.4L558.5 40.8L561.5 43.5L564.5 45.1L567.5 45.0L570.5 44.0L573.5 43.6L576.5 44.0L579.5 44.5L582.5 45.4L585.5 46.6L588.5 48.1L591.5 50.5L594.5 52.4L597.5 52.6L600.5 52.8L603.5 54.4L606.5 56.7L609.5 58.6L612.5 60.0L615.5 61.4L618.5 63.1L621.5 65.4L624.5 68.3L627.5 71.5L630.5 74.6L633.5 77.9L636.5 81.5L639.5 85.0L642.5 88.1L645.5 91.1L648.5 94.2L651.5 97.3L654.5 100.7L657.5 104.2L660.5 107.6L663.5 111.1L666.5 114.8L669.5 118.6L672.5 122.3L675.5 125.5L676.5 126.3M393.5 61.1L396.5 60.9L399.5 60.7L402.5 60.4L405.5 60.1L408.5 59.8L411.5 59.5L414.5 59.3L417.5 59.0L420.5 58.6L423.5 58.2L426.5 57.7L429.5 57.3L432.5 56.9L435.5 56.6L438.5 56.1L441.5 55.7L444.5 55.7L447.5 55.7L450.5 55.4L453.5 54.6L456.5 53.7L459.5 53.0L462.5 52.6L465.5 52.0L468.5 50.9L471.5 49.6L474.5 47.9L477.5 47.2L480.5 48.0L483.5 49.2L486.5 49.4L489.5 48.2L492.5 47.6L495.5 47.7L498.5 46.8L501.5 45.2L504.5 42.8L507.5 39.8L510.5 38.2L513.5 37.8L516.5 38.0L519.5 39.2L522.5 40.2L525.5 40.6L528.5 42.2L531.5 43.8L534.5 43.9L537.5 44.2L540.5 44.6L543.5 44.3L546.5 44.4L549.5 44.0L552.5 43.1L555.5 43.1L558.5 44.1L561.5 46.8L564.5 49.8L567.5 51.9L570.5 52.9L573.5 52.9L576.5 53.3L579.5 55.5L582.5 58.0L585.5 59.8L588.5 62.1L591.5 64.7L594.5 66.2L597.5 66.9L600.5 68.2L603.5 70.3L606.5 72.6L609.5 74.6L612.5 76.4L615.5 78.4L618.5 80.5L621.5 82.7L624.5 85.2L627.5 88.1L630.5 91.2L633.5 94.7L636.5 97.8L639.5 100.5L642.5 103.8L645.5 107.4L648.5 110.8L651.5 114.2L654.5 117.9L657.5 121.8L660.5 125.7L663.5 129.6L666.5 133.3L669.5 137.1L672.5 141.0L675.5 144.3L676.5 145.2M393.5 84.3L396.5 84.2L399.5 84.1L402.5 84.1L405.5 84.0L408.5 83.9L411.5 83.8L414.5 83.8L417.5 83.7L420.5 83.6L423.5 83.4L426.5 83.3L429.5 83.2L432.5 83.1L435.5 83.0L438.5 82.7L441.5 82.2L444.5 81.6L447.5 81.1L450.5 81.2L453.5 81.7L456.5 82.0L459.5 81.2L462.5 80.2L465.5 80.2L468.5 80.8L471.5 80.8L474.5 80.7L477.5 81.6L480.5 82.6L483.5 82.6L486.5 81.4L489.5 79.3L492.5 78.0L495.5 77.9L498.5 77.8L501.5 77.7L504.5 77.5L507.5 76.2L510.5 73.3L513.5 70.3L516.5 69.3L519.5 70.8L522.5 72.1L525.5 72.0L528.5 72.4L531.5 74.0L534.5 75.1L537.5 73.6L540.5 71.2L543.5 70.1L546.5 70.9L549.5 71.4L552.5 70.5L555.5 69.6L558.5 70.1L561.5 72.7L564.5 76.6L567.5 79.4L570.5 81.6L573.5 83.8L576.5 85.6L579.5 87.8L582.5 89.1L585.5 89.6L588.5 91.4L591.5 94.8L594.5 99.0L597.5 103.3L600.5 106.7L603.5 109.1L606.5 111.4L609.5 114.5L612.5 118.3L615.5 122.5L618.5 126.4L621.5 129.6L624.5 132.8L627.5 136.5L630.5 140.4L633.5 144.5L636.5 148.9L639.5 153.7L642.5 158.7L645.5 163.3L648.5 166.9L651.5 170.0L654.5 173.6L657.5 177.9L660.5 182.4L663.5 186.9L666.5 191.2L669.5 195.4L672.5 199.9L675.5 204.0L676.5 205.0M393.5 72.7L396.5 72.6L399.5 72.5L402.5 72.3L405.5 72.2L408.5 72.0L411.5 71.9L414.5 71.8L417.5 71.6L420.5 71.4L423.5 71.1L426.5 70.9L429.5 70.7L432.5 70.7L435.5 70.6L438.5 70.3L441.5 69.7L444.5 69.3L447.5 69.1L450.5 68.7L453.5 68.3L456.5 68.7L459.5 69.1L462.5 68.5L465.5 67.4L468.5 66.2L471.5 65.0L474.5 64.0L477.5 62.8L480.5 62.4L483.5 63.3L486.5 64.5L489.5 64.4L492.5 62.2L495.5 59.7L498.5 59.2L501.5 59.8L504.5 59.2L507.5 58.7L510.5 59.4L513.5 59.2L516.5 57.5L519.5 56.1L522.5 55.7L525.5 55.9L528.5 56.2L531.5 56.1L534.5 55.4L537.5 54.6L540.5 54.4L543.5 54.9L546.5 56.7L549.5 59.5L552.5 62.1L555.5 63.5L558.5 62.2L561.5 58.9L564.5 57.2L567.5 59.5L570.5 62.9L573.5 63.9L576.5 64.7L579.5 66.0L582.5 66.5L585.5 68.2L588.5 70.8L591.5 72.8L594.5 74.0L597.5 74.5L600.5 75.2L603.5 77.3L606.5 80.3L609.5 82.8L612.5 84.7L615.5 86.6L618.5 88.4L621.5 90.2L624.5 92.3L627.5 95.4L630.5 98.7L633.5 101.6L636.5 104.1L639.5 106.5L642.5 109.6L645.5 113.5L648.5 117.5L651.5 121.0L654.5 124.4L657.5 128.4L660.5 132.8L663.5 137.1L666.5 141.1L669.5 144.7L672.5 148.0L675.5 150.2L676.5 150.5M393.5 68.8L396.5 68.7L399.5 68.5L402.5 68.3L405.5 68.1L408.5 68.0L411.5 67.8L414.5 67.6L417.5 67.4L420.5 67.2L423.5 67.0L426.5 66.8L429.5 66.5L432.5 66.3L435.5 65.9L438.5 65.5L441.5 65.1L444.5 64.8L447.5 64.4L450.5 63.9L453.5 63.3L456.5 63.2L459.5 63.4L462.5 63.1L465.5 62.2L468.5 62.5L471.5 63.6L474.5 64.5L477.5 65.2L480.5 65.7L483.5 65.7L486.5 64.4L489.5 62.1L492.5 60.2L495.5 58.9L498.5 58.9L501.5 59.7L504.5 59.9L507.5 59.8L510.5 59.4L513.5 57.7L516.5 55.2L519.5 54.4L522.5 55.9L525.5 56.8L528.5 56.2L531.5 55.0L534.5 53.8L537.5 51.6L540.5 49.4L543.5 49.2L546.5 50.6L549.5 52.5L552.5 55.6L555.5 59.0L558.5 60.9L561.5 61.2L564.5 60.5L567.5 60.1L570.5 60.3L573.5 61.1L576.5 62.1L579.5 63.7L582.5 65.7L585.5 67.4L588.5 68.8L591.5 70.0L594.5 71.5L597.5 73.7L600.5 76.4L603.5 78.9L606.5 81.5L609.5 84.0L612.5 86.2L615.5 88.1L618.5 89.9L621.5 92.1L624.5 94.6L627.5 97.5L630.5 100.9L633.5 104.3L636.5 107.5L639.5 110.6L642.5 113.4L645.5 116.1L648.5 119.3L651.5 122.9L654.5 126.4L657.5 129.4L660.5 132.3L663.5 135.4L666.5 139.1L669.5 143.1L672.5 146.9L675.5 149.7L676.5 150.3M393.5 58.9L396.5 58.7L399.5 58.5L402.5 58.2L405.5 57.9L408.5 57.6L411.5 57.3L414.5 57.0L417.5 56.7L420.5 56.3L423.5 55.9L426.5 55.5L429.5 55.1L432.5 54.7L435.5 54.4L438.5 54.2L441.5 53.9L444.5 53.4L447.5 52.7L450.5 52.2L453.5 51.6L456.5 50.7L459.5 50.0L462.5 50.3L465.5 51.6L468.5 52.0L471.5 51.2L474.5 50.9L477.5 51.7L480.5 51.3L483.5 48.7L486.5 46.9L489.5 47.9L492.5 49.6L495.5 49.7L498.5 48.4L501.5 46.8L504.5 44.3L507.5 41.0L510.5 39.3L513.5 39.6L516.5 40.3L519.5 40.2L522.5 38.6L525.5 36.9L528.5 37.6L531.5 40.8L534.5 45.3L537.5 48.4L540.5 47.1L543.5 44.6L546.5 45.2L549.5 47.6L552.5 47.4L555.5 44.5L558.5 42.5L561.5 42.8L564.5 45.0L567.5 48.1L570.5 50.5L573.5 50.4L576.5 49.1L579.5 49.5L582.5 52.2L585.5 54.8L588.5 55.9L591.5 56.4L594.5 57.8L597.5 60.7L600.5 63.4L603.5 64.9L606.5 66.1L609.5 68.0L612.5 70.2L615.5 72.0L618.5 74.1L621.5 76.6L624.5 79.5L627.5 82.4L630.5 85.4L633.5 88.1L636.5 90.9L639.5 94.1L642.5 97.6L645.5 101.0L648.5 104.1L651.5 107.2L654.5 110.8L657.5 114.6L660.5 118.1L663.5 121.3L666.5 124.6L669.5 127.9L672.5 130.7L675.5 132.5L676.5 132.8M393.5 85.4L396.5 85.3L399.5 85.2L402.5 85.2L405.5 85.1L408.5 85.0L411.5 84.9L414.5 84.8L417.5 84.7L420.5 84.7L423.5 84.6L426.5 84.6L429.5 84.5L432.5 84.6L435.5 84.6L438.5 84.5L441.5 84.1L444.5 83.5L447.5 82.8L450.5 82.0L453.5 81.7L456.5 81.7L459.5 82.2L462.5 83.1L465.5 82.7L468.5 81.7L471.5 81.3L474.5 81.2L477.5 81.7L480.5 81.4L483.5 80.2L486.5 79.8L489.5 79.2L492.5 78.2L495.5 76.8L498.5 75.6L501.5 75.9L504.5 77.3L507.5 77.5L510.5 74.2L513.5 71.4L516.5 71.6L519.5 72.3L522.5 73.0L525.5 74.0L528.5 74.5L531.5 73.2L534.5 71.5L537.5 69.8L540.5 67.5L543.5 66.4L546.5 66.6L549.5 68.2L552.5 71.2L555.5 73.8L558.5 75.3L561.5 76.3L564.5 77.2L567.5 77.5L570.5 77.9L573.5 79.8L576.5 83.2L579.5 86.1L582.5 87.8L585.5 88.7L588.5 90.4L591.5 93.9L594.5 98.3L597.5 101.8L600.5 104.5L603.5 107.6L606.5 111.0L609.5 114.3L612.5 118.1L615.5 121.9L618.5 125.3L621.5 128.6L624.5 132.2L627.5 135.9L630.5 139.6L633.5 143.4L636.5 147.3L639.5 151.4L642.5 155.6L645.5 159.5L648.5 163.1L651.5 166.6L654.5 170.5L657.5 174.5L660.5 178.7L663.5 183.0L666.5 187.3L669.5 191.8L672.5 196.3L675.5 200.3L676.5 201.3M393.5 50.7L396.5 50.5L399.5 50.3L402.5 50.0L405.5 49.8L408.5 49.5L411.5 49.3L414.5 49.0L417.5 48.8L420.5 48.5L423.5 48.2L426.5 47.8L429.5 47.5L432.5 47.2L435.5 46.7L438.5 46.0L441.5 45.2L444.5 44.5L447.5 43.8L450.5 43.3L453.5 43.3L456.5 43.8L459.5 43.7L462.5 42.6L465.5 41.5L468.5 41.1L471.5 40.3L474.5 38.9L477.5 38.3L480.5 39.3L483.5 40.1L486.5 38.9L489.5 36.5L492.5 34.7L495.5 34.7L498.5 35.3L501.5 34.6L504.5 33.6L507.5 33.3L510.5 33.5L513.5 34.0L516.5 32.8L519.5 29.7L522.5 27.8L525.5 28.4L528.5 30.0L531.5 32.2L534.5 36.1L537.5 39.8L540.5 41.0L543.5 41.5L546.5 43.7L549.5 46.3L552.5 46.4L555.5 43.4L558.5 39.7L561.5 37.6L564.5 37.1L567.5 38.2L570.5 40.9L573.5 43.7L576.5 45.1L579.5 44.3L582.5 43.7L585.5 44.3L588.5 45.8L591.5 47.6L594.5 48.7L597.5 48.9L600.5 49.2L603.5 50.4L606.5 52.6L609.5 55.0L612.5 57.1L615.5 59.0L618.5 61.3L621.5 64.0L624.5 66.9L627.5 70.3L630.5 74.2L633.5 78.2L636.5 81.3L639.5 83.8L642.5 86.5L645.5 89.8L648.5 93.0L651.5 96.0L654.5 99.1L657.5 102.2L660.5 105.3L663.5 108.4L666.5 111.6L669.5 114.9L672.5 118.5L675.5 121.4L676.5 122.1M393.5 67.3L396.5 67.1L399.5 66.9L402.5 66.7L405.5 66.5L408.5 66.3L411.5 66.0L414.5 65.8L417.5 65.6L420.5 65.4L423.5 65.1L426.5 64.8L429.5 64.5L432.5 64.1L435.5 63.6L438.5 63.1L441.5 62.6L444.5 62.2L447.5 62.0L450.5 61.4L453.5 60.1L456.5 59.5L459.5 60.4L462.5 61.0L465.5 59.8L468.5 58.0L471.5 57.8L474.5 58.7L477.5 59.2L480.5 59.2L483.5 58.9L486.5 58.2L489.5 56.6L492.5 53.3L495.5 49.6L498.5 48.4L501.5 50.6L504.5 52.6L507.5 51.4L510.5 49.1L513.5 47.1L516.5 45.4L519.5 45.6L522.5 47.0L525.5 47.3L528.5 46.9L531.5 45.7L534.5 44.4L537.5 44.9L540.5 45.7L543.5 46.7L546.5 48.8L549.5 51.6L552.5 52.6L555.5 49.7L558.5 46.6L561.5 47.6L564.5 51.0L567.5 53.7L570.5 54.5L573.5 53.2L576.5 52.6L579.5 54.0L582.5 55.8L585.5 57.0L588.5 57.9L591.5 59.0L594.5 59.6L597.5 59.8L600.5 61.1L603.5 63.1L606.5 64.7L609.5 65.8L612.5 66.8L615.5 68.2L618.5 69.9L621.5 71.8L624.5 74.1L627.5 76.9L630.5 79.8L633.5 82.6L636.5 85.3L639.5 88.1L642.5 91.1L645.5 94.1L648.5 97.4L651.5 100.8L654.5 104.1L657.5 107.5L660.5 110.7L663.5 114.1L666.5 117.9L669.5 122.2L672.5 126.3L675.5 129.4L676.5 130.2M393.5 86.9L396.5 86.8L399.5 86.8L402.5 86.7L405.5 86.6L408.5 86.6L411.5 86.5L414.5 86.4L417.5 86.4L420.5 86.3L423.5 86.3L426.5 86.2L429.5 86.1L432.5 86.2L435.5 86.2L438.5 86.1L441.5 86.0L444.5 86.0L447.5 86.2L450.5 86.5L453.5 86.3L456.5 85.6L459.5 85.2L462.5 85.4L465.5 85.9L468.5 85.8L471.5 84.4L474.5 82.3L477.5 80.9L480.5 80.0L483.5 79.6L486.5 80.7L489.5 83.1L492.5 83.9L495.5 82.2L498.5 79.0L501.5 77.1L504.5 77.1L507.5 77.8L510.5 79.9L513.5 81.5L516.5 80.1L519.5 78.2L522.5 78.0L525.5 77.5L528.5 75.3L531.5 74.3L534.5 76.5L537.5 80.6L540.5 82.9L543.5 80.6L546.5 76.8L549.5 75.5L552.5 74.5L555.5 71.8L558.5 71.4L561.5 74.8L564.5 78.1L567.5 78.9L570.5 78.8L573.5 80.8L576.5 83.4L579.5 84.5L582.5 85.5L585.5 88.7L588.5 93.0L591.5 96.2L594.5 98.2L597.5 100.5L600.5 103.3L603.5 106.6L606.5 110.0L609.5 113.3L612.5 116.5L615.5 119.6L618.5 123.1L621.5 127.3L624.5 131.6L627.5 135.3L630.5 138.5L633.5 142.1L636.5 145.9L639.5 149.6L642.5 152.9L645.5 156.4L648.5 160.1L651.5 163.5L654.5 166.4L657.5 169.3L660.5 172.4L663.5 175.9L666.5 179.5L669.5 182.9L672.5 186.0L675.5 188.1L676.5 188.5M393.5 77.6L396.5 77.6L399.5 77.4L402.5 77.3L405.5 77.2L408.5 77.0L411.5 76.9L414.5 76.8L417.5 76.7L420.5 76.6L423.5 76.5L426.5 76.3L429.5 76.0L432.5 75.8L435.5 75.5L438.5 75.4L441.5 75.4L444.5 75.2L447.5 74.9L450.5 74.3L453.5 73.7L456.5 73.4L459.5 72.9L462.5 71.4L465.5 69.2L468.5 67.8L471.5 68.5L474.5 70.6L477.5 71.4L480.5 70.2L483.5 69.4L486.5 69.8L489.5 70.9L492.5 70.7L495.5 68.7L498.5 66.0L501.5 63.7L504.5 62.1L507.5 60.8L510.5 60.3L513.5 61.2L516.5 61.9L519.5 60.4L522.5 56.4L525.5 52.7L528.5 51.8L531.5 53.1L534.5 54.8L537.5 57.2L540.5 60.2L543.5 61.5L546.5 60.1L549.5 58.3L552.5 57.1L555.5 56.5L558.5 57.5L561.5 59.7L564.5 60.3L567.5 57.6L570.5 55.4L573.5 56.8L576.5 59.5L579.5 60.6L582.5 61.0L585.5 62.4L588.5 65.1L591.5 67.6L594.5 69.6L597.5 71.4L600.5 73.3L603.5 75.3L606.5 77.3L609.5 79.2L612.5 81.1L615.5 83.0L618.5 85.2L621.5 87.4L624.5 89.6L627.5 92.6L630.5 96.3L633.5 100.0L636.5 102.9L639.5 105.5L642.5 108.6L645.5 112.1L648.5 115.4L651.5 118.5L654.5 121.8L657.5 125.4L660.5 129.5L663.5 133.8L666.5 138.1L669.5 142.1L672.5 146.1L675.5 149.9L676.5 150.9M393.5 74.6L396.5 74.5L399.5 74.4L402.5 74.2L405.5 74.1L408.5 74.0L411.5 73.9L414.5 73.7L417.5 73.6L420.5 73.4L423.5 73.2L426.5 73.0L429.5 72.8L432.5 72.5L435.5 72.1L438.5 71.8L441.5 71.4L444.5 70.7L447.5 69.9L450.5 69.4L453.5 69.3L456.5 69.3L459.5 69.2L462.5 69.4L465.5 69.6L468.5 69.2L471.5 68.1L474.5 67.1L477.5 66.4L480.5 65.4L483.5 64.6L486.5 65.1L489.5 65.6L492.5 64.4L495.5 63.6L498.5 65.2L501.5 66.2L504.5 64.6L507.5 62.0L510.5 59.1L513.5 56.3L516.5 54.5L519.5 53.9L522.5 54.2L525.5 55.8L528.5 57.6L531.5 56.8L534.5 53.8L537.5 52.6L540.5 53.4L543.5 54.5L546.5 55.0L549.5 55.4L552.5 55.7L555.5 56.1L558.5 57.4L561.5 57.8L564.5 56.5L567.5 55.6L570.5 55.9L573.5 56.8L576.5 57.5L579.5 58.9L582.5 60.9L585.5 62.1L588.5 62.8L591.5 63.8L594.5 65.2L597.5 66.6L600.5 67.8L603.5 69.2L606.5 71.3L609.5 73.5L612.5 75.5L615.5 77.2L618.5 79.0L621.5 80.9L624.5 82.9L627.5 85.0L630.5 87.8L633.5 91.3L636.5 94.8L639.5 97.6L642.5 100.1L645.5 102.7L648.5 105.5L651.5 108.8L654.5 112.5L657.5 116.1L660.5 119.5L663.5 122.9L666.5 126.1L669.5 129.5L672.5 132.9L675.5 135.8L676.5 136.5M393.5 62.0L396.5 61.8L399.5 61.5L402.5 61.3L405.5 61.0L408.5 60.7L411.5 60.5L414.5 60.3L417.5 60.0L420.5 59.7L423.5 59.2L426.5 58.8L429.5 58.4L432.5 57.9L435.5 57.5L438.5 57.2L441.5 57.1L444.5 56.8L447.5 56.1L450.5 55.1L453.5 54.1L456.5 53.2L459.5 52.7L462.5 53.0L465.5 53.7L468.5 53.6L471.5 52.1L474.5 49.7L477.5 47.7L480.5 47.2L483.5 47.9L486.5 48.9L489.5 49.8L492.5 49.9L495.5 49.0L498.5 48.6L501.5 48.4L504.5 48.5L507.5 49.1L510.5 50.0L513.5 50.7L516.5 51.0L519.5 50.5L522.5 49.2L525.5 47.5L528.5 46.3L531.5 46.6L534.5 47.8L537.5 49.0L540.5 50.5L543.5 51.7L546.5 51.7L549.5 51.3L552.5 52.0L555.5 54.4L558.5 56.7L561.5 57.8L564.5 59.0L567.5 61.1L570.5 63.1L573.5 65.1L576.5 67.0L579.5 68.7L582.5 71.1L585.5 73.4L588.5 74.7L591.5 75.8L594.5 77.9L597.5 80.9L600.5 83.9L603.5 86.4L606.5 88.4L609.5 90.6L612.5 93.0L615.5 95.9L618.5 99.2L621.5 103.0L624.5 107.1L627.5 111.3L630.5 115.3L633.5 118.7L636.5 121.4L639.5 124.3L642.5 127.7L645.5 131.7L648.5 135.8L651.5 139.8L654.5 143.6L657.5 147.7L660.5 152.2L663.5 157.2L666.5 162.3L669.5 167.4L672.5 172.2L675.5 176.5L676.5 177.6M393.5 82.5L396.5 82.5L399.5 82.4L402.5 82.3L405.5 82.3L408.5 82.2L411.5 82.1L414.5 82.1L417.5 82.0L420.5 81.9L423.5 81.8L426.5 81.7L429.5 81.6L432.5 81.6L435.5 81.7L438.5 81.5L441.5 80.9L444.5 80.5L447.5 80.2L450.5 80.0L453.5 79.5L456.5 79.1L459.5 79.8L462.5 81.2L465.5 81.9L468.5 81.3L471.5 80.1L474.5 79.0L477.5 79.6L480.5 80.8L483.5 79.5L486.5 76.6L489.5 73.1L492.5 70.9L495.5 72.4L498.5 74.6L501.5 73.6L504.5 71.7L507.5 71.3L510.5 71.3L513.5 70.1L516.5 68.1L519.5 67.0L522.5 67.2L525.5 68.5L528.5 71.1L531.5 73.3L534.5 72.5L537.5 70.0L540.5 69.7L543.5 71.7L546.5 72.3L549.5 70.7L552.5 70.9L555.5 73.1L558.5 75.1L561.5 76.0L564.5 75.4L567.5 74.3L570.5 74.0L573.5 74.7L576.5 76.1L579.5 78.7L582.5 82.9L585.5 86.1L588.5 86.6L591.5 86.8L594.5 89.6L597.5 94.4L600.5 98.3L603.5 101.2L606.5 104.1L609.5 107.3L612.5 110.7L615.5 114.2L618.5 117.6L621.5 120.7L624.5 124.0L627.5 127.5L630.5 131.0L633.5 134.8L636.5 138.6L639.5 142.0L642.5 145.1L645.5 148.5L648.5 152.0L651.5 155.5L654.5 158.7L657.5 162.1L660.5 165.7L663.5 169.3L666.5 172.8L669.5 175.8L672.5 178.5L675.5 180.6L676.5 181.0M393.5 80.2L396.5 80.2L399.5 80.1L402.5 80.0L405.5 79.9L408.5 79.8L411.5 79.7L414.5 79.6L417.5 79.5L420.5 79.4L423.5 79.3L426.5 79.2L429.5 79.0L432.5 78.8L435.5 78.7L438.5 78.7L441.5 78.6L444.5 78.2L447.5 77.7L450.5 77.2L453.5 76.6L456.5 76.0L459.5 75.3L462.5 74.6L465.5 74.1L468.5 74.3L471.5 75.3L474.5 75.9L477.5 75.1L480.5 74.0L483.5 73.2L486.5 72.7L489.5 73.1L492.5 74.9L495.5 76.6L498.5 76.0L501.5 72.5L504.5 68.0L507.5 64.8L510.5 63.0L513.5 62.2L516.5 62.5L519.5 64.8L522.5 67.1L525.5 66.0L528.5 63.4L531.5 62.1L534.5 61.1L537.5 60.1L540.5 61.6L543.5 64.7L546.5 66.6L549.5 67.8L552.5 68.5L555.5 67.1L558.5 65.5L561.5 66.2L564.5 69.9L567.5 73.6L570.5 74.6L573.5 74.2L576.5 74.6L579.5 75.4L582.5 76.5L585.5 78.6L588.5 81.9L591.5 86.1L594.5 89.9L597.5 92.4L600.5 94.6L603.5 97.1L606.5 99.6L609.5 102.0L612.5 104.3L615.5 106.5L618.5 109.1L621.5 112.1L624.5 115.3L627.5 118.6L630.5 122.1L633.5 125.3L636.5 128.3L639.5 131.3L642.5 134.7L645.5 138.1L648.5 141.8L651.5 145.7L654.5 149.3L657.5 152.7L660.5 156.5L663.5 160.8L666.5 165.6L669.5 170.6L672.5 175.5L675.5 179.7L676.5 180.8M393.5 79.9L396.5 79.8L399.5 79.7L402.5 79.6L405.5 79.5L408.5 79.4L411.5 79.3L414.5 79.3L417.5 79.2L420.5 79.0L423.5 78.9L426.5 78.8L429.5 78.6L432.5 78.4L435.5 78.1L438.5 77.7L441.5 77.4L444.5 77.4L447.5 77.2L450.5 77.1L453.5 77.0L456.5 76.2L459.5 74.9L462.5 74.6L465.5 75.2L468.5 76.0L471.5 76.3L474.5 75.7L477.5 75.0L480.5 74.1L483.5 72.9L486.5 72.7L489.5 72.9L492.5 72.3L495.5 71.1L498.5 68.9L501.5 65.8L504.5 63.3L507.5 61.6L510.5 60.9L513.5 61.3L516.5 61.6L519.5 62.4L522.5 64.6L525.5 66.3L528.5 66.8L531.5 66.7L534.5 66.6L537.5 66.2L540.5 64.6L543.5 62.2L546.5 61.0L549.5 61.9L552.5 63.5L555.5 63.6L558.5 63.3L561.5 64.2L564.5 65.0L567.5 64.9L570.5 64.9L573.5 66.5L576.5 68.1L579.5 68.5L582.5 69.1L585.5 70.2L588.5 71.3L591.5 73.1L594.5 75.0L597.5 76.5L600.5 77.7L603.5 79.5L606.5 82.0L609.5 84.3L612.5 85.9L615.5 87.8L618.5 90.3L621.5 93.4L624.5 96.5L627.5 99.3L630.5 102.1L633.5 105.4L636.5 108.8L639.5 111.8L642.5 114.8L645.5 118.1L648.5 121.8L651.5 125.6L654.5 129.4L657.5 133.2L660.5 137.4L663.5 142.0L666.5 146.7L669.5 151.3L672.5 156.0L675.5 160.4L676.5 161.6M393.5 70.6L396.5 70.5L399.5 70.3L402.5 70.1L405.5 70.0L408.5 69.8L411.5 69.6L414.5 69.4L417.5 69.3L420.5 69.1L423.5 68.8L426.5 68.6L429.5 68.3L432.5 68.1L435.5 68.0L438.5 67.9L441.5 67.7L444.5 67.4L447.5 67.1L450.5 66.5L453.5 65.8L456.5 65.1L459.5 63.9L462.5 62.6L465.5 61.8L468.5 61.9L471.5 61.8L474.5 60.8L477.5 59.3L480.5 57.8L483.5 56.4L486.5 55.6L489.5 55.5L492.5 55.2L495.5 54.4L498.5 55.1L501.5 57.1L504.5 58.9L507.5 60.1L510.5 58.8L513.5 54.8L516.5 52.5L519.5 53.6L522.5 55.4L525.5 56.7L528.5 57.7L531.5 56.1L534.5 51.3L537.5 47.5L540.5 47.9L543.5 50.7L546.5 51.9L549.5 51.8L552.5 52.4L555.5 54.5L558.5 57.1L561.5 58.3L564.5 58.5L567.5 59.1L570.5 59.6L573.5 59.2L576.5 59.5L579.5 61.3L582.5 63.7L585.5 65.7L588.5 67.6L591.5 69.6L594.5 71.5L597.5 73.2L600.5 75.4L603.5 78.0L606.5 80.0L609.5 81.5L612.5 83.3L615.5 85.4L618.5 87.7L621.5 90.1L624.5 92.8L627.5 95.9L630.5 99.3L633.5 102.5L636.5 105.3L639.5 108.0L642.5 110.8L645.5 113.6L648.5 116.6L651.5 119.9L654.5 123.4L657.5 127.2L660.5 131.2L663.5 135.1L666.5 139.2L669.5 143.5L672.5 147.8L675.5 151.5L676.5 152.4M393.5 57.7L396.5 57.7L399.5 57.7L402.5 57.6L405.5 57.5L408.5 57.2L411.5 57.0L414.5 56.7L417.5 56.4L420.5 56.1L423.5 55.7L426.5 55.2L429.5 54.8L432.5 54.3L435.5 54.1L438.5 54.1L441.5 53.9L444.5 53.6L447.5 53.3L450.5 53.3L453.5 53.3L456.5 53.0L459.5 52.9L462.5 53.3L465.5 53.2L468.5 51.9L471.5 50.3L474.5 49.6L477.5 49.9L480.5 49.9L483.5 47.8L486.5 44.7L489.5 41.9L492.5 40.3L495.5 41.4L498.5 44.5L501.5 46.4L504.5 45.2L507.5 42.7L510.5 41.1L513.5 41.2L516.5 42.5L519.5 43.4L522.5 42.9L525.5 42.3L528.5 42.5L531.5 43.8L534.5 45.4L537.5 47.1L540.5 48.7L543.5 48.1L546.5 45.3L549.5 44.4L552.5 46.2L555.5 47.9L558.5 48.3L561.5 47.9L564.5 47.1L567.5 47.4L570.5 50.0L573.5 52.4L576.5 52.4L579.5 51.4L582.5 51.7L585.5 53.5L588.5 54.5L591.5 54.3L594.5 53.9L597.5 54.2L600.5 55.8L603.5 58.4L606.5 60.2L609.5 61.2L612.5 62.5L615.5 64.6L618.5 67.2L621.5 69.8L624.5 72.6L627.5 75.6L630.5 78.9L633.5 82.1L636.5 85.4L639.5 88.9L642.5 92.5L645.5 96.1L648.5 99.3L651.5 102.1L654.5 105.2L657.5 108.5L660.5 111.7L663.5 115.1L666.5 118.7L669.5 122.7L672.5 126.5L675.5 129.6L676.5 130.4M393.5 79.5L396.5 79.5L399.5 79.4L402.5 79.3L405.5 79.1L408.5 79.0L411.5 78.9L414.5 78.8L417.5 78.8L420.5 78.6L423.5 78.5L426.5 78.3L429.5 78.2L432.5 78.0L435.5 77.8L438.5 77.6L441.5 77.4L444.5 77.2L447.5 77.0L450.5 76.7L453.5 76.3L456.5 75.8L459.5 75.5L462.5 76.2L465.5 76.9L468.5 76.0L471.5 74.6L474.5 74.0L477.5 74.3L480.5 74.6L483.5 73.3L486.5 70.1L489.5 65.6L492.5 62.7L495.5 63.5L498.5 66.5L501.5 68.6L504.5 69.4L507.5 68.9L510.5 67.5L513.5 67.4L516.5 69.9L519.5 72.6L522.5 71.2L525.5 66.5L528.5 63.9L531.5 63.8L534.5 63.5L537.5 62.7L540.5 61.3L543.5 59.9L546.5 60.3L549.5 62.6L552.5 65.1L555.5 67.3L558.5 68.2L561.5 67.4L564.5 67.6L567.5 69.6L570.5 70.0L573.5 69.3L576.5 70.1L579.5 72.2L582.5 74.4L585.5 77.4L588.5 80.7L591.5 83.0L594.5 84.7L597.5 86.7L600.5 89.1L603.5 91.5L606.5 93.5L609.5 95.3L612.5 97.1L615.5 99.3L618.5 102.2L621.5 105.6L624.5 108.7L627.5 111.2L630.5 113.9L633.5 117.0L636.5 120.4L639.5 123.8L642.5 127.4L645.5 131.1L648.5 134.3L651.5 137.4L654.5 140.6L657.5 144.4L660.5 148.7L663.5 152.7L666.5 156.4L669.5 159.9L672.5 163.5L675.5 166.5L676.5 167.2M393.5 81.3L396.5 81.2L399.5 81.1L402.5 81.0L405.5 80.9L408.5 80.7L411.5 80.6L414.5 80.4L417.5 80.3L420.5 80.1L423.5 79.9L426.5 79.7L429.5 79.4L432.5 79.1L435.5 78.7L438.5 78.3L441.5 78.2L444.5 78.0L447.5 77.4L450.5 76.6L453.5 75.8L456.5 75.3L459.5 75.2L462.5 74.6L465.5 73.2L468.5 72.8L471.5 73.6L474.5 74.3L477.5 73.9L480.5 72.5L483.5 71.5L486.5 71.0L489.5 70.7L492.5 70.4L495.5 67.5L498.5 61.4L501.5 56.1L504.5 54.0L507.5 53.7L510.5 54.5L513.5 55.8L516.5 56.4L519.5 55.7L522.5 55.5L525.5 55.7L528.5 53.1L531.5 48.6L534.5 47.2L537.5 49.7L540.5 53.3L543.5 54.8L546.5 54.5L549.5 54.1L552.5 53.6L555.5 53.5L558.5 53.9L561.5 54.2L564.5 55.3L567.5 57.3L570.5 57.7L573.5 56.7L576.5 56.9L579.5 56.6L582.5 56.6L585.5 59.8L588.5 63.7L591.5 65.4L594.5 66.2L597.5 66.6L600.5 67.1L603.5 68.2L606.5 70.0L609.5 72.1L612.5 74.2L615.5 76.2L618.5 78.4L621.5 81.4L624.5 84.9L627.5 88.7L630.5 92.4L633.5 95.8L636.5 99.0L639.5 102.2L642.5 105.5L645.5 108.6L648.5 111.8L651.5 115.1L654.5 118.5L657.5 121.9L660.5 125.4L663.5 129.1L666.5 133.0L669.5 136.8L672.5 140.2L675.5 142.5L676.5 142.9M393.5 86.7L396.5 86.6L399.5 86.6L402.5 86.5L405.5 86.4L408.5 86.3L411.5 86.2L414.5 86.2L417.5 86.1L420.5 86.0L423.5 85.9L426.5 85.9L429.5 85.8L432.5 85.7L435.5 85.6L438.5 85.2L441.5 84.9L444.5 84.9L447.5 85.0L450.5 84.8L453.5 84.5L456.5 84.3L459.5 84.7L462.5 85.3L465.5 85.0L468.5 83.5L471.5 82.9L474.5 83.4L477.5 83.6L480.5 83.6L483.5 83.7L486.5 84.0L489.5 84.2L492.5 81.6L495.5 77.9L498.5 77.7L501.5 80.7L504.5 82.4L507.5 79.9L510.5 75.6L513.5 74.2L516.5 74.7L519.5 74.4L522.5 73.9L525.5 73.4L528.5 72.6L531.5 72.6L534.5 73.8L537.5 74.6L540.5 74.4L543.5 74.2L546.5 73.8L549.5 72.0L552.5 69.3L555.5 67.2L558.5 65.9L561.5 65.0L564.5 65.4L567.5 67.2L570.5 69.8L573.5 72.0L576.5 71.9L579.5 70.5L582.5 70.8L585.5 73.2L588.5 75.6L591.5 77.1L594.5 78.9L597.5 81.1L600.5 83.2L603.5 84.2L606.5 84.8L609.5 86.0L612.5 87.6L615.5 89.2L618.5 90.9L621.5 93.2L624.5 96.1L627.5 98.8L630.5 101.3L633.5 103.9L636.5 106.5L639.5 108.9L642.5 111.4L645.5 114.3L648.5 117.3L651.5 120.3L654.5 123.3L657.5 126.6L660.5 130.5L663.5 134.5L666.5 138.3L669.5 141.9L672.5 145.2L675.5 147.6L676.5 148.1M393.5 63.2L396.5 63.1L399.5 62.8L402.5 62.6L405.5 62.4L408.5 62.1L411.5 61.9L414.5 61.6L417.5 61.4L420.5 61.1L423.5 60.7L426.5 60.3L429.5 59.9L432.5 59.4L435.5 58.9L438.5 58.4L441.5 58.2L444.5 58.4L447.5 58.7L450.5 58.9L453.5 58.5L456.5 57.8L459.5 57.6L462.5 57.0L465.5 55.3L468.5 53.5L471.5 52.5L474.5 52.2L477.5 52.3L480.5 52.4L483.5 51.7L486.5 50.8L489.5 51.1L492.5 51.8L495.5 51.3L498.5 49.0L501.5 47.6L504.5 48.7L507.5 49.8L510.5 48.9L513.5 46.5L516.5 44.2L519.5 42.9L522.5 42.7L525.5 42.9L528.5 42.9L531.5 43.5L534.5 44.2L537.5 44.2L540.5 43.8L543.5 44.3L546.5 46.1L549.5 48.4L552.5 50.2L555.5 50.8L558.5 50.7L561.5 51.2L564.5 52.6L567.5 54.0L570.5 54.9L573.5 55.5L576.5 56.5L579.5 57.8L582.5 58.6L585.5 59.1L588.5 60.2L591.5 61.7L594.5 62.5L597.5 63.3L600.5 65.3L603.5 68.3L606.5 70.9L609.5 72.7L612.5 74.2L615.5 76.0L618.5 78.2L621.5 81.1L624.5 84.4L627.5 87.6L630.5 90.4L633.5 93.3L636.5 96.1L639.5 98.7L642.5 101.4L645.5 104.3L648.5 107.6L651.5 111.0L654.5 114.6L657.5 118.2L660.5 121.8L663.5 125.3L666.5 129.0L669.5 133.0L672.5 136.9L675.5 139.9L676.5 140.7M393.5 82.2L396.5 82.1L399.5 82.0L402.5 82.0L405.5 81.9L408.5 81.8L411.5 81.7L414.5 81.7L417.5 81.6L420.5 81.6L423.5 81.4L426.5 81.3L429.5 81.2L432.5 81.2L435.5 81.2L438.5 81.0L441.5 80.8L444.5 80.5L447.5 79.8L450.5 79.0L453.5 78.8L456.5 79.2L459.5 79.3L462.5 79.0L465.5 79.5L468.5 80.2L471.5 79.8L474.5 78.4L477.5 77.2L480.5 77.4L483.5 77.9L486.5 77.4L489.5 77.2L492.5 76.9L495.5 75.3L498.5 73.5L501.5 73.8L504.5 76.1L507.5 77.5L510.5 77.0L513.5 77.0L516.5 77.8L519.5 77.9L522.5 77.2L525.5 75.7L528.5 73.2L531.5 71.7L534.5 72.0L537.5 71.9L540.5 71.2L543.5 70.3L546.5 69.7L549.5 70.3L552.5 71.6L555.5 72.7L558.5 73.5L561.5 74.4L564.5 75.3L567.5 76.9L570.5 78.5L573.5 78.9L576.5 79.5L579.5 82.1L582.5 85.7L585.5 88.0L588.5 89.0L591.5 90.4L594.5 93.2L597.5 96.9L600.5 100.5L603.5 103.2L606.5 105.5L609.5 108.4L612.5 111.7L615.5 115.2L618.5 118.7L621.5 122.4L624.5 126.2L627.5 129.8L630.5 133.4L633.5 136.8L636.5 139.8L639.5 142.9L642.5 146.3L645.5 149.9L648.5 153.6L651.5 157.2L654.5 160.9L657.5 164.7L660.5 168.3L663.5 171.8L666.5 175.2L669.5 178.6L672.5 181.7L675.5 183.7L676.5 184.1M393.5 60.8L396.5 60.6L399.5 60.3L402.5 60.0L405.5 59.7L408.5 59.5L411.5 59.2L414.5 59.0L417.5 58.7L420.5 58.3L423.5 57.9L426.5 57.5L429.5 57.0L432.5 56.6L435.5 56.2L438.5 55.8L441.5 55.3L444.5 54.9L447.5 54.6L450.5 54.4L453.5 53.7L456.5 52.8L459.5 52.6L462.5 52.0L465.5 50.5L468.5 48.3L471.5 46.0L474.5 45.2L477.5 45.8L480.5 46.9L483.5 49.7L486.5 52.4L489.5 50.4L492.5 46.9L495.5 47.1L498.5 48.2L501.5 47.4L504.5 45.6L507.5 43.7L510.5 42.4L513.5 42.8L516.5 44.7L519.5 45.5L522.5 43.9L525.5 41.9L528.5 41.3L531.5 42.0L534.5 43.2L537.5 44.1L540.5 43.8L543.5 42.6L546.5 42.7L549.5 43.7L552.5 43.2L555.5 43.3L558.5 44.0L561.5 43.2L564.5 42.7L567.5 43.2L570.5 44.0L573.5 45.8L576.5 48.1L579.5 49.1L582.5 48.1L585.5 48.2L588.5 49.9L591.5 50.5L594.5 50.7L597.5 52.2L600.5 54.7L603.5 56.7L606.5 57.9L609.5 59.2L612.5 61.1L615.5 62.7L618.5 64.2L621.5 66.7L624.5 70.6L627.5 74.1L630.5 76.8L633.5 79.6L636.5 82.8L639.5 85.5L642.5 88.0L645.5 90.9L648.5 94.5L651.5 97.9L654.5 101.0L657.5 104.6L660.5 108.5L663.5 112.4L666.5 116.0L669.5 119.5L672.5 123.3L675.5 127.0L676.5 128.0M393.5 78.4L396.5 78.4L399.5 78.3L402.5 78.2L405.5 78.1L408.5 78.0L411.5 77.9L414.5 77.8L417.5 77.8L420.5 77.7L423.5 77.6L426.5 77.5L429.5 77.3L432.5 77.3L435.5 77.2L438.5 77.0L441.5 76.9L444.5 76.8L447.5 76.5L450.5 75.8L453.5 75.2L456.5 75.0L459.5 75.4L462.5 76.1L465.5 76.5L468.5 76.3L471.5 75.1L474.5 73.3L477.5 72.1L480.5 71.9L483.5 72.1L486.5 71.7L489.5 70.9L492.5 71.8L495.5 73.4L498.5 72.0L501.5 68.6L504.5 67.6L507.5 69.0L510.5 69.0L513.5 67.5L516.5 66.7L519.5 66.6L522.5 67.2L525.5 69.1L528.5 70.6L531.5 70.5L534.5 68.3L537.5 65.2L540.5 63.2L543.5 63.2L546.5 64.7L549.5 66.4L552.5 67.2L555.5 67.2L558.5 67.5L561.5 68.7L564.5 70.0L567.5 70.8L570.5 72.2L573.5 73.7L576.5 74.0L579.5 74.6L582.5 77.3L585.5 81.4L588.5 84.9L591.5 87.0L594.5 89.0L597.5 92.0L600.5 95.9L603.5 100.3L606.5 103.8L609.5 106.0L612.5 108.0L615.5 109.9L618.5 112.3L621.5 115.1L624.5 118.1L627.5 120.9L630.5 123.9L633.5 127.2L636.5 130.8L639.5 134.5L642.5 138.5L645.5 142.2L648.5 145.7L651.5 149.2L654.5 152.9L657.5 156.7L660.5 160.7L663.5 164.7L666.5 168.9L669.5 172.9L672.5 176.4L675.5 178.8L676.5 179.4M393.5 73.7L396.5 73.6L399.5 73.5L402.5 73.4L405.5 73.2L408.5 73.1L411.5 73.0L414.5 72.9L417.5 72.7L420.5 72.6L423.5 72.4L426.5 72.2L429.5 71.9L432.5 71.7L435.5 71.4L438.5 71.2L441.5 70.9L444.5 70.6L447.5 70.3L450.5 70.0L453.5 69.5L456.5 69.2L459.5 68.8L462.5 68.2L465.5 67.7L468.5 67.3L471.5 66.7L474.5 65.9L477.5 65.7L480.5 66.6L483.5 67.6L486.5 67.9L489.5 66.7L492.5 65.1L495.5 65.0L498.5 65.0L501.5 64.4L504.5 63.4L507.5 62.1L510.5 61.0L513.5 60.8L516.5 61.9L519.5 63.4L522.5 64.3L525.5 64.1L528.5 62.3L531.5 59.0L534.5 55.6L537.5 54.0L540.5 54.6L543.5 56.7L546.5 58.8L549.5 60.3L552.5 60.9L555.5 61.6L558.5 63.3L561.5 64.7L564.5 65.1L567.5 65.3L570.5 65.7L573.5 66.3L576.5 67.6L579.5 69.7L582.5 71.4L585.5 72.5L588.5 74.9L591.5 78.8L594.5 82.1L597.5 84.6L600.5 87.0L603.5 89.3L606.5 91.2L609.5 92.9L612.5 94.5L615.5 96.5L618.5 99.0L621.5 101.6L624.5 104.0L627.5 106.5L630.5 109.2L633.5 112.3L636.5 115.6L639.5 118.8L642.5 121.9L645.5 124.7L648.5 127.8L651.5 131.9L654.5 136.5L657.5 140.7L660.5 144.3L663.5 148.1L666.5 152.4L669.5 157.2L672.5 161.8L675.5 165.4L676.5 166.2M393.5 76.0L396.5 75.9L399.5 75.8L402.5 75.7L405.5 75.6L408.5 75.5L411.5 75.4L414.5 75.2L417.5 75.1L420.5 75.0L423.5 74.8L426.5 74.7L429.5 74.5L432.5 74.3L435.5 74.2L438.5 74.3L441.5 73.9L444.5 73.1L447.5 72.7L450.5 73.2L453.5 73.5L456.5 72.9L459.5 72.0L462.5 71.5L465.5 71.4L468.5 71.1L471.5 70.2L474.5 70.0L477.5 70.7L480.5 71.3L483.5 71.8L486.5 71.8L489.5 70.4L492.5 67.5L495.5 64.6L498.5 63.3L501.5 62.0L504.5 59.0L507.5 56.3L510.5 55.8L513.5 57.4L516.5 59.7L519.5 63.0L522.5 66.3L525.5 66.5L528.5 63.8L531.5 60.2L534.5 57.7L537.5 57.6L540.5 58.2L543.5 56.8L546.5 55.2L549.5 57.0L552.5 60.5L555.5 63.2L558.5 64.7L561.5 63.5L564.5 61.3L567.5 61.3L570.5 62.7L573.5 64.4L576.5 65.7L579.5 66.1L582.5 67.3L585.5 70.5L588.5 73.3L591.5 74.0L594.5 74.3L597.5 75.3L600.5 77.4L603.5 80.5L606.5 83.8L609.5 86.0L612.5 87.8L615.5 89.4L618.5 91.5L621.5 93.9L624.5 96.6L627.5 99.7L630.5 102.9L633.5 105.9L636.5 108.5L639.5 111.0L642.5 114.4L645.5 118.1L648.5 121.7L651.5 125.6L654.5 129.8L657.5 133.9L660.5 137.7L663.5 141.8L666.5 146.0L669.5 150.2L672.5 154.3L675.5 157.6L676.5 158.3M393.5 89.3L396.5 89.2L399.5 89.1L402.5 89.0L405.5 88.9L408.5 88.8L411.5 88.7L414.5 88.6L417.5 88.6L420.5 88.5L423.5 88.4L426.5 88.3L429.5 88.2L432.5 87.9L435.5 87.7L438.5 87.5L441.5 87.4L444.5 87.3L447.5 87.3L450.5 87.3L453.5 87.3L456.5 86.9L459.5 85.6L462.5 84.1L465.5 83.5L468.5 83.2L471.5 83.3L474.5 84.5L477.5 85.3L480.5 84.3L483.5 82.7L486.5 81.4L489.5 80.2L492.5 79.8L495.5 80.9L498.5 82.4L501.5 82.4L504.5 81.5L507.5 81.1L510.5 81.0L513.5 80.6L516.5 79.4L519.5 77.6L522.5 76.3L525.5 75.9L528.5 75.7L531.5 75.3L534.5 74.1L537.5 71.8L540.5 70.0L543.5 69.1L546.5 69.0L549.5 71.1L552.5 74.8L555.5 77.1L558.5 76.6L561.5 75.2L564.5 75.0L567.5 76.3L570.5 78.2L573.5 79.0L576.5 79.9L579.5 82.1L582.5 83.9L585.5 85.1L588.5 87.0L591.5 89.1L594.5 91.0L597.5 93.8L600.5 97.1L603.5 100.1L606.5 102.7L609.5 105.5L612.5 108.6L615.5 112.3L618.5 116.4L621.5 120.3L624.5 123.7L627.5 126.9L630.5 130.0L633.5 133.3L636.5 136.5L639.5 139.8L642.5 143.0L645.5 146.3L648.5 149.7L651.5 153.2L654.5 156.8L657.5 160.6L660.5 164.6L663.5 168.6L666.5 172.5L669.5 176.1L672.5 179.1L675.5 181.3L676.5 181.8M393.5 77.0L396.5 76.9L399.5 76.8L402.5 76.7L405.5 76.6L408.5 76.5L411.5 76.4L414.5 76.3L417.5 76.1L420.5 76.0L423.5 75.8L426.5 75.6L429.5 75.4L432.5 75.0L435.5 74.7L438.5 74.6L441.5 74.5L444.5 74.4L447.5 74.1L450.5 73.3L453.5 72.5L456.5 72.2L459.5 71.9L462.5 71.4L465.5 70.9L468.5 70.5L471.5 70.3L474.5 69.9L477.5 67.8L480.5 64.0L483.5 61.9L486.5 63.9L489.5 67.1L492.5 67.4L495.5 65.7L498.5 65.2L501.5 64.7L504.5 63.0L507.5 60.8L510.5 58.1L513.5 55.1L516.5 54.3L519.5 56.2L522.5 58.8L525.5 59.6L528.5 56.9L531.5 52.0L534.5 46.5L537.5 43.4L540.5 45.6L543.5 50.8L546.5 53.9L549.5 53.8L552.5 52.0L555.5 51.5L558.5 53.7L561.5 56.3L564.5 56.6L567.5 55.8L570.5 55.6L573.5 55.8L576.5 56.7L579.5 58.3L582.5 60.0L585.5 61.0L588.5 62.2L591.5 65.3L594.5 68.9L597.5 70.2L600.5 70.4L603.5 72.1L606.5 75.3L609.5 78.2L612.5 80.3L615.5 82.0L618.5 83.9L621.5 86.5L624.5 89.6L627.5 92.8L630.5 95.8L633.5 98.8L636.5 101.7L639.5 104.4L642.5 107.4L645.5 110.9L648.5 114.4L651.5 117.7L654.5 121.2L657.5 124.6L660.5 128.2L663.5 132.1L666.5 136.1L669.5 140.1L672.5 143.8L675.5 147.0L676.5 147.7M393.5 63.4L396.5 63.2L399.5 63.0L402.5 62.7L405.5 62.5L408.5 62.2L411.5 62.0L414.5 61.7L417.5 61.4L420.5 61.1L423.5 60.7L426.5 60.3L429.5 60.0L432.5 59.6L435.5 59.5L438.5 59.2L441.5 58.9L444.5 58.5L447.5 58.0L450.5 57.5L453.5 57.1L456.5 56.3L459.5 56.1L462.5 57.3L465.5 58.4L468.5 57.4L471.5 54.6L474.5 52.1L477.5 50.7L480.5 49.6L483.5 47.8L486.5 46.8L489.5 47.6L492.5 49.2L495.5 49.9L498.5 50.0L501.5 49.5L504.5 47.8L507.5 46.3L510.5 45.6L513.5 46.0L516.5 46.7L519.5 46.3L522.5 45.3L525.5 44.4L528.5 43.3L531.5 41.6L534.5 41.4L537.5 43.2L540.5 44.1L543.5 43.8L546.5 44.3L549.5 45.6L552.5 48.8L555.5 52.0L558.5 51.6L561.5 48.5L564.5 45.3L567.5 44.4L570.5 46.0L573.5 47.9L576.5 49.3L579.5 49.9L582.5 50.3L585.5 51.7L588.5 53.9L591.5 56.1L594.5 58.1L597.5 59.7L600.5 61.3L603.5 63.1L606.5 64.6L609.5 65.9L612.5 67.4L615.5 69.5L618.5 72.0L621.5 74.9L624.5 77.8L627.5 80.7L630.5 83.3L633.5 85.7L636.5 88.2L639.5 91.1L642.5 94.3L645.5 97.2L648.5 99.9L651.5 102.4L654.5 105.4L657.5 108.9L660.5 112.7L663.5 116.4L666.5 120.2L669.5 124.1L672.5 127.9L675.5 130.9L676.5 131.7M393.5 76.9L396.5 76.8L399.5 76.7L402.5 76.6L405.5 76.5L408.5 76.4L411.5 76.3L414.5 76.2L417.5 76.1L420.5 76.0L423.5 75.9L426.5 75.7L429.5 75.6L432.5 75.4L435.5 75.2L438.5 75.0L441.5 74.6L444.5 74.2L447.5 74.1L450.5 74.5L453.5 74.4L456.5 73.3L459.5 72.4L462.5 71.9L465.5 71.0L468.5 70.3L471.5 70.9L474.5 72.2L477.5 73.8L480.5 74.5L483.5 72.8L486.5 70.3L489.5 69.1L492.5 68.3L495.5 67.6L498.5 67.2L501.5 66.4L504.5 65.9L507.5 67.0L510.5 67.8L513.5 66.3L516.5 66.3L519.5 68.6L522.5 67.4L525.5 64.1L528.5 63.5L531.5 64.5L534.5 65.8L537.5 68.0L540.5 68.9L543.5 67.0L546.5 64.2L549.5 63.6L552.5 65.9L555.5 68.3L558.5 69.7L561.5 71.5L564.5 73.1L567.5 73.2L570.5 72.5L573.5 72.4L576.5 73.2L579.5 75.8L582.5 79.1L585.5 81.1L588.5 82.9L591.5 86.2L594.5 89.5L597.5 91.5L600.5 92.8L603.5 94.7L606.5 97.2L609.5 100.2L612.5 103.0L615.5 105.6L618.5 108.6L621.5 112.2L624.5 116.1L627.5 119.5L630.5 122.5L633.5 125.4L636.5 128.2L639.5 130.8L642.5 133.7L645.5 137.0L648.5 140.7L651.5 144.6L654.5 148.2L657.5 151.7L660.5 155.4L663.5 159.4L666.5 163.3L669.5 167.1L672.5 170.8L675.5 174.2L676.5 175.0M393.5 59.4L396.5 59.1L399.5 58.9L402.5 58.6L405.5 58.3L408.5 58.0L411.5 57.7L414.5 57.4L417.5 57.1L420.5 56.7L423.5 56.3L426.5 55.8L429.5 55.4L432.5 55.0L435.5 54.5L438.5 54.1L441.5 53.7L444.5 53.0L447.5 52.4L450.5 52.2L453.5 52.1L456.5 52.0L459.5 51.8L462.5 51.2L465.5 50.9L468.5 51.0L471.5 50.5L474.5 49.2L477.5 48.2L480.5 48.5L483.5 49.5L486.5 49.7L489.5 48.4L492.5 46.4L495.5 45.8L498.5 45.9L501.5 43.5L504.5 40.4L507.5 38.2L510.5 36.7L513.5 36.0L516.5 35.7L519.5 36.8L522.5 39.1L525.5 39.8L528.5 38.1L531.5 36.5L534.5 37.8L537.5 40.6L540.5 41.8L543.5 39.5L546.5 35.6L549.5 33.8L552.5 35.5L555.5 38.0L558.5 39.0L561.5 39.5L564.5 40.7L567.5 42.3L570.5 44.0L573.5 45.5L576.5 46.5L579.5 46.5L582.5 45.9L585.5 46.1L588.5 47.4L591.5 48.5L594.5 49.4L597.5 50.7L600.5 52.1L603.5 53.3L606.5 54.7L609.5 56.3L612.5 58.5L615.5 61.0L618.5 63.4L621.5 65.4L624.5 67.6L627.5 70.3L630.5 73.3L633.5 76.2L636.5 79.6L639.5 83.3L642.5 86.5L645.5 89.1L648.5 92.0L651.5 95.0L654.5 98.0L657.5 101.2L660.5 104.8L663.5 108.6L666.5 111.9L669.5 115.1L672.5 118.6L675.5 122.1L676.5 123.0M393.5 69.6L396.5 69.5L399.5 69.3L402.5 69.1L405.5 69.0L408.5 68.8L411.5 68.6L414.5 68.4L417.5 68.2L420.5 68.0L423.5 67.7L426.5 67.5L429.5 67.2L432.5 66.7L435.5 66.2L438.5 65.7L441.5 65.3L444.5 65.1L447.5 65.3L450.5 65.5L453.5 65.7L456.5 66.0L459.5 66.2L462.5 65.7L465.5 64.9L468.5 64.0L471.5 62.7L474.5 61.6L477.5 60.5L480.5 59.3L483.5 59.0L486.5 59.5L489.5 57.6L492.5 54.2L495.5 52.6L498.5 53.1L501.5 54.8L504.5 56.1L507.5 55.7L510.5 54.1L513.5 53.5L516.5 53.6L519.5 51.4L522.5 47.4L525.5 45.8L528.5 47.1L531.5 48.2L534.5 47.2L537.5 45.9L540.5 46.8L543.5 48.7L546.5 50.7L549.5 52.2L552.5 52.3L555.5 53.0L558.5 54.7L561.5 56.7L564.5 58.2L567.5 59.6L570.5 60.6L573.5 60.5L576.5 60.4L579.5 61.4L582.5 62.4L585.5 63.0L588.5 63.9L591.5 64.8L594.5 65.9L597.5 67.1L600.5 68.8L603.5 70.8L606.5 73.1L609.5 75.4L612.5 77.3L615.5 78.8L618.5 80.6L621.5 83.6L624.5 87.2L627.5 90.5L630.5 93.7L633.5 96.5L636.5 99.0L639.5 101.5L642.5 104.3L645.5 107.4L648.5 110.7L651.5 113.7L654.5 116.7L657.5 119.8L660.5 123.0L663.5 126.5L666.5 130.2L669.5 133.7L672.5 136.7L675.5 139.0L676.5 139.4M393.5 65.5L396.5 65.4L399.5 65.2L402.5 64.9L405.5 64.7L408.5 64.5L411.5 64.2L414.5 64.0L417.5 63.7L420.5 63.4L423.5 63.1L426.5 62.7L429.5 62.3L432.5 62.0L435.5 61.6L438.5 61.1L441.5 60.4L444.5 60.1L447.5 60.0L450.5 59.6L453.5 58.9L456.5 57.8L459.5 56.8L462.5 56.2L465.5 55.5L468.5 54.7L471.5 54.1L474.5 54.2L477.5 55.0L480.5 55.5L483.5 55.1L486.5 55.3L489.5 55.9L492.5 56.4L495.5 56.4L498.5 55.1L501.5 53.4L504.5 52.3L507.5 52.3L510.5 51.2L513.5 48.6L516.5 46.7L519.5 47.0L522.5 48.3L525.5 48.4L528.5 46.5L531.5 45.1L534.5 44.8L537.5 44.2L540.5 42.8L543.5 41.0L546.5 40.5L549.5 41.6L552.5 42.2L555.5 42.6L558.5 43.9L561.5 45.7L564.5 45.9L567.5 45.1L570.5 45.1L573.5 45.8L576.5 46.4L579.5 46.8L582.5 48.0L585.5 49.7L588.5 50.5L591.5 51.2L594.5 52.1L597.5 53.1L600.5 54.6L603.5 56.6L606.5 58.6L609.5 60.2L612.5 61.8L615.5 63.3L618.5 64.6L621.5 66.3L624.5 68.9L627.5 71.9L630.5 74.9L633.5 77.8L636.5 80.7L639.5 83.4L642.5 86.1L645.5 89.2L648.5 92.2L651.5 94.9L654.5 97.8L657.5 101.4L660.5 105.2L663.5 109.0L666.5 112.9L669.5 116.4L672.5 119.6L675.5 122.2L676.5 122.8M393.5 66.4L396.5 66.2L399.5 66.0L402.5 65.8L405.5 65.6L408.5 65.4L411.5 65.2L414.5 65.0L417.5 64.8L420.5 64.6L423.5 64.2L426.5 63.8L429.5 63.4L432.5 63.0L435.5 62.7L438.5 62.5L441.5 62.3L444.5 62.1L447.5 61.7L450.5 61.1L453.5 60.2L456.5 59.4L459.5 58.8L462.5 59.4L465.5 60.8L468.5 61.9L471.5 61.5L474.5 59.9L477.5 57.4L480.5 53.8L483.5 50.9L486.5 50.3L489.5 52.0L492.5 54.0L495.5 52.7L498.5 50.3L501.5 50.1L504.5 49.3L507.5 46.5L510.5 44.8L513.5 45.8L516.5 47.2L519.5 47.0L522.5 47.1L525.5 48.0L528.5 48.2L531.5 48.0L534.5 46.5L537.5 44.9L540.5 45.5L543.5 46.5L546.5 47.3L549.5 49.6L552.5 51.7L555.5 51.7L558.5 52.0L561.5 53.9L564.5 55.4L567.5 56.2L570.5 56.6L573.5 55.9L576.5 55.9L579.5 57.7L582.5 59.5L585.5 60.4L588.5 61.5L591.5 62.3L594.5 63.4L597.5 65.4L600.5 67.4L603.5 68.7L606.5 69.4L609.5 70.5L612.5 72.0L615.5 73.9L618.5 76.4L621.5 79.5L624.5 82.9L627.5 86.2L630.5 89.5L633.5 93.1L636.5 96.4L639.5 99.3L642.5 102.2L645.5 105.4L648.5 108.5L651.5 111.4L654.5 114.8L657.5 118.2L660.5 121.3L663.5 124.6L666.5 128.4L669.5 132.0L672.5 135.4L675.5 138.4L676.5 139.1M393.5 77.3L396.5 77.2L399.5 77.1L402.5 77.1L405.5 77.0L408.5 76.9L411.5 76.8L414.5 76.7L417.5 76.7L420.5 76.6L423.5 76.5L426.5 76.4L429.5 76.3L432.5 76.3L435.5 76.3L438.5 76.2L441.5 75.7L444.5 75.2L447.5 74.9L450.5 74.8L453.5 74.9L456.5 75.5L459.5 75.3L462.5 73.7L465.5 72.2L468.5 72.3L471.5 73.6L474.5 74.1L477.5 73.2L480.5 72.5L483.5 73.3L486.5 74.4L489.5 74.1L492.5 72.1L495.5 70.8L498.5 71.3L501.5 71.4L504.5 68.9L507.5 64.7L510.5 62.4L513.5 62.4L516.5 63.3L519.5 64.6L522.5 66.2L525.5 69.5L528.5 73.0L531.5 72.8L534.5 70.2L537.5 69.2L540.5 69.4L543.5 70.3L546.5 72.4L549.5 73.8L552.5 74.0L555.5 73.8L558.5 73.6L561.5 72.9L564.5 72.4L567.5 73.4L570.5 75.1L573.5 75.4L576.5 75.1L579.5 76.3L582.5 79.5L585.5 84.5L588.5 89.3L591.5 92.4L594.5 94.6L597.5 96.7L600.5 99.0L603.5 101.7L606.5 104.5L609.5 107.0L612.5 109.4L615.5 112.2L618.5 115.3L621.5 118.7L624.5 122.1L627.5 125.4L630.5 128.9L633.5 132.6L636.5 136.1L639.5 139.2L642.5 142.2L645.5 145.5L648.5 149.3L651.5 153.3L654.5 157.2L657.5 161.1L660.5 165.3L663.5 169.7L666.5 174.4L669.5 179.2L672.5 183.8L675.5 187.8L676.5 188.9M393.5 90.5L396.5 90.5L399.5 90.5L402.5 90.4L405.5 90.4L408.5 90.3L411.5 90.3L414.5 90.3L417.5 90.3L420.5 90.2L423.5 90.1L426.5 90.1L429.5 90.0L432.5 90.0L435.5 90.2L438.5 90.2L441.5 89.9L444.5 89.8L447.5 90.0L450.5 89.9L453.5 89.5L456.5 89.1L459.5 88.9L462.5 88.9L465.5 88.6L468.5 88.0L471.5 87.4L474.5 87.2L477.5 87.0L480.5 86.5L483.5 86.6L486.5 87.5L489.5 88.2L492.5 86.7L495.5 84.3L498.5 83.9L501.5 85.0L504.5 85.6L507.5 85.3L510.5 83.7L513.5 80.9L516.5 78.4L519.5 77.0L522.5 75.4L525.5 74.5L528.5 76.1L531.5 78.8L534.5 79.4L537.5 76.9L540.5 74.7L543.5 75.0L546.5 75.8L549.5 76.2L552.5 77.5L555.5 78.7L558.5 78.9L561.5 79.1L564.5 79.8L567.5 80.6L570.5 81.5L573.5 82.9L576.5 84.3L579.5 86.5L582.5 90.0L585.5 93.7L588.5 96.9L591.5 99.5L594.5 101.5L597.5 102.9L600.5 105.1L603.5 109.1L606.5 113.3L609.5 116.6L612.5 119.4L615.5 122.6L618.5 126.7L621.5 130.8L624.5 134.0L627.5 136.6L630.5 139.6L633.5 143.3L636.5 147.1L639.5 150.3L642.5 153.5L645.5 157.2L648.5 161.1L651.5 165.0L654.5 169.0L657.5 172.7L660.5 176.1L663.5 179.8L666.5 183.7L669.5 187.2L672.5 190.2L675.5 192.4L676.5 192.9M393.5 78.6L396.5 78.5L399.5 78.4L402.5 78.3L405.5 78.2L408.5 78.0L411.5 77.9L414.5 77.8L417.5 77.6L420.5 77.4L423.5 77.2L426.5 77.0L429.5 76.8L432.5 76.7L435.5 76.6L438.5 76.3L441.5 75.7L444.5 74.7L447.5 73.8L450.5 73.2L453.5 72.7L456.5 72.3L459.5 71.7L462.5 70.8L465.5 70.0L468.5 70.4L471.5 70.9L474.5 69.9L477.5 67.4L480.5 66.0L483.5 67.2L486.5 69.1L489.5 68.8L492.5 66.2L495.5 63.0L498.5 60.1L501.5 57.5L504.5 55.7L507.5 54.9L510.5 55.3L513.5 55.6L516.5 55.1L519.5 55.5L522.5 57.5L525.5 59.3L528.5 57.7L531.5 53.9L534.5 52.1L537.5 52.1L540.5 51.8L543.5 51.3L546.5 50.7L549.5 50.4L552.5 50.4L555.5 50.0L558.5 50.6L561.5 53.3L564.5 56.3L567.5 57.1L570.5 56.4L573.5 55.9L576.5 56.3L579.5 57.6L582.5 58.5L585.5 58.9L588.5 60.2L591.5 62.0L594.5 63.9L597.5 66.2L600.5 69.0L603.5 71.7L606.5 73.5L609.5 75.2L612.5 76.9L615.5 78.8L618.5 81.1L621.5 83.7L624.5 86.4L627.5 89.7L630.5 93.0L633.5 95.9L636.5 99.1L639.5 102.3L642.5 105.1L645.5 107.6L648.5 110.4L651.5 113.5L654.5 116.9L657.5 120.4L660.5 123.7L663.5 126.8L666.5 130.1L669.5 133.5L672.5 136.4L675.5 138.3L676.5 138.7M393.5 66.8L396.5 66.7L399.5 66.5L402.5 66.3L405.5 66.1L408.5 65.9L411.5 65.7L414.5 65.5L417.5 65.2L420.5 65.0L423.5 64.7L426.5 64.4L429.5 64.0L432.5 63.6L435.5 63.2L438.5 62.7L441.5 62.3L444.5 62.1L447.5 61.8L450.5 61.5L453.5 61.6L456.5 61.5L459.5 61.0L462.5 60.1L465.5 58.5L468.5 56.8L471.5 56.8L474.5 58.6L477.5 60.4L480.5 60.6L483.5 60.3L486.5 59.9L489.5 57.7L492.5 54.5L495.5 51.5L498.5 48.8L501.5 48.8L504.5 51.3L507.5 52.5L510.5 51.7L513.5 51.9L516.5 52.2L519.5 49.9L522.5 47.4L525.5 47.3L528.5 48.2L531.5 48.2L534.5 46.7L537.5 44.6L540.5 44.7L543.5 47.5L546.5 50.7L549.5 52.5L552.5 52.8L555.5 51.8L558.5 51.0L561.5 51.9L564.5 53.4L567.5 54.0L570.5 54.2L573.5 55.7L576.5 57.8L579.5 59.5L582.5 60.6L585.5 62.1L588.5 64.6L591.5 67.1L594.5 68.5L597.5 68.8L600.5 69.2L603.5 71.1L606.5 73.9L609.5 76.3L612.5 78.2L615.5 80.1L618.5 82.3L621.5 84.5L624.5 86.7L627.5 89.6L630.5 93.0L633.5 96.5L636.5 99.7L639.5 102.9L642.5 106.2L645.5 109.5L648.5 112.8L651.5 116.1L654.5 119.4L657.5 122.8L660.5 126.4L663.5 130.3L666.5 134.4L669.5 138.6L672.5 142.4L675.5 145.5L676.5 146.3M393.5 78.5L396.5 78.5L399.5 78.4L402.5 78.3L405.5 78.2L408.5 78.2L411.5 78.1L414.5 78.0L417.5 77.9L420.5 77.9L423.5 77.8L426.5 77.7L429.5 77.5L432.5 77.4L435.5 77.3L438.5 77.3L441.5 77.4L444.5 77.4L447.5 77.5L450.5 77.6L453.5 77.3L456.5 76.4L459.5 75.8L462.5 75.8L465.5 76.6L468.5 77.5L471.5 77.3L474.5 75.9L477.5 74.8L480.5 74.6L483.5 74.2L486.5 73.7L489.5 73.2L492.5 74.0L495.5 76.0L498.5 76.2L501.5 74.5L504.5 72.7L507.5 71.2L510.5 69.8L513.5 68.2L516.5 67.4L519.5 68.0L522.5 67.4L525.5 65.8L528.5 67.6L531.5 72.8L534.5 77.7L537.5 78.5L540.5 75.3L543.5 72.7L546.5 74.3L549.5 77.7L552.5 78.4L555.5 77.5L558.5 78.0L561.5 80.1L564.5 82.1L567.5 83.8L570.5 85.1L573.5 86.1L576.5 87.2L579.5 88.9L582.5 91.0L585.5 93.1L588.5 95.4L591.5 97.5L594.5 99.3L597.5 101.9L600.5 105.1L603.5 108.5L606.5 111.8L609.5 115.1L612.5 118.1L615.5 121.0L618.5 124.3L621.5 127.9L624.5 131.7L627.5 135.2L630.5 138.7L633.5 142.3L636.5 145.5L639.5 148.3L642.5 151.4L645.5 155.2L648.5 159.4L651.5 163.4L654.5 167.3L657.5 171.1L660.5 174.7L663.5 178.5L666.5 182.3L669.5 185.9L672.5 189.4L675.5 192.2L676.5 192.9M393.5 60.0L396.5 59.8L399.5 59.6L402.5 59.3L405.5 59.0L408.5 58.7L411.5 58.4L414.5 58.1L417.5 57.8L420.5 57.5L423.5 57.1L426.5 56.6L429.5 56.1L432.5 55.7L435.5 55.3L438.5 54.8L441.5 54.0L444.5 53.3L447.5 53.2L450.5 53.4L453.5 53.2L456.5 52.6L459.5 51.5L462.5 50.5L465.5 50.0L468.5 49.7L471.5 48.7L474.5 47.4L477.5 46.7L480.5 47.3L483.5 47.9L486.5 47.6L489.5 47.1L492.5 46.6L495.5 46.3L498.5 45.3L501.5 43.9L504.5 44.3L507.5 46.6L510.5 48.1L513.5 47.5L516.5 45.5L519.5 43.5L522.5 42.1L525.5 41.9L528.5 43.6L531.5 45.3L534.5 46.8L537.5 49.4L540.5 51.2L543.5 51.6L546.5 51.7L549.5 50.6L552.5 48.0L555.5 45.0L558.5 43.4L561.5 44.7L564.5 47.7L567.5 50.4L570.5 52.3L573.5 53.2L576.5 53.4L579.5 54.3L582.5 57.2L585.5 59.8L588.5 61.3L591.5 62.7L594.5 64.7L597.5 67.1L600.5 69.0L603.5 70.2L606.5 71.1L609.5 72.6L612.5 74.8L615.5 77.3L618.5 79.7L621.5 82.3L624.5 84.9L627.5 87.2L630.5 89.5L633.5 91.9L636.5 94.6L639.5 97.7L642.5 100.9L645.5 104.0L648.5 107.1L651.5 110.4L654.5 114.0L657.5 117.8L660.5 121.6L663.5 125.4L666.5 129.3L669.5 133.4L672.5 137.6L675.5 141.3L676.5 142.4M393.5 79.3L396.5 79.3L399.5 79.2L402.5 79.1L405.5 79.0L408.5 78.9L411.5 78.8L414.5 78.6L417.5 78.6L420.5 78.5L423.5 78.3L426.5 78.2L429.5 78.1L432.5 78.1L435.5 78.0L438.5 77.6L441.5 77.1L444.5 76.4L447.5 75.5L450.5 74.8L453.5 75.1L456.5 75.5L459.5 75.2L462.5 75.2L465.5 75.9L468.5 76.6L471.5 76.9L474.5 76.3L477.5 74.6L480.5 73.0L483.5 72.4L486.5 72.7L489.5 72.6L492.5 71.1L495.5 70.3L498.5 71.5L501.5 71.2L504.5 68.2L507.5 63.4L510.5 59.1L513.5 58.1L516.5 59.3L519.5 60.7L522.5 61.8L525.5 61.8L528.5 60.7L531.5 59.9L534.5 61.1L537.5 62.8L540.5 63.2L543.5 62.8L546.5 62.5L549.5 62.6L552.5 62.1L555.5 60.5L558.5 60.6L561.5 63.0L564.5 65.9L567.5 68.7L570.5 69.9L573.5 69.5L576.5 70.4L579.5 72.5L582.5 74.5L585.5 76.3L588.5 78.0L591.5 79.7L594.5 82.0L597.5 84.4L600.5 86.5L603.5 88.4L606.5 90.2L609.5 92.3L612.5 94.9L615.5 97.5L618.5 100.0L621.5 102.9L624.5 106.4L627.5 110.2L630.5 114.0L633.5 117.3L636.5 120.0L639.5 122.6L642.5 125.5L645.5 128.8L648.5 132.4L651.5 135.9L654.5 139.0L657.5 142.0L660.5 145.1L663.5 148.6L666.5 152.2L669.5 155.7L672.5 159.1L675.5 161.5L676.5 162.0M393.5 80.7L396.5 80.5L399.5 80.4L402.5 80.3L405.5 80.1L408.5 80.0L411.5 79.9L414.5 79.8L417.5 79.6L420.5 79.3L423.5 79.1L426.5 78.9L429.5 78.7L432.5 78.3L435.5 78.0L438.5 77.7L441.5 77.4L444.5 76.9L447.5 76.4L450.5 76.2L453.5 76.3L456.5 76.9L459.5 77.5L462.5 77.4L465.5 76.1L468.5 74.2L471.5 72.8L474.5 73.0L477.5 73.8L480.5 73.9L483.5 73.0L486.5 71.3L489.5 69.1L492.5 66.6L495.5 64.7L498.5 63.2L501.5 61.1L504.5 60.0L507.5 60.3L510.5 60.1L513.5 59.7L516.5 61.3L519.5 62.6L522.5 61.5L525.5 60.2L528.5 61.2L531.5 64.0L534.5 64.6L537.5 62.0L540.5 59.7L543.5 59.3L546.5 60.2L549.5 61.5L552.5 62.5L555.5 62.6L558.5 61.6L561.5 61.3L564.5 62.5L567.5 63.3L570.5 63.0L573.5 63.9L576.5 66.0L579.5 67.4L582.5 68.0L585.5 69.3L588.5 71.8L591.5 73.8L594.5 75.4L597.5 77.2L600.5 78.6L603.5 80.3L606.5 82.2L609.5 83.6L612.5 84.9L615.5 86.5L618.5 88.4L621.5 91.1L624.5 94.6L627.5 97.7L630.5 100.7L633.5 103.9L636.5 107.0L639.5 109.7L642.5 112.5L645.5 115.8L648.5 119.1L651.5 122.0L654.5 124.7L657.5 127.7L660.5 131.1L663.5 135.0L666.5 138.7L669.5 142.1L672.5 144.8L675.5 146.7L676.5 147.1M393.5 69.9L396.5 69.8L399.5 69.6L402.5 69.5L405.5 69.4L408.5 69.2L411.5 69.1L414.5 69.0L417.5 68.8L420.5 68.6L423.5 68.4L426.5 68.1L429.5 67.9L432.5 67.6L435.5 67.3L438.5 66.7L441.5 66.3L444.5 66.2L447.5 66.2L450.5 65.8L453.5 65.2L456.5 64.8L459.5 64.7L462.5 64.7L465.5 64.5L468.5 63.6L471.5 62.9L474.5 63.8L477.5 64.9L480.5 65.6L483.5 66.0L486.5 65.6L489.5 64.7L492.5 64.2L495.5 63.9L498.5 63.1L501.5 60.8L504.5 58.2L507.5 56.5L510.5 54.4L513.5 52.4L516.5 52.8L519.5 55.1L522.5 56.8L525.5 56.0L528.5 52.1L531.5 48.3L534.5 49.2L537.5 53.6L540.5 56.7L543.5 56.9L546.5 55.9L549.5 55.6L552.5 55.7L555.5 55.5L558.5 56.2L561.5 58.0L564.5 60.0L567.5 60.9L570.5 61.3L573.5 62.9L576.5 65.4L579.5 68.0L582.5 70.4L585.5 71.2L588.5 71.1L591.5 72.3L594.5 75.2L597.5 78.5L600.5 81.7L603.5 84.9L606.5 87.5L609.5 89.6L612.5 91.5L615.5 93.7L618.5 96.2L621.5 98.8L624.5 101.7L627.5 104.8L630.5 107.9L633.5 110.8L636.5 113.5L639.5 116.3L642.5 119.4L645.5 122.8L648.5 126.4L651.5 130.2L654.5 134.1L657.5 137.9L660.5 142.0L663.5 146.4L666.5 150.9L669.5 155.5L672.5 160.1L675.5 164.0L676.5 164.9M393.5 68.7L396.5 68.6L399.5 68.4L402.5 68.3L405.5 68.1L408.5 67.9L411.5 67.7L414.5 67.5L417.5 67.3L420.5 67.1L423.5 66.8L426.5 66.5L429.5 66.1L432.5 65.8L435.5 65.7L438.5 65.5L441.5 65.2L444.5 64.5L447.5 63.6L450.5 62.8L453.5 62.5L456.5 62.8L459.5 62.9L462.5 62.2L465.5 61.0L468.5 59.9L471.5 58.8L474.5 57.9L477.5 57.2L480.5 55.5L483.5 53.7L486.5 52.3L489.5 50.7L492.5 50.0L495.5 51.6L498.5 54.5L501.5 56.0L504.5 54.0L507.5 50.6L510.5 48.6L513.5 47.0L516.5 45.9L519.5 46.3L522.5 47.3L525.5 48.5L528.5 49.8L531.5 50.6L534.5 51.4L537.5 50.9L540.5 49.2L543.5 48.1L546.5 47.6L549.5 46.5L552.5 45.7L555.5 45.5L558.5 45.3L561.5 46.0L564.5 48.4L567.5 51.5L570.5 53.5L573.5 54.9L576.5 56.1L579.5 56.8L582.5 57.2L585.5 58.1L588.5 58.9L591.5 59.2L594.5 59.3L597.5 60.0L600.5 61.3L603.5 63.2L606.5 65.7L609.5 68.3L612.5 70.3L615.5 72.2L618.5 74.5L621.5 77.4L624.5 80.6L627.5 83.9L630.5 86.9L633.5 89.8L636.5 92.8L639.5 95.7L642.5 98.6L645.5 101.4L648.5 103.9L651.5 106.7L654.5 109.9L657.5 113.6L660.5 117.7L663.5 122.1L666.5 126.1L669.5 129.8L672.5 133.3L675.5 136.2L676.5 136.9M393.5 85.0L396.5 85.0L399.5 84.9L402.5 84.8L405.5 84.8L408.5 84.7L411.5 84.6L414.5 84.5L417.5 84.4L420.5 84.3L423.5 84.2L426.5 84.2L429.5 84.1L432.5 84.1L435.5 84.2L438.5 84.4L441.5 84.2L444.5 83.9L447.5 83.5L450.5 83.1L453.5 82.4L456.5 81.3L459.5 79.9L462.5 78.9L465.5 79.0L468.5 80.2L471.5 81.5L474.5 82.6L477.5 83.3L480.5 82.6L483.5 80.1L486.5 77.4L489.5 75.5L492.5 73.7L495.5 73.0L498.5 74.6L501.5 75.5L504.5 73.7L507.5 72.0L510.5 72.5L513.5 73.6L516.5 73.4L519.5 72.6L522.5 71.7L525.5 69.9L528.5 67.9L531.5 67.9L534.5 70.3L537.5 72.1L540.5 70.8L543.5 67.5L546.5 65.3L549.5 66.4L552.5 69.0L555.5 70.7L558.5 70.9L561.5 69.7L564.5 69.4L567.5 71.3L570.5 74.0L573.5 75.7L576.5 76.0L579.5 76.4L582.5 77.8L585.5 79.2L588.5 80.9L591.5 84.0L594.5 87.7L597.5 90.6L600.5 92.5L603.5 94.3L606.5 96.4L609.5 98.8L612.5 101.7L615.5 105.0L618.5 107.7L621.5 109.8L624.5 111.9L627.5 114.6L630.5 117.6L633.5 120.7L636.5 123.6L639.5 126.4L642.5 129.1L645.5 132.0L648.5 135.0L651.5 138.3L654.5 141.9L657.5 145.6L660.5 149.3L663.5 153.0L666.5 156.8L669.5 160.6L672.5 164.2L675.5 167.1L676.5 167.7M393.5 90.3L396.5 90.2L399.5 90.2L402.5 90.2L405.5 90.1L408.5 90.1L411.5 90.0L414.5 90.0L417.5 90.0L420.5 89.9L423.5 89.9L426.5 89.8L429.5 89.7L432.5 89.6L435.5 89.6L438.5 89.5L441.5 89.4L444.5 89.3L447.5 89.3L450.5 89.4L453.5 89.3L456.5 88.8L459.5 88.1L462.5 87.5L465.5 87.3L468.5 87.3L471.5 87.8L474.5 88.1L477.5 88.4L480.5 89.4L483.5 89.6L486.5 87.7L489.5 85.4L492.5 84.8L495.5 85.5L498.5 86.7L501.5 85.6L504.5 80.2L507.5 74.7L510.5 73.5L513.5 74.5L516.5 74.8L519.5 74.8L522.5 75.6L525.5 76.4L528.5 74.9L531.5 71.9L534.5 71.5L537.5 72.9L540.5 71.9L543.5 69.7L546.5 69.8L549.5 72.9L552.5 76.2L555.5 78.5L558.5 79.8L561.5 80.6L564.5 81.5L567.5 82.3L570.5 82.9L573.5 83.3L576.5 83.5L579.5 84.8L582.5 87.6L585.5 90.3L588.5 92.6L591.5 94.6L594.5 96.6L597.5 99.7L600.5 103.7L603.5 106.9L606.5 109.7L609.5 113.0L612.5 116.5L615.5 119.8L618.5 122.9L621.5 125.9L624.5 129.4L627.5 133.2L630.5 136.5L633.5 139.6L636.5 142.6L639.5 145.9L642.5 149.4L645.5 152.8L648.5 156.1L651.5 159.6L654.5 163.4L657.5 167.1L660.5 171.0L663.5 175.0L666.5 179.1L669.5 183.1L672.5 186.8L675.5 189.9L676.5 190.6M393.5 61.9L396.5 61.7L399.5 61.5L402.5 61.2L405.5 61.0L408.5 60.7L411.5 60.4L414.5 60.1L417.5 59.9L420.5 59.6L423.5 59.3L426.5 58.9L429.5 58.5L432.5 58.1L435.5 57.6L438.5 57.2L441.5 57.0L444.5 56.8L447.5 56.1L450.5 54.9L453.5 53.7L456.5 53.3L459.5 53.6L462.5 54.3L465.5 55.0L468.5 54.7L471.5 52.6L474.5 50.1L477.5 49.8L480.5 51.1L483.5 51.9L486.5 52.5L489.5 53.1L492.5 53.1L495.5 52.0L498.5 50.0L501.5 48.1L504.5 45.5L507.5 41.8L510.5 39.9L513.5 41.1L516.5 43.2L519.5 43.5L522.5 42.4L525.5 42.0L528.5 42.2L531.5 41.5L534.5 40.2L537.5 39.6L540.5 41.3L543.5 44.1L546.5 45.3L549.5 46.6L552.5 47.8L555.5 47.3L558.5 46.3L561.5 46.3L564.5 47.6L567.5 49.1L570.5 50.1L573.5 50.5L576.5 50.4L579.5 51.4L582.5 53.4L585.5 54.4L588.5 55.3L591.5 56.8L594.5 58.3L597.5 60.4L600.5 62.7L603.5 64.2L606.5 65.1L609.5 66.2L612.5 68.0L615.5 70.3L618.5 73.1L621.5 76.2L624.5 79.0L627.5 81.9L630.5 85.0L633.5 87.8L636.5 90.3L639.5 93.2L642.5 96.4L645.5 99.6L648.5 103.0L651.5 106.8L654.5 110.6L657.5 114.1L660.5 117.5L663.5 121.3L666.5 125.3L669.5 129.3L672.5 133.4L675.5 136.9L676.5 137.8M393.5 88.8L396.5 88.7L399.5 88.7L402.5 88.6L405.5 88.5L408.5 88.5L411.5 88.4L414.5 88.3L417.5 88.3L420.5 88.1L423.5 88.0L426.5 88.0L429.5 88.0L432.5 87.9L435.5 87.9L438.5 88.3L441.5 88.9L444.5 89.2L447.5 88.8L450.5 88.0L453.5 87.0L456.5 86.6L459.5 87.0L462.5 86.9L465.5 85.9L468.5 85.1L471.5 84.8L474.5 84.4L477.5 83.5L480.5 83.0L483.5 82.8L486.5 82.3L489.5 82.0L492.5 80.8L495.5 78.7L498.5 77.6L501.5 78.2L504.5 80.7L507.5 83.5L510.5 83.8L513.5 81.5L516.5 78.7L519.5 77.2L522.5 76.4L525.5 74.8L528.5 72.9L531.5 72.9L534.5 73.8L537.5 74.0L540.5 73.5L543.5 72.4L546.5 70.7L549.5 69.5L552.5 67.9L555.5 66.2L558.5 66.0L561.5 66.7L564.5 67.2L567.5 68.4L570.5 69.7L573.5 69.8L576.5 69.7L579.5 71.6L582.5 73.6L585.5 73.5L588.5 73.9L591.5 76.0L594.5 78.3L597.5 80.4L600.5 82.5L603.5 84.3L606.5 85.4L609.5 86.8L612.5 89.1L615.5 91.5L618.5 94.1L621.5 97.1L624.5 100.5L627.5 103.8L630.5 106.9L633.5 110.1L636.5 113.3L639.5 116.0L642.5 118.6L645.5 121.5L648.5 124.5L651.5 127.5L654.5 130.8L657.5 134.4L660.5 138.4L663.5 142.6L666.5 146.8L669.5 150.9L672.5 155.1L675.5 158.7L676.5 159.6M393.5 64.9L396.5 64.7L399.5 64.4L402.5 64.1L405.5 63.8L408.5 63.5L411.5 63.2L414.5 62.9L417.5 62.5L420.5 62.0L423.5 61.6L426.5 61.0L429.5 60.5L432.5 59.9L435.5 59.5L438.5 59.1L441.5 58.6L444.5 57.9L447.5 57.0L450.5 56.5L453.5 56.5L456.5 56.3L459.5 55.6L462.5 55.1L465.5 54.9L468.5 53.5L471.5 50.8L474.5 49.6L477.5 51.3L480.5 53.0L483.5 52.0L486.5 49.9L489.5 48.8L492.5 48.3L495.5 47.0L498.5 44.3L501.5 41.6L504.5 40.6L507.5 39.6L510.5 37.9L513.5 37.5L516.5 38.2L519.5 38.2L522.5 37.2L525.5 36.4L528.5 37.3L531.5 39.7L534.5 40.4L537.5 38.8L540.5 37.3L543.5 37.2L546.5 37.3L549.5 37.4L552.5 37.7L555.5 38.0L558.5 39.1L561.5 40.5L564.5 41.3L567.5 42.2L570.5 43.6L573.5 43.8L576.5 43.1L579.5 42.6L582.5 42.8L585.5 43.6L588.5 44.5L591.5 45.0L594.5 45.5L597.5 46.5L600.5 48.7L603.5 51.6L606.5 53.4L609.5 54.7L612.5 57.0L615.5 60.4L618.5 63.7L621.5 66.3L624.5 68.7L627.5 71.2L630.5 73.9L633.5 76.8L636.5 79.9L639.5 82.9L642.5 85.8L645.5 88.6L648.5 91.5L651.5 94.5L654.5 97.5L657.5 101.1L660.5 105.0L663.5 108.7L666.5 112.1L669.5 115.7L672.5 119.7L675.5 123.5L676.5 124.6M393.5 88.4L396.5 88.3L399.5 88.3L402.5 88.2L405.5 88.2L408.5 88.1L411.5 88.0L414.5 87.9L417.5 87.8L420.5 87.8L423.5 87.7L426.5 87.6L429.5 87.5L432.5 87.4L435.5 87.2L438.5 87.0L441.5 87.2L444.5 87.7L447.5 87.9L450.5 87.6L453.5 87.2L456.5 86.5L459.5 85.8L462.5 86.0L465.5 86.8L468.5 86.7L471.5 85.2L474.5 83.9L477.5 83.7L480.5 82.9L483.5 81.8L486.5 81.3L489.5 79.9L492.5 78.2L495.5 77.9L498.5 79.4L501.5 80.8L504.5 79.5L507.5 76.6L510.5 74.9L513.5 75.8L516.5 77.3L519.5 76.6L522.5 73.5L525.5 70.0L528.5 69.1L531.5 72.0L534.5 75.5L537.5 76.4L540.5 76.1L543.5 75.6L546.5 74.7L549.5 75.3L552.5 77.4L555.5 77.4L558.5 76.0L561.5 75.5L564.5 75.5L567.5 76.2L570.5 78.1L573.5 79.1L576.5 79.0L579.5 80.4L582.5 82.4L585.5 84.3L588.5 87.4L591.5 90.5L594.5 92.3L597.5 92.8L600.5 93.9L603.5 96.4L606.5 99.2L609.5 101.8L612.5 104.3L615.5 107.0L618.5 110.2L621.5 113.9L624.5 117.6L627.5 120.8L630.5 123.8L633.5 126.8L636.5 129.8L639.5 132.6L642.5 135.4L645.5 138.8L648.5 142.4L651.5 145.8L654.5 149.1L657.5 152.4L660.5 155.8L663.5 159.3L666.5 163.0L669.5 166.6L672.5 169.9L675.5 172.4L676.5 172.9M393.5 64.6L396.5 64.5L399.5 64.3L402.5 64.0L405.5 63.8L408.5 63.5L411.5 63.3L414.5 63.0L417.5 62.8L420.5 62.6L423.5 62.3L426.5 61.9L429.5 61.6L432.5 61.2L435.5 60.9L438.5 60.8L441.5 60.8L444.5 60.6L447.5 60.4L450.5 60.1L453.5 59.2L456.5 58.1L459.5 57.0L462.5 56.0L465.5 55.1L468.5 53.8L471.5 52.3L474.5 51.6L477.5 52.5L480.5 54.0L483.5 54.8L486.5 54.7L489.5 53.7L492.5 51.5L495.5 50.4L498.5 51.3L501.5 51.4L504.5 49.0L507.5 45.6L510.5 43.8L513.5 44.5L516.5 46.1L519.5 48.0L522.5 48.6L525.5 47.5L528.5 47.4L531.5 47.2L534.5 45.3L537.5 44.0L540.5 45.6L543.5 47.3L546.5 46.2L549.5 45.6L552.5 47.7L555.5 48.9L558.5 47.7L561.5 46.4L564.5 45.8L567.5 46.1L570.5 47.3L573.5 50.5L576.5 54.2L579.5 55.5L582.5 55.8L585.5 56.6L588.5 57.7L591.5 59.0L594.5 60.7L597.5 62.2L600.5 63.1L603.5 64.4L606.5 66.6L609.5 68.9L612.5 71.0L615.5 72.8L618.5 74.8L621.5 77.3L624.5 80.3L627.5 83.0L630.5 85.5L633.5 88.6L636.5 92.1L639.5 95.5L642.5 98.5L645.5 101.3L648.5 104.0L651.5 107.2L654.5 110.7L657.5 114.2L660.5 117.0L663.5 120.0L666.5 123.6L669.5 127.2L672.5 130.1L675.5 131.9L676.5 132.3M393.5 83.7L396.5 83.6L399.5 83.5L402.5 83.4L405.5 83.3L408.5 83.2L411.5 83.1L414.5 83.0L417.5 82.9L420.5 82.8L423.5 82.7L426.5 82.6L429.5 82.4L432.5 82.1L435.5 81.7L438.5 81.6L441.5 81.8L444.5 81.5L447.5 80.6L450.5 79.6L453.5 79.1L456.5 78.9L459.5 78.4L462.5 77.8L465.5 77.3L468.5 77.0L471.5 77.1L474.5 77.5L477.5 77.5L480.5 77.5L483.5 76.7L486.5 74.7L489.5 72.1L492.5 69.9L495.5 68.1L498.5 66.2L501.5 64.0L504.5 62.5L507.5 62.0L510.5 62.0L513.5 62.5L516.5 63.3L519.5 64.6L522.5 65.4L525.5 63.1L528.5 60.3L531.5 60.9L534.5 64.0L537.5 66.6L540.5 67.5L543.5 66.8L546.5 64.6L549.5 61.5L552.5 59.9L555.5 60.7L558.5 62.8L561.5 64.5L564.5 65.0L567.5 64.2L570.5 63.0L573.5 63.6L576.5 66.5L579.5 69.8L582.5 72.0L585.5 73.5L588.5 75.1L591.5 76.6L594.5 78.0L597.5 79.6L600.5 81.2L603.5 82.8L606.5 84.6L609.5 86.7L612.5 89.0L615.5 91.0L618.5 92.9L621.5 95.0L624.5 97.6L627.5 100.4L630.5 103.4L633.5 106.5L636.5 109.5L639.5 112.6L642.5 115.7L645.5 118.8L648.5 122.1L651.5 125.8L654.5 129.8L657.5 134.1L660.5 138.6L663.5 143.4L666.5 148.4L669.5 153.0L672.5 157.1L675.5 160.4L676.5 161.2M393.5 59.1L396.5 58.9L399.5 58.6L402.5 58.3L405.5 58.1L408.5 57.8L411.5 57.5L414.5 57.2L417.5 57.0L420.5 56.6L423.5 56.1L426.5 55.6L429.5 55.2L432.5 54.8L435.5 54.3L438.5 53.7L441.5 53.3L444.5 53.2L447.5 52.9L450.5 52.8L453.5 53.1L456.5 52.8L459.5 51.5L462.5 50.4L465.5 50.2L468.5 50.4L471.5 50.0L474.5 47.9L477.5 45.8L480.5 46.6L483.5 48.5L486.5 48.0L489.5 45.7L492.5 44.0L495.5 42.5L498.5 40.8L501.5 40.3L504.5 41.8L507.5 43.2L510.5 42.6L513.5 40.2L516.5 38.9L519.5 40.2L522.5 41.0L525.5 38.9L528.5 36.9L531.5 37.1L534.5 38.3L537.5 39.1L540.5 38.9L543.5 39.4L546.5 41.3L549.5 42.9L552.5 43.0L555.5 43.8L558.5 46.2L561.5 47.6L564.5 47.2L567.5 46.9L570.5 47.5L573.5 49.3L576.5 51.9L579.5 53.8L582.5 54.9L585.5 56.3L588.5 58.2L591.5 59.1L594.5 58.6L597.5 58.1L600.5 58.2L603.5 59.3L606.5 60.8L609.5 62.5L612.5 64.3L615.5 66.6L618.5 69.3L621.5 72.1L624.5 75.1L627.5 77.8L630.5 80.8L633.5 84.4L636.5 87.7L639.5 90.6L642.5 93.3L645.5 96.1L648.5 99.4L651.5 102.9L654.5 106.0L657.5 108.7L660.5 111.9L663.5 115.7L666.5 119.6L669.5 123.0L672.5 125.8L675.5 127.9L676.5 128.4M393.5 67.7L396.5 67.5L399.5 67.4L402.5 67.1L405.5 66.9L408.5 66.7L411.5 66.5L414.5 66.4L417.5 66.2L420.5 65.9L423.5 65.7L426.5 65.3L429.5 65.0L432.5 64.6L435.5 64.4L438.5 64.2L441.5 63.9L444.5 63.6L447.5 63.4L450.5 63.3L453.5 62.7L456.5 61.4L459.5 60.3L462.5 59.5L465.5 59.1L468.5 59.3L471.5 59.3L474.5 58.4L477.5 57.9L480.5 58.9L483.5 58.8L486.5 56.4L489.5 54.9L492.5 55.5L495.5 55.2L498.5 54.3L501.5 54.8L504.5 54.2L507.5 51.7L510.5 50.6L513.5 51.1L516.5 53.1L519.5 55.4L522.5 55.4L525.5 52.6L528.5 47.7L531.5 43.1L534.5 42.4L537.5 44.4L540.5 46.3L543.5 47.1L546.5 47.1L549.5 47.2L552.5 48.0L555.5 49.3L558.5 50.3L561.5 50.1L564.5 49.2L567.5 49.7L570.5 51.4L573.5 53.0L576.5 54.2L579.5 55.5L582.5 57.5L585.5 59.2L588.5 60.7L591.5 63.1L594.5 65.8L597.5 67.9L600.5 69.6L603.5 71.1L606.5 72.9L609.5 75.2L612.5 77.6L615.5 79.7L618.5 81.7L621.5 84.4L624.5 87.8L627.5 91.2L630.5 94.6L633.5 97.8L636.5 100.5L639.5 102.9L642.5 105.6L645.5 108.4L648.5 111.5L651.5 115.0L654.5 118.7L657.5 122.4L660.5 125.9L663.5 129.7L666.5 133.8L669.5 138.1L672.5 142.2L675.5 145.5L676.5 146.3M393.5 71.4L396.5 71.3L399.5 71.1L402.5 71.0L405.5 70.8L408.5 70.7L411.5 70.5L414.5 70.3L417.5 70.1L420.5 69.9L423.5 69.8L426.5 69.5L429.5 69.3L432.5 69.0L435.5 69.0L438.5 68.9L441.5 68.6L444.5 68.1L447.5 67.5L450.5 67.0L453.5 66.6L456.5 66.3L459.5 66.5L462.5 67.2L465.5 67.5L468.5 66.5L471.5 65.5L474.5 65.4L477.5 64.4L480.5 62.5L483.5 63.3L486.5 66.1L489.5 66.6L492.5 65.4L495.5 66.4L498.5 67.8L501.5 67.4L504.5 66.8L507.5 65.4L510.5 63.4L513.5 63.4L516.5 66.1L519.5 68.3L522.5 67.6L525.5 64.8L528.5 61.1L531.5 58.5L534.5 58.6L537.5 60.1L540.5 60.0L543.5 58.5L546.5 59.0L549.5 62.1L552.5 64.0L555.5 63.4L558.5 63.5L561.5 65.7L564.5 67.8L567.5 67.8L570.5 65.9L573.5 63.6L576.5 64.4L579.5 68.2L582.5 71.7L585.5 73.3L588.5 74.3L591.5 76.7L594.5 80.3L597.5 83.7L600.5 85.9L603.5 88.1L606.5 90.7L609.5 92.8L612.5 94.4L615.5 95.8L618.5 97.9L621.5 100.6L624.5 103.7L627.5 107.1L630.5 110.5L633.5 113.9L636.5 117.0L639.5 119.9L642.5 123.3L645.5 126.9L648.5 130.3L651.5 133.6L654.5 137.2L657.5 141.2L660.5 145.5L663.5 149.9L666.5 154.2L669.5 158.3L672.5 162.2L675.5 165.3L676.5 166.0M393.5 91.8L396.5 91.8L399.5 91.8L402.5 91.7L405.5 91.7L408.5 91.7L411.5 91.6L414.5 91.6L417.5 91.6L420.5 91.5L423.5 91.4L426.5 91.3L429.5 91.2L432.5 91.1L435.5 91.0L438.5 90.7L441.5 89.9L444.5 89.1L447.5 88.7L450.5 88.6L453.5 88.4L456.5 88.3L459.5 88.6L462.5 89.1L465.5 88.7L468.5 87.1L471.5 86.2L474.5 86.2L477.5 86.5L480.5 86.9L483.5 86.3L486.5 84.8L489.5 83.7L492.5 84.3L495.5 84.8L498.5 84.0L501.5 83.4L504.5 82.5L507.5 81.3L510.5 81.4L513.5 82.1L516.5 81.4L519.5 78.1L522.5 74.5L525.5 74.2L528.5 75.6L531.5 74.9L534.5 73.4L537.5 73.7L540.5 75.3L543.5 77.8L546.5 80.8L549.5 82.2L552.5 81.2L555.5 80.2L558.5 80.6L561.5 81.1L564.5 81.5L567.5 82.1L570.5 82.1L573.5 81.5L576.5 81.5L579.5 83.2L582.5 86.2L585.5 89.0L588.5 91.6L591.5 94.7L594.5 98.1L597.5 101.3L600.5 103.7L603.5 105.7L606.5 108.5L609.5 112.1L612.5 115.7L615.5 119.3L618.5 122.5L621.5 125.6L624.5 128.8L627.5 132.1L630.5 135.2L633.5 138.3L636.5 141.6L639.5 145.3L642.5 149.3L645.5 153.3L648.5 157.0L651.5 160.3L654.5 163.6L657.5 167.5L660.5 171.9L663.5 176.4L666.5 180.9L669.5 185.6L672.5 190.3L675.5 194.2L676.5 195.2M393.5 50.6L396.5 50.5L399.5 50.2L402.5 49.9L405.5 49.7L408.5 49.4L411.5 49.2L414.5 48.9L417.5 48.7L420.5 48.4L423.5 48.2L426.5 47.8L429.5 47.5L432.5 47.1L435.5 46.6L438.5 45.8L441.5 44.9L444.5 44.2L447.5 43.5L450.5 42.6L453.5 41.5L456.5 40.3L459.5 39.0L462.5 38.4L465.5 38.9L468.5 39.8L471.5 39.7L474.5 38.6L477.5 37.0L480.5 35.3L483.5 34.6L486.5 35.3L489.5 36.6L492.5 37.0L495.5 35.9L498.5 34.6L501.5 35.1L504.5 36.2L507.5 35.0L510.5 32.9L513.5 31.6L516.5 30.1L519.5 28.5L522.5 28.6L525.5 30.7L528.5 34.1L531.5 37.4L534.5 38.7L537.5 37.5L540.5 35.9L543.5 36.3L546.5 38.4L549.5 40.4L552.5 41.1L555.5 40.4L558.5 39.8L561.5 40.1L564.5 40.4L567.5 40.0L570.5 39.8L573.5 41.1L576.5 43.9L579.5 47.2L582.5 49.3L585.5 49.9L588.5 50.2L591.5 50.6L594.5 51.2L597.5 52.1L600.5 52.8L603.5 53.8L606.5 55.6L609.5 57.9L612.5 60.1L615.5 62.2L618.5 65.2L621.5 68.9L624.5 72.4L627.5 75.6L630.5 79.0L633.5 82.4L636.5 85.6L639.5 88.5L642.5 91.5L645.5 94.7L648.5 97.9L651.5 101.0L654.5 104.1L657.5 107.2L660.5 110.2L663.5 113.3L666.5 116.6L669.5 120.3L672.5 123.9L675.5 126.8L676.5 127.5M393.5 74.9L396.5 74.8L399.5 74.7L402.5 74.5L405.5 74.4L408.5 74.2L411.5 74.0L414.5 73.9L417.5 73.7L420.5 73.4L423.5 73.2L426.5 72.9L429.5 72.6L432.5 72.2L435.5 71.8L438.5 71.4L441.5 71.1L444.5 70.8L447.5 70.2L450.5 69.4L453.5 68.9L456.5 68.6L459.5 67.7L462.5 66.3L465.5 64.9L468.5 63.8L471.5 62.9L474.5 61.8L477.5 59.7L480.5 56.6L483.5 55.2L486.5 56.1L489.5 56.0L492.5 54.4L495.5 52.9L498.5 51.4L501.5 48.8L504.5 46.0L507.5 43.6L510.5 41.5L513.5 40.2L516.5 40.5L519.5 41.6L522.5 41.5L525.5 40.5L528.5 40.8L531.5 41.0L534.5 38.7L537.5 34.8L540.5 32.6L543.5 32.5L546.5 33.0L549.5 34.5L552.5 35.5L555.5 35.0L558.5 34.5L561.5 34.2L564.5 34.7L567.5 36.2L570.5 37.9L573.5 38.3L576.5 37.7L579.5 37.5L582.5 38.1L585.5 39.1L588.5 39.6L591.5 40.8L594.5 42.9L597.5 44.5L600.5 45.7L603.5 47.4L606.5 49.7L609.5 52.7L612.5 55.9L615.5 59.2L618.5 62.5L621.5 65.5L624.5 67.9L627.5 69.7L630.5 71.6L633.5 73.9L636.5 76.8L639.5 80.2L642.5 83.7L645.5 87.2L648.5 90.6L651.5 93.8L654.5 97.1L657.5 100.2L660.5 103.0L663.5 105.6L666.5 108.2L669.5 110.8L672.5 113.3L675.5 115.1L676.5 115.4M393.5 83.1L396.5 83.1L399.5 83.0L402.5 82.9L405.5 82.8L408.5 82.7L411.5 82.6L414.5 82.5L417.5 82.4L420.5 82.3L423.5 82.2L426.5 82.1L429.5 82.0L432.5 81.9L435.5 81.7L438.5 81.6L441.5 81.4L444.5 81.1L447.5 80.6L450.5 80.5L453.5 81.2L456.5 82.1L459.5 82.2L462.5 81.6L465.5 81.1L468.5 80.3L471.5 78.7L474.5 77.7L477.5 77.7L480.5 76.4L483.5 73.6L486.5 72.1L489.5 72.5L492.5 72.4L495.5 71.5L498.5 72.1L501.5 74.0L504.5 74.6L507.5 74.5L510.5 74.7L513.5 73.9L516.5 72.0L519.5 71.2L522.5 71.0L525.5 68.7L528.5 64.9L531.5 63.0L534.5 63.6L537.5 64.6L540.5 65.3L543.5 66.5L546.5 67.8L549.5 68.9L552.5 69.1L555.5 68.0L558.5 67.1L561.5 68.3L564.5 70.4L567.5 72.1L570.5 74.0L573.5 75.6L576.5 76.8L579.5 77.7L582.5 78.7L585.5 80.6L588.5 83.8L591.5 87.5L594.5 90.4L597.5 92.1L600.5 93.9L603.5 96.5L606.5 99.6L609.5 102.6L612.5 105.5L615.5 108.2L618.5 110.9L621.5 113.7L624.5 116.7L627.5 119.8L630.5 123.0L633.5 126.1L636.5 129.2L639.5 132.6L642.5 136.1L645.5 139.5L648.5 142.8L651.5 146.3L654.5 150.0L657.5 153.6L660.5 157.3L663.5 160.8L666.5 163.7L669.5 166.3L672.5 168.5L675.5 169.7L676.5 169.8M560.0 86.6L562.0 87.7L564.0 88.8L566.0 89.8L568.0 90.7L570.0 91.5L572.0 92.2L574.0 93.0L576.0 94.2L578.0 95.7L580.0 97.2L582.0 98.6L584.0 100.0L586.0 101.5L588.0 102.9L590.0 104.4L592.0 105.9L594.0 107.4L596.0 109.1L598.0 111.2L600.0 113.6L602.0 116.2L604.0 118.9L606.0 121.5L608.0 123.9L610.0 126.3L612.0 128.8L614.0 131.4L616.0 134.3L618.0 137.2L620.0 140.0L622.0 142.6L624.0 145.1L626.0 147.4L628.0 149.7L630.0 152.1L632.0 154.5L634.0 156.9L636.0 159.2L638.0 161.4L640.0 163.6L642.0 165.7L644.0 167.9L646.0 170.0L648.0 172.2L650.0 174.5L652.0 176.9L654.0 179.4L656.0 181.9L658.0 184.5L660.0 187.1L662.0 189.9L664.0 192.7L666.0 195.6L668.0 198.5L670.0 201.2L672.0 203.9L674.0 206.4L676.0 208.5M590.0 103.9L592.0 105.7L594.0 107.6L596.0 109.5L598.0 111.8L600.0 114.5L602.0 117.2L604.0 120.0L606.0 122.6L608.0 125.1L610.0 127.4L612.0 129.8L614.0 132.2L616.0 134.9L618.0 137.6L620.0 140.2L622.0 142.6L624.0 144.9L626.0 147.1L628.0 149.2L630.0 151.5L632.0 153.9L634.0 156.3L636.0 158.6L638.0 160.9L640.0 163.2L642.0 165.4L644.0 167.6L646.0 169.9L648.0 172.2L650.0 174.6L652.0 177.0L654.0 179.6L656.0 182.1L658.0 184.7L660.0 187.3L662.0 190.1L664.0 192.8L666.0 195.6L668.0 198.4L670.0 201.1L672.0 203.6L674.0 206.1L676.0 208.2M540.0 88.0L543.0 88.3L546.0 88.6L549.0 88.9L552.0 89.2L555.0 89.5L558.0 89.8L561.0 90.1L564.0 90.4L567.0 91.7L570.0 93.4L573.0 95.1L576.0 96.8L579.0 98.9L582.0 102.0L585.0 105.3L588.0 108.6L591.0 112.0L594.0 115.5L597.0 119.0L600.0 122.6L603.0 126.2L606.0 130.0L609.0 133.9L612.0 137.8L615.0 141.7L618.0 145.5L621.0 149.3L624.0 153.0L627.0 156.8L630.0 160.5L633.0 164.2L636.0 167.9L639.0 171.6L642.0 175.3L645.0 179.0L648.0 182.6L651.0 186.2L654.0 189.8L657.0 193.4L660.0 197.0L663.0 200.8L666.0 204.6L669.0 208.5L672.0 212.3L675.0 216.0L676.0 216.9M393.5 101.0L396.5 101.0L399.5 101.0L402.5 101.0L405.5 101.0L408.5 101.0L411.5 101.0L414.5 101.0L417.5 101.0L420.5 101.0L423.5 101.1L426.5 101.3L429.5 101.4L432.5 101.5L435.5 101.4L438.5 101.3L441.5 101.1L444.5 101.0L447.5 100.7L450.5 100.4L453.5 100.1L456.5 99.5L459.5 98.5L462.5 97.5L465.5 96.5L468.5 95.5L471.5 94.2L474.5 92.8L477.5 91.2L480.5 89.8L483.5 88.4L486.5 87.5L489.5 86.7L492.5 85.9L495.5 85.5L498.5 85.0L501.5 84.5L504.5 84.1M470.0 95.9L473.0 95.1L476.0 94.2L479.0 93.3L482.0 92.7L485.0 92.2L488.0 91.7L491.0 91.3L494.0 91.0L497.0 90.8L500.0 90.7L503.0 90.6L506.0 90.2L509.0 89.5L512.0 88.8L515.0 88.1L518.0 88.2L521.0 88.4L524.0 89.1L527.0 90.1L530.0 90.9L533.0 91.2L536.0 91.4L539.0 91.2L542.0 90.3L545.0 89.4L548.0 88.4L551.0 87.2L554.0 85.9L557.0 84.9L560.0 84.6L563.0 84.2L565.0 84.0M560.0 84.1L563.0 85.2L566.0 86.4L569.0 87.6L572.0 88.8L575.0 90.2L578.0 92.8L581.0 95.6L584.0 98.6L587.0 101.7L590.0 104.7L593.0 107.8L596.0 110.9L599.0 114.0L602.0 117.2L605.0 120.6L608.0 124.0L611.0 127.3L614.0 130.7L617.0 134.0L620.0 137.2L623.0 140.4L626.0 143.5L629.0 146.7L632.0 149.8L635.0 153.0L638.0 156.1L641.0 159.3L644.0 162.4L647.0 165.6L650.0 168.8L653.0 171.9L656.0 175.0L659.0 178.1L662.0 181.2L665.0 184.2L668.0 187.3L671.0 190.4L674.0 193.4L676.0 195.1M440.0 46.9L443.0 46.4L446.0 45.8L449.0 45.2L452.0 44.6L455.0 44.0L458.0 43.4L461.0 42.8L464.0 42.2L467.0 41.7L470.0 41.3L473.0 40.9L476.0 40.5L479.0 40.1L482.0 39.2L485.0 38.1L488.0 37.0L491.0 35.5L494.0 33.9L497.0 32.3L500.0 30.6L503.0 28.7L506.0 26.5L509.0 24.4L512.0 21.9L515.0 19.3L518.0 17.4L521.0 16.4L524.0 17.5L527.0 20.9L530.0 25.4L533.0 29.7L536.0 32.0L539.0 33.5L542.0 34.5L545.0 35.3L548.0 36.1L551.0 37.5L554.0 39.0L557.0 40.6L560.0 42.2L563.0 43.9L566.0 45.5L569.0 47.0L572.0 48.5L575.0 50.0L578.0 51.2L581.0 52.4L584.0 53.6L587.0 54.8L590.0 56.0L593.0 57.5L596.0 59.0L599.0 60.5L602.0 62.0L605.0 63.5L608.0 65.0L611.0 66.7L614.0 68.8L617.0 70.9L620.0 73.0L623.0 75.1L626.0 77.2L629.0 79.3L632.0 81.4L635.0 83.5L638.0 85.6L641.0 87.7L644.0 89.8L647.0 91.9L650.0 94.1L653.0 96.8L656.0 99.7L659.0 102.5L662.0 105.3L665.0 108.2L668.0 111.0L671.0 113.8L674.0 116.6L676.0 118.2M450.0 43.9L453.0 43.2L456.0 42.5L459.0 41.7L462.0 41.0L465.0 39.9L468.0 38.8L471.0 37.7L474.0 36.9L477.0 35.9L480.0 34.3L483.0 32.5L486.0 30.4L489.0 28.9L492.0 28.3L495.0 28.2L498.0 28.5L501.0 29.7L504.0 31.2L507.0 32.9L510.0 34.2L513.0 35.3L516.0 36.2L519.0 36.8L522.0 37.4L525.0 38.0L528.0 38.3L531.0 38.6L534.0 38.9L535.0 39.0M440.0 43.9L443.0 43.2L446.0 42.4L449.0 41.6L452.0 40.8L455.0 40.0L458.0 38.9L461.0 37.8L464.0 36.2L467.0 34.2L470.0 32.6L473.0 31.8L476.0 32.0L479.0 33.2L482.0 35.3L485.0 36.6L488.0 37.7L491.0 38.7L494.0 39.7L497.0 40.4L500.0 41.0L503.0 41.6L505.0 41.9M520.0 39.9L523.0 38.8L526.0 37.6L529.0 36.4L532.0 35.1L535.0 33.9L538.0 32.6L541.0 31.2L544.0 30.7L547.0 31.0L550.0 32.1L553.0 33.6L556.0 35.4L559.0 36.8L562.0 37.5L565.0 37.1L568.0 36.9L571.0 37.0L574.0 37.3L577.0 37.4L580.0 37.2L583.0 36.9L586.0 36.9L589.0 37.3L592.0 39.4L595.0 42.0L598.0 45.0L601.0 48.0L604.0 51.0L607.0 53.8L610.0 56.1L613.0 58.4L616.0 60.8L619.0 63.2L622.0 65.6L625.0 68.0L628.0 70.4L631.0 72.8L634.0 75.2L637.0 77.6L640.0 80.0L643.0 82.4L646.0 84.8L649.0 87.2L652.0 89.8L655.0 92.5L658.0 95.2L661.0 98.0L664.0 100.7L667.0 103.4L670.0 106.1L673.0 108.8L676.0 111.2" stroke="#777" stroke-width="0.45" fill="none" stroke-linejoin="round"/>
<path d="M393.5 47.5L395.5 47.5L397.5 47.5L399.5 47.6L401.5 47.6L403.5 47.6L405.5 47.6L407.5 47.5L409.5 47.4L411.5 47.3L413.5 47.3L415.5 47.2L417.5 47.1L419.5 47.1L421.5 47.0L423.5 46.8L425.5 46.7L427.5 46.5L429.5 46.2L431.5 45.9L433.5 45.6L435.5 45.3L437.5 44.9L439.5 44.6L441.5 44.2L443.5 43.8L445.5 43.4L447.5 42.9L449.5 42.5L451.5 42.1L453.5 41.6L455.5 41.1L457.5 40.6L459.5 40.1L461.5 39.7L463.5 39.2L465.5 38.7L467.5 38.1L469.5 37.3L471.5 36.5L473.5 36.1L475.5 36.1L477.5 36.1L479.5 36.1L481.5 36.1L483.5 36.2L485.5 36.3L487.5 36.5L489.5 36.6L491.5 36.7L493.5 36.5L495.5 35.9L497.5 35.1L499.5 34.1L501.5 33.0L503.5 31.8L505.5 30.6L507.5 29.9L509.5 30.3L511.5 30.8L513.5 31.5L515.5 32.6L517.5 33.7L519.5 34.7L521.5 35.4L523.5 35.2L525.5 34.8L527.5 34.5L529.5 34.1L531.5 33.8L533.5 33.8L535.5 33.9L537.5 34.1L539.5 34.4L541.5 34.8L543.5 35.2L545.5 35.5L547.5 35.9L549.5 36.3L551.5 36.6L553.5 37.1L555.5 38.4L557.5 39.8L559.5 41.0L561.5 42.0L563.5 42.2L565.5 42.3L567.5 42.4L569.5 42.5L571.5 42.6L573.5 42.9L575.5 43.5L577.5 44.2L579.5 44.9L581.5 45.7L583.5 46.6L585.5 47.4L587.5 48.3L589.5 49.4L591.5 50.9L593.5 52.4L595.5 53.9L597.5 55.4L599.5 56.9L601.5 58.4L603.5 59.9L605.5 61.4L607.5 63.0L609.5 64.5L611.5 66.0L613.5 67.6L615.5 69.1L617.5 70.6L619.5 72.2L621.5 73.7L623.5 75.2L625.5 76.8L627.5 78.2L629.5 79.6L631.5 81.0L633.5 82.4L635.5 83.8L637.5 85.2L639.5 86.7L641.5 88.6L643.5 90.6L645.5 92.6L647.5 94.7L649.5 97.1L651.5 99.7L653.5 102.2L655.5 104.5L657.5 106.1L659.5 107.6L661.5 109.1L663.5 110.9L665.5 114.3L667.5 118.0L669.5 121.5L671.5 124.0L673.5 126.2L675.5 128.4L676.5 129.2" stroke="#d8d8d8" stroke-width="2.4" fill="none"/>
<path d="M393.5 47.5L395.5 47.5L397.5 47.5L399.5 47.6L401.5 47.6L403.5 47.6L405.5 47.6L407.5 47.5L409.5 47.4L411.5 47.3L413.5 47.3L415.5 47.2L417.5 47.1L419.5 47.1L421.5 47.0L423.5 46.8L425.5 46.7L427.5 46.5L429.5 46.2L431.5 45.9L433.5 45.6L435.5 45.3L437.5 44.9L439.5 44.6L441.5 44.2L443.5 43.8L445.5 43.4L447.5 42.9L449.5 42.5L451.5 42.1L453.5 41.6L455.5 41.1L457.5 40.6L459.5 40.1L461.5 39.7L463.5 39.2L465.5 38.7L467.5 38.1L469.5 37.3L471.5 36.5L473.5 36.1L475.5 36.1L477.5 36.1L479.5 36.1L481.5 36.1L483.5 36.2L485.5 36.3L487.5 36.5L489.5 36.6L491.5 36.7L493.5 36.5L495.5 35.9L497.5 35.1L499.5 34.1L501.5 33.0L503.5 31.8L505.5 30.6L507.5 29.9L509.5 30.3L511.5 30.8L513.5 31.5L515.5 32.6L517.5 33.7L519.5 34.7L521.5 35.4L523.5 35.2L525.5 34.8L527.5 34.5L529.5 34.1L531.5 33.8L533.5 33.8L535.5 33.9L537.5 34.1L539.5 34.4L541.5 34.8L543.5 35.2L545.5 35.5L547.5 35.9L549.5 36.3L551.5 36.6L553.5 37.1L555.5 38.4L557.5 39.8L559.5 41.0L561.5 42.0L563.5 42.2L565.5 42.3L567.5 42.4L569.5 42.5L571.5 42.6L573.5 42.9L575.5 43.5L577.5 44.2L579.5 44.9L581.5 45.7L583.5 46.6L585.5 47.4L587.5 48.3L589.5 49.4L591.5 50.9L593.5 52.4L595.5 53.9L597.5 55.4L599.5 56.9L601.5 58.4L603.5 59.9L605.5 61.4L607.5 63.0L609.5 64.5L611.5 66.0L613.5 67.6L615.5 69.1L617.5 70.6L619.5 72.2L621.5 73.7L623.5 75.2L625.5 76.8L627.5 78.2L629.5 79.6L631.5 81.0L633.5 82.4L635.5 83.8L637.5 85.2L639.5 86.7L641.5 88.6L643.5 90.6L645.5 92.6L647.5 94.7L649.5 97.1L651.5 99.7L653.5 102.2L655.5 104.5L657.5 106.1L659.5 107.6L661.5 109.1L663.5 110.9L665.5 114.3L667.5 118.0L669.5 121.5L671.5 124.0L673.5 126.2L675.5 128.4L676.5 129.2" stroke="#a8a8a8" stroke-width="0.6" fill="none"/>
<path d="M393.5 95.8L395.5 95.8L397.5 95.7L399.5 95.7L401.5 95.6L403.5 95.6L405.5 95.5L407.5 95.5L409.5 95.5L411.5 95.4L413.5 95.4L415.5 95.3L417.5 95.3L419.5 95.2L421.5 95.2L423.5 95.2L425.5 95.1L427.5 95.1L429.5 95.0L431.5 95.0L433.5 94.9L435.5 94.9L437.5 94.7L439.5 94.6L441.5 94.4L443.5 94.2L445.5 94.1L447.5 93.9L449.5 93.7L451.5 93.6L453.5 93.4L455.5 93.2L457.5 92.8L459.5 92.4L461.5 92.0L463.5 91.5L465.5 91.1L467.5 90.7L469.5 90.2L471.5 89.8L473.5 89.4L475.5 89.0L477.5 88.6L479.5 88.2L481.5 87.8L483.5 87.4L485.5 87.0L487.5 86.5L489.5 86.1L491.5 85.6L493.5 85.1L495.5 84.6L497.5 84.1L499.5 83.6L501.5 83.1L503.5 82.6L505.5 82.1L507.5 81.6L509.5 81.3L511.5 81.3L513.5 81.4L515.5 81.5L517.5 81.6L519.5 81.6L521.5 81.7L523.5 81.8L525.5 81.9L527.5 82.0L529.5 82.1L531.5 82.1L533.5 82.2L535.5 82.3L537.5 82.4L539.5 82.4L541.5 82.5L543.5 82.6L545.5 82.6L547.5 82.7L549.5 82.8L551.5 82.9L553.5 83.3L555.5 83.9L557.5 84.7L559.5 85.4L561.5 86.2L563.5 87.0L565.5 87.7L567.5 88.5L569.5 89.3L571.5 90.1L573.5 90.9L575.5 92.3L577.5 94.0L579.5 95.9L581.5 97.8L583.5 99.6L585.5 101.5L587.5 103.4L589.5 105.2L591.5 107.0L593.5 108.8L595.5 110.6L597.5 112.6L599.5 114.9L601.5 117.4L603.5 119.9L605.5 122.2L607.5 124.3L609.5 126.3L611.5 128.3L613.5 130.4L615.5 132.8L617.5 135.3L619.5 137.8L621.5 140.3L623.5 142.6L625.5 144.8L627.5 147.1L629.5 149.6L631.5 152.2L633.5 154.9L635.5 157.6L637.5 160.3L639.5 162.9L641.5 165.5L643.5 168.0L645.5 170.6L647.5 173.1L649.5 175.6L651.5 178.2L653.5 180.7L655.5 183.2L657.5 185.7L659.5 188.2L661.5 190.6L663.5 193.1L665.5 195.6L667.5 198.0L669.5 200.4L671.5 202.6L673.5 204.7L675.5 206.7L676.5 207.4" stroke="#d8d8d8" stroke-width="2.4" fill="none"/>
<path d="M393.5 95.8L395.5 95.8L397.5 95.7L399.5 95.7L401.5 95.6L403.5 95.6L405.5 95.5L407.5 95.5L409.5 95.5L411.5 95.4L413.5 95.4L415.5 95.3L417.5 95.3L419.5 95.2L421.5 95.2L423.5 95.2L425.5 95.1L427.5 95.1L429.5 95.0L431.5 95.0L433.5 94.9L435.5 94.9L437.5 94.7L439.5 94.6L441.5 94.4L443.5 94.2L445.5 94.1L447.5 93.9L449.5 93.7L451.5 93.6L453.5 93.4L455.5 93.2L457.5 92.8L459.5 92.4L461.5 92.0L463.5 91.5L465.5 91.1L467.5 90.7L469.5 90.2L471.5 89.8L473.5 89.4L475.5 89.0L477.5 88.6L479.5 88.2L481.5 87.8L483.5 87.4L485.5 87.0L487.5 86.5L489.5 86.1L491.5 85.6L493.5 85.1L495.5 84.6L497.5 84.1L499.5 83.6L501.5 83.1L503.5 82.6L505.5 82.1L507.5 81.6L509.5 81.3L511.5 81.3L513.5 81.4L515.5 81.5L517.5 81.6L519.5 81.6L521.5 81.7L523.5 81.8L525.5 81.9L527.5 82.0L529.5 82.1L531.5 82.1L533.5 82.2L535.5 82.3L537.5 82.4L539.5 82.4L541.5 82.5L543.5 82.6L545.5 82.6L547.5 82.7L549.5 82.8L551.5 82.9L553.5 83.3L555.5 83.9L557.5 84.7L559.5 85.4L561.5 86.2L563.5 87.0L565.5 87.7L567.5 88.5L569.5 89.3L571.5 90.1L573.5 90.9L575.5 92.3L577.5 94.0L579.5 95.9L581.5 97.8L583.5 99.6L585.5 101.5L587.5 103.4L589.5 105.2L591.5 107.0L593.5 108.8L595.5 110.6L597.5 112.6L599.5 114.9L601.5 117.4L603.5 119.9L605.5 122.2L607.5 124.3L609.5 126.3L611.5 128.3L613.5 130.4L615.5 132.8L617.5 135.3L619.5 137.8L621.5 140.3L623.5 142.6L625.5 144.8L627.5 147.1L629.5 149.6L631.5 152.2L633.5 154.9L635.5 157.6L637.5 160.3L639.5 162.9L641.5 165.5L643.5 168.0L645.5 170.6L647.5 173.1L649.5 175.6L651.5 178.2L653.5 180.7L655.5 183.2L657.5 185.7L659.5 188.2L661.5 190.6L663.5 193.1L665.5 195.6L667.5 198.0L669.5 200.4L671.5 202.6L673.5 204.7L675.5 206.7L676.5 207.4" stroke="#a8a8a8" stroke-width="0.6" fill="none"/>
<path d="M393.5 76.2L395.5 76.1L397.5 76.1L399.5 76.0L401.5 75.9L403.5 75.8L405.5 75.8L407.5 75.7L409.5 75.6L411.5 75.5L413.5 75.5L415.5 75.4L417.5 75.3L419.5 75.3L421.5 75.2L423.5 75.0L425.5 74.9L427.5 74.8L429.5 74.7L431.5 74.5L433.5 74.4L435.5 74.3L437.5 74.1L439.5 74.0L441.5 73.9L443.5 73.7L445.5 73.5L447.5 73.2L449.5 72.9L451.5 72.6L453.5 72.3L455.5 72.0L457.5 71.7L459.5 71.3L461.5 71.0L463.5 70.7L465.5 70.4L467.5 70.1L469.5 69.8L471.5 69.5L473.5 69.2L475.5 69.0L477.5 68.7L479.5 68.4L481.5 68.2L483.5 67.9L485.5 67.6L487.5 67.1L489.5 66.5L491.5 65.9L493.5 65.4L495.5 64.8L497.5 64.2L499.5 63.7L501.5 63.1L503.5 62.6L505.5 62.1L507.5 61.6L509.5 61.0L511.5 60.5L513.5 60.0L515.5 59.7L517.5 59.9L519.5 60.4L521.5 60.9L523.5 61.1L525.5 60.6L527.5 60.0L529.5 59.4L531.5 58.8L533.5 58.3L535.5 58.3L537.5 58.6L539.5 58.9L541.5 59.2L543.5 59.6L545.5 59.9L547.5 60.2L549.5 60.5L551.5 60.7L553.5 61.0L555.5 61.2L557.5 61.4L559.5 61.8L561.5 62.3L563.5 62.9L565.5 63.4L567.5 64.0L569.5 64.6L571.5 65.1L573.5 65.6L575.5 66.1L577.5 66.8L579.5 68.1L581.5 69.5L583.5 71.0L585.5 72.5L587.5 73.9L589.5 75.4L591.5 76.9L593.5 78.3L595.5 79.8L597.5 81.3L599.5 82.7L601.5 84.2L603.5 85.7L605.5 87.1L607.5 88.4L609.5 89.7L611.5 90.9L613.5 92.2L615.5 93.4L617.5 94.8L619.5 96.5L621.5 98.5L623.5 100.5L625.5 102.5L627.5 104.6L629.5 106.6L631.5 108.6L633.5 110.6L635.5 112.5L637.5 114.4L639.5 116.1L641.5 118.1L643.5 120.3L645.5 122.5L647.5 124.7L649.5 126.9L651.5 129.2L653.5 131.6L655.5 134.1L657.5 136.6L659.5 139.2L661.5 142.0L663.5 144.9L665.5 147.8L667.5 150.7L669.5 153.4L671.5 156.2L673.5 158.9L675.5 161.5L676.5 162.4" stroke="#f00000" stroke-width="3.15" fill="none" stroke-linejoin="round"/>
<path d="M394.2 47.5L395.2 47.5L396.2 47.5L397.2 47.5L398.2 47.5L399.2 47.6L400.2 47.6L401.2 47.6L402.2 47.6L403.2 47.6L404.2 47.6L405.2 47.6L405.9 47.6M416.4 47.2L417.4 47.1L418.4 47.1L419.4 47.1L420.4 47.0L421.4 47.0L422.4 46.9L423.4 46.8L424.4 46.8L425.4 46.7L426.4 46.6L427.4 46.5L428.1 46.5M439.7 44.5L440.7 44.3L441.7 44.1L442.7 43.9L443.7 43.7L444.7 43.5L445.7 43.3L446.7 43.1L447.7 42.9L448.7 42.7L449.7 42.5L450.7 42.3L451.2 42.1M462.6 39.4L463.6 39.1L464.6 38.9L465.6 38.6L466.6 38.4L467.6 38.0L468.6 37.6L469.6 37.2L470.6 36.8L471.6 36.4L472.6 36.2L473.6 36.1L473.8 36.1M482.0 36.1L483.0 36.2L484.0 36.2L485.0 36.3L486.0 36.4L487.0 36.4L488.0 36.5L489.0 36.5L490.0 36.6L491.0 36.7L492.0 36.7L493.0 36.6L493.7 36.5M503.2 32.0L504.2 31.4L505.2 30.8L506.2 30.3L507.2 30.0L508.2 30.0L509.2 30.2L510.2 30.5L511.2 30.7L512.2 31.0L513.2 31.4L514.1 31.8M521.3 35.4L522.3 35.4L523.3 35.2L524.3 35.0L525.3 34.9L526.3 34.7L527.3 34.5L528.3 34.3L529.3 34.1L530.3 33.9L531.3 33.8L532.3 33.8L532.9 33.8M542.6 35.0L543.6 35.2L544.6 35.4L545.6 35.6L546.6 35.7L547.6 35.9L548.6 36.1L549.6 36.3L550.6 36.5L551.6 36.7L552.6 36.9L553.6 37.2L554.0 37.4M561.3 41.9L562.3 42.1L563.3 42.2L564.3 42.3L565.3 42.3L566.3 42.4L567.3 42.4L568.3 42.5L569.3 42.5L570.3 42.6L571.3 42.6L572.3 42.7L573.0 42.8M583.0 46.3L584.0 46.8L585.0 47.2L586.0 47.7L587.0 48.1L588.0 48.6L589.0 49.1L590.0 49.8L591.0 50.5L592.0 51.3L593.0 52.0L593.1 52.1M600.6 57.7L601.6 58.5L602.6 59.3L603.6 60.0L604.6 60.8L605.6 61.5L606.6 62.3L607.6 63.0L608.6 63.8L609.6 64.6L609.9 64.8M620.0 72.6L621.0 73.3L622.0 74.1L623.0 74.9L624.0 75.6L625.0 76.4L626.0 77.1L627.0 77.8L628.0 78.5L629.0 79.2L629.4 79.5M639.4 86.6L640.4 87.5L641.4 88.5L642.4 89.5L643.4 90.5L644.4 91.5L645.4 92.5L646.4 93.5L647.4 94.6L647.7 94.9M655.2 104.2L656.2 105.1L657.2 105.9L658.2 106.6L659.2 107.4L660.2 108.1L661.2 108.9L662.2 109.6L663.2 110.6L664.0 111.7M669.8 121.9L670.8 123.2L671.8 124.4L672.8 125.5L673.8 126.6L674.8 127.6L675.8 128.6L676.5 129.2" stroke="#2f6a00" stroke-width="3.2" fill="none"/>
<path d="M394.5 95.8L395.5 95.8L396.5 95.7L397.5 95.7L398.5 95.7L399.5 95.7L400.5 95.7L401.5 95.6L402.5 95.6L403.5 95.6L404.5 95.6L405.5 95.5L406.2 95.5M416.4 95.3L417.4 95.3L418.4 95.3L419.4 95.2L420.4 95.2L421.4 95.2L422.4 95.2L423.4 95.2L424.4 95.1L425.4 95.1L426.4 95.1L427.4 95.1L428.1 95.1M439.7 94.6L440.7 94.5L441.7 94.4L442.7 94.3L443.7 94.2L444.7 94.1L445.7 94.1L446.7 94.0L447.7 93.9L448.7 93.8L449.7 93.7L450.7 93.6L451.4 93.6M463.0 91.7L464.0 91.4L465.0 91.2L466.0 91.0L467.0 90.8L468.0 90.6L469.0 90.4L470.0 90.1L471.0 89.9L472.0 89.7L473.0 89.5L474.0 89.3L474.5 89.2M485.0 87.1L486.0 86.8L487.0 86.6L488.0 86.4L489.0 86.2L490.0 86.0L491.0 85.7L492.0 85.5L493.0 85.2L494.0 85.0L495.0 84.7L496.0 84.5L496.4 84.4M505.4 82.1L506.4 81.9L507.4 81.6L508.4 81.5L509.4 81.3L510.4 81.3L511.4 81.3L512.4 81.3L513.4 81.4L514.4 81.4L515.4 81.5L516.4 81.5L517.1 81.5M527.3 82.0L528.3 82.0L529.3 82.1L530.3 82.1L531.3 82.1L532.3 82.2L533.3 82.2L534.3 82.3L535.3 82.3L536.3 82.3L537.3 82.4L538.3 82.4L539.0 82.4M550.7 82.8L551.7 82.9L552.7 83.1L553.7 83.3L554.7 83.6L555.7 84.0L556.7 84.4L557.7 84.7L558.7 85.1L559.7 85.5L560.7 85.9L561.7 86.3L561.9 86.4M571.0 89.9L572.0 90.3L573.0 90.7L574.0 91.2L575.0 91.9L576.0 92.7L577.0 93.6L578.0 94.5L579.0 95.4L580.0 96.4L580.4 96.7M588.7 104.5L589.7 105.4L590.7 106.3L591.7 107.2L592.7 108.1L593.7 109.0L594.7 109.9L595.7 110.8L596.7 111.8L597.3 112.4M605.2 121.8L606.2 122.9L607.2 124.0L608.2 125.0L609.2 126.0L610.2 127.0L611.2 128.0L612.2 129.0L613.2 130.1L613.4 130.3M620.7 139.3L621.7 140.5L622.7 141.6L623.7 142.8L624.7 143.9L625.7 145.1L626.7 146.2L627.7 147.4L628.4 148.2M636.5 158.9L637.5 160.3L638.5 161.6L639.5 162.9L640.5 164.2L641.5 165.5L642.5 166.8L643.5 168.0L643.6 168.2M650.6 177.0L651.6 178.3L652.6 179.6L653.6 180.8L654.6 182.1L655.6 183.3L656.6 184.6L657.6 185.8L657.9 186.2M665.6 195.7L666.6 196.9L667.6 198.1L668.6 199.3L669.6 200.5L670.6 201.6L671.6 202.7L672.6 203.8L673.3 204.5" stroke="#2f6a00" stroke-width="3.2" fill="none"/>
<path d="M393.50 228.00v-3M393.50 7.30v3M487.83 228.00v-3M487.83 7.30v3M582.17 228.00v-3M582.17 7.30v3M676.50 228.00v-3M676.50 7.30v3M393.50 228.00h3M676.50 228.00h-3M393.50 172.82h3M676.50 172.82h-3M393.50 117.65h3M676.50 117.65h-3M393.50 62.48h3M676.50 62.48h-3M393.50 7.30h3M676.50 7.30h-3" stroke="#6a6a6a" stroke-width="0.8" fill="none"/>
<path d="M421.90 228.00v-2.2M421.90 7.30v2.2M438.51 228.00v-2.2M438.51 7.30v2.2M450.29 228.00v-2.2M450.29 7.30v2.2M459.44 228.00v-2.2M459.44 7.30v2.2M466.91 228.00v-2.2M466.91 7.30v2.2M473.22 228.00v-2.2M473.22 7.30v2.2M478.69 228.00v-2.2M478.69 7.30v2.2M483.52 228.00v-2.2M483.52 7.30v2.2M516.23 228.00v-2.2M516.23 7.30v2.2M532.84 228.00v-2.2M532.84 7.30v2.2M544.63 228.00v-2.2M544.63 7.30v2.2M553.77 228.00v-2.2M553.77 7.30v2.2M561.24 228.00v-2.2M561.24 7.30v2.2M567.55 228.00v-2.2M567.55 7.30v2.2M573.02 228.00v-2.2M573.02 7.30v2.2M577.85 228.00v-2.2M577.85 7.30v2.2M610.56 228.00v-2.2M610.56 7.30v2.2M627.18 228.00v-2.2M627.18 7.30v2.2M638.96 228.00v-2.2M638.96 7.30v2.2M648.10 228.00v-2.2M648.10 7.30v2.2M655.57 228.00v-2.2M655.57 7.30v2.2M661.89 228.00v-2.2M661.89 7.30v2.2M667.36 228.00v-2.2M667.36 7.30v2.2M672.18 228.00v-2.2M672.18 7.30v2.2M393.50 211.39h2.2M676.50 211.39h-2.2M393.50 201.67h2.2M676.50 201.67h-2.2M393.50 194.78h2.2M676.50 194.78h-2.2M393.50 189.43h2.2M676.50 189.43h-2.2M393.50 185.07h2.2M676.50 185.07h-2.2M393.50 181.37h2.2M676.50 181.37h-2.2M393.50 178.17h2.2M676.50 178.17h-2.2M393.50 175.35h2.2M676.50 175.35h-2.2M393.50 156.22h2.2M676.50 156.22h-2.2M393.50 146.50h2.2M676.50 146.50h-2.2M393.50 139.61h2.2M676.50 139.61h-2.2M393.50 134.26h2.2M676.50 134.26h-2.2M393.50 129.89h2.2M676.50 129.89h-2.2M393.50 126.20h2.2M676.50 126.20h-2.2M393.50 123.00h2.2M676.50 123.00h-2.2M393.50 120.17h2.2M676.50 120.17h-2.2M393.50 101.04h2.2M676.50 101.04h-2.2M393.50 91.32h2.2M676.50 91.32h-2.2M393.50 84.43h2.2M676.50 84.43h-2.2M393.50 79.08h2.2M676.50 79.08h-2.2M393.50 74.72h2.2M676.50 74.72h-2.2M393.50 71.02h2.2M676.50 71.02h-2.2M393.50 67.82h2.2M676.50 67.82h-2.2M393.50 65.00h2.2M676.50 65.00h-2.2M393.50 45.87h2.2M676.50 45.87h-2.2M393.50 36.15h2.2M676.50 36.15h-2.2M393.50 29.26h2.2M676.50 29.26h-2.2M393.50 23.91h2.2M676.50 23.91h-2.2M393.50 19.54h2.2M676.50 19.54h-2.2M393.50 15.85h2.2M676.50 15.85h-2.2M393.50 12.65h2.2M676.50 12.65h-2.2M393.50 9.82h2.2M676.50 9.82h-2.2" stroke="#8a8a8a" stroke-width="0.6" fill="none"/>
<rect x="393.50" y="7.30" width="283.00" height="220.70" stroke="#8c8c8c" stroke-width="1" fill="none"/>
<g font-family="&quot;Liberation Sans&quot;, sans-serif" font-size="14" fill="#404040"><text x="393.50" y="251.2" text-anchor="middle">10<tspan dy="-6.4" font-size="10">-2</tspan></text><text x="487.83" y="251.2" text-anchor="middle">10<tspan dy="-6.4" font-size="10">-1</tspan></text><text x="582.17" y="251.2" text-anchor="middle">10<tspan dy="-6.4" font-size="10">0</tspan></text><text x="676.50" y="251.2" text-anchor="middle">10<tspan dy="-6.4" font-size="10">1</tspan></text><text x="389.50" y="235.40" text-anchor="end">10<tspan dy="-6.4" font-size="10">-3</tspan></text><text x="389.50" y="180.22" text-anchor="end">10<tspan dy="-6.4" font-size="10">-2</tspan></text><text x="389.50" y="125.05" text-anchor="end">10<tspan dy="-6.4" font-size="10">-1</tspan></text><text x="389.50" y="69.88" text-anchor="end">10<tspan dy="-6.4" font-size="10">0</tspan></text><text x="389.50" y="14.70" text-anchor="end">10<tspan dy="-6.4" font-size="10">1</tspan></text></g>
<g font-family="'Liberation Sans', sans-serif" font-size="15" fill="#333">
<text x="187.9" y="270.4" text-anchor="middle">Period(sec)</text>
<text x="535.1" y="270.4" text-anchor="middle">Period(sec)</text>
<text transform="translate(11,117.9) rotate(-90)" text-anchor="middle">Sa(g)</text>
<text transform="translate(358.8,118) rotate(-90)" text-anchor="middle">Sa(g)</text>
</g>
<g font-family="'Liberation Serif', serif" font-size="15.4" fill="#111">
<text x="86.6" y="306.5">(<tspan font-weight="bold">a</tspan>) No-pulse ground motion</text>
<text x="439.2" y="306.8">(<tspan font-weight="bold">b</tspan>) Pulse-like ground motion</text>
</g>
</svg>
</body></html>
